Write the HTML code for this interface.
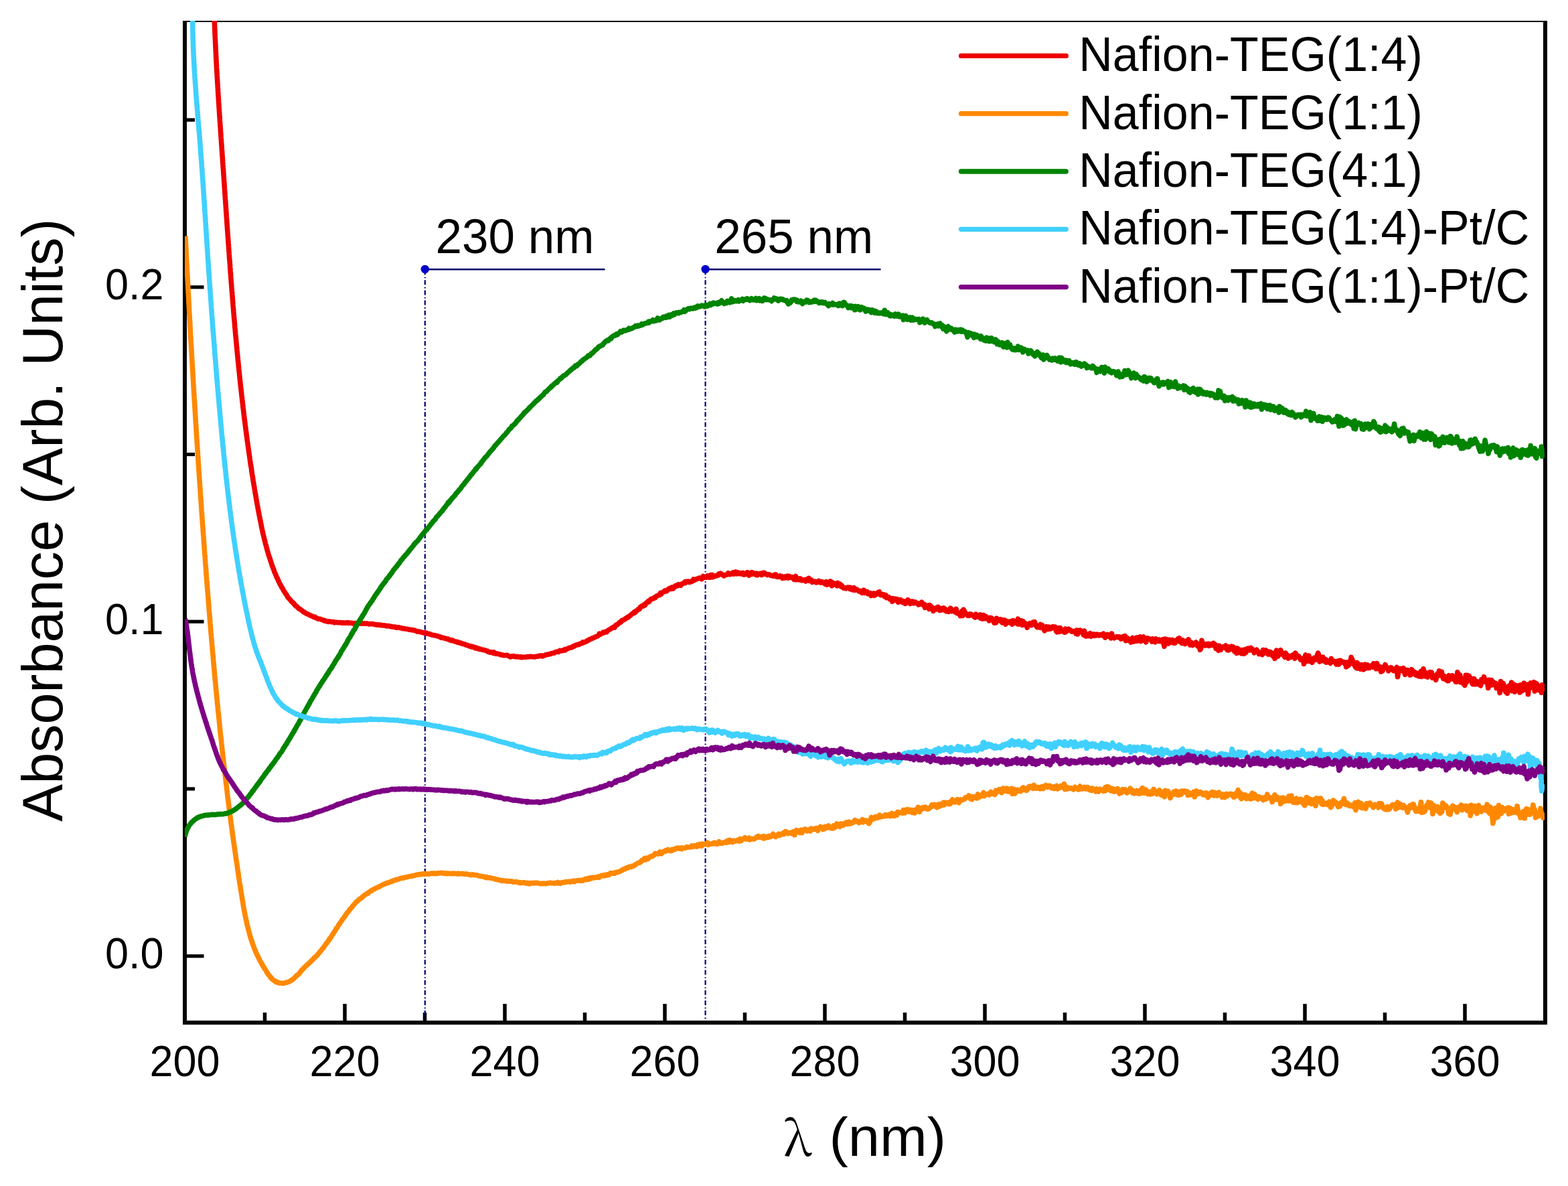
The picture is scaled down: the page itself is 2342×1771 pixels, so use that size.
<!DOCTYPE html>
<html><head><meta charset="utf-8"><title>UV-Vis absorbance</title><style>html,body{margin:0;padding:0;background:#fff;width:2342px;height:1771px;overflow:hidden}svg{display:block}</style></head><body>
<svg width="2342" height="1771" viewBox="0 0 2342 1771">
<rect width="2342" height="1771" fill="#fff"/>
<defs><clipPath id="pc"><rect x="276" y="31" width="2031" height="1497"/></clipPath></defs>
<g fill="#000">
<rect x="273" y="31" width="2038" height="2"/>
<rect x="273" y="31" width="6" height="1499"/>
<rect x="2305" y="31" width="6" height="1499"/>
<rect x="273" y="1524" width="2038" height="6"/>
<rect x="273.25" y="1499" width="5.5" height="25"/>
<rect x="392.75" y="1512" width="5.5" height="12"/>
<rect x="512.25" y="1499" width="5.5" height="25"/>
<rect x="631.75" y="1512" width="5.5" height="12"/>
<rect x="751.25" y="1499" width="5.5" height="25"/>
<rect x="870.75" y="1512" width="5.5" height="12"/>
<rect x="990.25" y="1499" width="5.5" height="25"/>
<rect x="1109.75" y="1512" width="5.5" height="12"/>
<rect x="1229.25" y="1499" width="5.5" height="25"/>
<rect x="1348.75" y="1512" width="5.5" height="12"/>
<rect x="1468.25" y="1499" width="5.5" height="25"/>
<rect x="1587.75" y="1512" width="5.5" height="12"/>
<rect x="1707.25" y="1499" width="5.5" height="25"/>
<rect x="1826.75" y="1512" width="5.5" height="12"/>
<rect x="1946.25" y="1499" width="5.5" height="25"/>
<rect x="2065.75" y="1512" width="5.5" height="12"/>
<rect x="2185.25" y="1499" width="5.5" height="25"/>
<rect x="279" y="1425.10" width="25.5" height="5.2"/>
<rect x="279" y="1175.38" width="12" height="5.2"/>
<rect x="279" y="925.65" width="25.5" height="5.2"/>
<rect x="279" y="675.93" width="12" height="5.2"/>
<rect x="279" y="426.20" width="25.5" height="5.2"/>
<rect x="279" y="176.48" width="12" height="5.2"/>
</g>
<line x1="634.8" y1="402" x2="634.8" y2="1524" stroke="#00006a" stroke-width="2.2" stroke-dasharray="7 3.5 1.6 3.05" stroke-dashoffset="14"/>
<line x1="634.8" y1="402.3" x2="903.5" y2="402.3" stroke="#00006a" stroke-width="2.6"/>
<circle cx="634.8" cy="402" r="6.2" fill="#0000c8"/>
<line x1="1053.6" y1="402" x2="1053.6" y2="1524" stroke="#00006a" stroke-width="2.2" stroke-dasharray="7 3.5 1.6 3.05" stroke-dashoffset="14"/>
<line x1="1053.6" y1="402.3" x2="1315.5" y2="402.3" stroke="#00006a" stroke-width="2.6"/>
<circle cx="1053.6" cy="402" r="6.2" fill="#0000c8"/>
<g clip-path="url(#pc)" fill="none" stroke-width="7.6" stroke-linejoin="round" stroke-linecap="butt">
<path d="M320.1 25.5L320.2 25.8 320.2 27.4 320.3 28.9 320.3 30.5 320.3 31.1 320.4 32.1 320.4 33.7 320.5 35.0 320.5 36.5 320.6 37.9 320.6 39.1 320.7 40.2 320.7 41.9 320.8 42.5 320.8 43.9 320.9 45.3 320.9 46.3 321.0 47.6 321.0 49.0 321.1 49.9 321.1 51.3 321.2 52.5 321.2 54.3 321.3 55.2 321.3 56.0 321.4 57.6 321.5 58.4 321.5 60.0 321.6 60.8 321.6 62.7 321.7 63.7 321.7 64.8 321.8 66.4 321.9 67.7 321.9 68.8 322.0 70.0 322.0 70.9 322.1 72.7 322.2 73.3 322.2 75.0 322.3 76.8 322.3 77.3 322.4 78.4 322.5 79.8 322.5 81.3 322.6 82.5 322.7 83.9 322.7 84.9 322.8 85.9 322.8 87.7 322.9 88.6 323.0 90.2 323.0 91.6 323.1 92.7 323.2 94.2 323.2 94.8 323.3 96.2 323.4 97.6 323.4 98.5 323.5 100.3 323.6 101.5 323.6 102.6 323.7 103.8 323.8 104.9 323.9 105.9 323.9 107.3 324.0 108.7 324.1 110.1 324.1 111.3 324.2 112.6 324.3 113.5 324.3 114.9 324.4 116.3 324.5 117.8 324.6 118.4 324.6 120.2 324.7 121.5 324.8 122.6 324.9 123.9 324.9 125.0 325.0 126.3 325.1 127.4 325.2 128.3 325.2 130.2 325.3 131.2 325.4 132.2 325.5 134.0 325.5 134.8 325.6 136.3 325.7 137.1 325.8 138.6 325.8 140.3 325.9 141.6 326.0 142.8 326.1 143.9 326.2 145.2 326.2 145.9 326.3 147.1 326.4 148.2 326.5 150.1 326.5 151.2 326.6 152.8 326.7 153.6 326.8 155.2 326.9 155.7 326.9 157.8 327.0 158.6 327.1 160.2 327.2 161.4 327.3 162.3 327.4 164.1 327.4 165.0 327.5 166.5 327.6 167.7 327.7 168.8 327.8 169.9 327.8 171.1 327.9 172.4 328.0 173.0 328.1 175.1 328.2 176.1 328.3 177.5 328.3 178.5 328.4 180.0 328.5 181.1 328.6 182.8 328.7 183.3 328.8 185.2 328.8 185.9 328.9 187.4 329.0 188.5 329.1 189.6 329.2 190.6 329.3 192.6 329.3 193.2 329.4 194.8 329.5 196.6 329.6 197.9 329.7 199.0 329.8 199.8 329.9 201.3 329.9 202.6 330.0 203.6 330.1 205.3 330.2 206.3 330.3 207.5 330.4 208.7 330.5 209.6 330.5 210.9 330.6 212.2 330.7 213.9 330.8 214.9 330.9 216.3 331.0 217.5 331.1 218.8 331.2 220.4 331.2 221.4 331.3 222.5 331.4 223.7 331.5 225.3 331.6 225.6 331.7 227.6 331.8 228.4 331.8 229.8 331.9 230.9 332.0 232.3 332.1 233.5 332.2 234.0 332.3 235.8 332.4 237.1 332.5 238.2 332.5 239.4 332.6 241.3 332.7 242.2 332.8 243.8 332.9 245.3 333.0 245.9 333.1 247.3 333.1 248.8 333.2 249.7 333.3 251.0 333.4 251.8 333.5 254.0 333.6 254.8 333.7 255.7 333.8 257.4 333.8 258.3 333.9 259.6 334.0 260.7 334.1 262.4 334.2 263.7 334.3 264.6 334.4 266.0 334.4 267.6 334.5 268.4 334.6 269.5 334.7 271.2 334.8 271.9 334.9 273.4 335.0 274.3 335.1 275.7 335.1 277.1 335.2 278.7 335.3 280.0 335.4 280.9 335.5 282.3 335.6 283.3 335.7 284.7 335.7 285.6 335.8 287.2 335.9 288.4 336.0 289.7 336.1 291.5 336.2 292.2 336.3 293.7 336.3 294.9 336.4 295.5 336.5 297.3 336.6 298.7 336.7 299.3 336.8 300.8 336.9 303.1 336.9 303.5 337.0 304.6 337.1 305.8 337.2 306.8 337.3 308.2 337.4 309.5 337.5 310.7 337.5 312.5 337.6 313.9 337.7 315.0 337.8 315.7 337.9 317.0 338.0 318.0 338.1 319.7 338.1 320.8 338.2 322.1 338.3 323.5 338.4 325.0 338.5 326.1 338.6 327.0 338.7 328.9 338.7 329.8 338.8 330.7 338.9 332.5 339.0 333.3 339.1 335.1 339.2 336.1 339.3 337.1 339.4 338.7 339.4 339.1 339.5 340.8 339.6 342.1 339.7 343.3 339.8 344.5 339.9 346.3 340.0 347.1 340.1 348.1 340.1 349.4 340.2 351.5 340.3 352.0 340.4 353.0 340.5 354.4 340.6 356.0 340.7 357.0 340.8 358.3 340.8 359.6 340.9 360.8 341.0 362.1 341.1 363.8 341.2 364.6 341.3 365.8 341.4 366.2 341.5 368.3 341.6 369.7 341.6 370.5 341.7 372.2 341.8 373.1 341.9 374.7 342.0 375.9 342.1 376.5 342.2 378.5 342.3 379.8 342.4 380.7 342.5 381.7 342.5 383.2 342.6 384.4 342.7 385.9 342.8 386.9 342.9 388.2 343.0 389.7 343.1 390.8 343.2 391.9 343.3 393.0 343.4 394.2 343.5 395.5 343.5 396.8 343.6 398.2 343.7 399.8 343.8 400.7 343.9 402.0 344.0 402.8 344.1 404.8 344.2 405.7 344.3 407.2 344.4 408.5 344.5 409.5 344.6 411.0 344.7 411.8 344.8 413.2 344.9 415.0 345.0 415.6 345.0 417.1 345.1 418.2 345.2 419.2 345.3 421.1 345.4 422.0 345.5 423.5 345.6 425.0 345.7 425.3 345.8 426.8 345.9 428.3 346.0 429.3 346.1 430.9 346.2 432.1 346.3 433.3 346.4 434.6 346.5 435.4 346.6 436.4 346.7 437.5 346.8 439.3 346.9 440.3 347.0 442.1 347.1 442.7 347.2 443.9 347.3 445.1 347.4 447.3 347.5 448.2 347.6 449.6 347.7 450.3 347.8 452.2 347.9 452.6 348.0 454.3 348.1 455.5 348.2 457.1 348.3 457.9 348.4 459.2 348.5 460.4 348.6 461.7 348.7 462.9 348.8 464.3 348.9 465.6 349.0 466.6 349.1 467.9 349.2 469.3 349.3 470.6 349.4 471.8 349.5 473.2 349.6 474.5 349.8 475.9 349.9 476.8 350.0 478.3 350.1 479.3 350.2 480.1 350.3 481.5 350.4 482.9 350.5 484.0 350.6 485.3 350.7 487.0 350.8 488.5 350.9 489.6 351.0 490.8 351.2 491.5 351.3 493.2 351.4 494.7 351.5 496.0 351.6 497.0 351.7 498.6 351.8 499.4 351.9 500.5 352.0 501.9 352.2 503.0 352.3 504.0 352.4 505.3 352.5 506.9 352.6 507.7 352.7 509.2 352.8 510.5 353.0 511.9 353.1 512.9 353.2 514.2 353.3 515.7 353.4 516.4 353.5 517.6 353.6 518.7 353.8 520.5 353.9 521.5 354.0 522.8 354.1 523.7 354.2 525.3 354.4 526.4 354.5 527.8 354.6 529.1 354.7 530.4 354.8 532.1 355.0 532.7 355.1 534.2 355.2 535.3 355.3 536.6 355.4 537.9 355.6 539.3 355.7 540.3 355.8 541.5 355.9 542.8 356.1 543.9 356.2 545.0 356.3 546.4 356.4 547.6 356.6 548.5 356.7 550.3 356.8 551.4 356.9 552.8 357.1 553.9 357.2 554.7 357.3 556.1 357.4 557.5 357.6 558.4 357.7 560.2 357.8 560.9 358.0 562.8 358.1 563.9 358.2 565.3 358.4 566.3 358.5 567.9 358.6 569.1 358.8 570.6 358.9 571.9 359.0 573.0 359.2 573.3 359.3 575.2 359.4 576.2 359.6 577.8 359.7 578.9 359.8 579.8 360.0 581.1 360.1 582.7 360.2 583.8 360.4 584.9 360.5 586.3 360.7 587.3 360.8 588.9 360.9 589.9 361.1 591.4 361.2 591.8 361.4 593.8 361.5 594.9 361.6 596.0 361.8 597.5 361.9 598.9 362.1 600.2 362.2 601.2 362.4 602.4 362.5 603.7 362.7 605.0 362.8 606.9 362.9 607.9 363.1 609.3 363.2 609.9 363.4 611.3 363.5 612.3 363.7 613.9 363.8 615.0 364.0 616.7 364.1 617.7 364.3 618.8 364.4 619.9 364.6 621.2 364.7 622.8 364.9 623.6 365.0 624.9 365.2 626.2 365.4 627.4 365.5 628.2 365.7 629.7 365.8 630.8 366.0 632.4 366.1 633.5 366.3 634.8 366.4 635.6 366.6 637.0 366.8 637.9 366.9 639.7 367.1 640.7 367.2 641.9 367.4 643.4 367.6 644.8 367.7 645.8 367.9 647.2 368.1 648.5 368.2 649.7 368.4 650.8 368.6 652.1 368.7 653.7 368.9 654.8 369.1 655.7 369.2 657.2 369.4 658.6 369.6 659.6 369.7 660.6 369.9 661.7 370.1 663.3 370.2 665.0 370.4 665.8 370.6 666.9 370.8 668.1 370.9 669.8 371.1 670.3 371.3 671.9 371.5 673.2 371.6 674.3 371.8 676.2 372.0 676.9 372.2 678.1 372.3 679.5 372.5 680.5 372.7 681.3 372.9 683.0 373.1 684.1 373.2 685.4 373.4 687.1 373.6 688.0 373.8 689.6 374.0 690.9 374.2 692.3 374.3 693.8 374.5 694.2 374.7 695.4 374.9 696.8 375.1 697.8 375.3 698.9 375.5 700.2 375.7 701.9 375.8 702.5 376.0 704.4 376.2 705.7 376.4 706.5 376.6 707.9 376.8 709.2 377.0 710.3 377.2 711.8 377.4 712.5 377.6 713.8 377.8 715.3 378.0 716.6 378.2 718.1 378.4 719.2 378.6 720.6 378.8 721.6 379.0 722.9 379.2 724.2 379.4 725.2 379.6 726.4 379.8 727.6 380.0 728.6 380.2 730.0 380.4 731.2 380.6 732.3 380.8 733.7 381.0 735.0 381.2 736.7 381.5 737.9 381.7 738.5 381.9 740.1 382.1 741.0 382.3 742.1 382.5 743.6 382.7 744.8 382.9 746.1 383.2 747.2 383.4 748.8 383.6 749.6 383.8 751.0 384.0 752.5 384.3 753.9 384.5 754.6 384.7 755.8 384.9 757.3 385.1 758.4 385.4 760.0 385.6 760.4 385.8 762.2 386.0 763.0 386.3 764.4 386.5 765.9 386.7 766.8 387.0 767.9 387.2 769.2 387.4 770.3 387.7 771.7 387.9 772.8 388.1 773.9 388.4 775.0 388.6 776.7 388.9 777.7 389.1 778.7 389.4 780.0 389.6 781.5 389.9 782.5 390.1 784.0 390.4 785.5 390.6 787.2 390.9 787.8 391.1 789.4 391.4 789.9 391.7 791.4 392.0 792.9 392.2 794.2 392.5 795.0 392.8 796.8 393.1 797.8 393.3 798.9 393.6 800.1 393.9 801.0 394.2 802.6 394.5 803.6 394.8 804.7 395.1 806.2 395.4 807.1 395.7 808.5 396.0 809.7 396.3 811.0 396.6 812.1 397.0 813.4 397.3 814.2 397.6 815.5 397.9 817.1 398.3 818.2 398.6 819.2 398.9 820.7 399.3 821.9 399.6 823.3 400.0 824.4 400.3 825.3 400.7 826.7 401.0 828.1 401.4 829.2 401.8 830.1 402.2 831.6 402.5 832.3 402.9 833.6 403.3 834.5 403.7 836.1 404.1 837.4 404.5 838.5 404.9 839.7 405.3 840.8 405.7 842.3 406.1 843.3 406.5 844.6 406.9 845.7 407.4 846.8 407.8 848.0 408.2 849.2 408.7 850.2 409.1 851.1 409.6 853.0 410.0 854.4 410.5 855.1 411.0 856.0 411.4 857.4 411.9 858.2 412.4 859.8 412.9 861.2 413.4 862.1 413.9 863.2 414.4 863.7 415.0 865.2 415.5 866.1 416.0 868.0 416.6 868.7 417.1 869.8 417.7 871.2 418.3 872.4 418.8 873.4 419.4 874.1 420.0 875.5 420.6 876.6 421.2 877.4 421.9 878.7 422.5 879.4 423.1 880.9 423.8 882.2 424.4 883.1 425.1 883.9 425.8 885.2 426.5 886.3 427.2 887.2 427.9 887.9 428.6 889.3 429.3 890.5 430.1 892.4 430.8 892.8 431.6 893.5 432.4 894.7 433.2 895.2 434.0 896.2 434.8 897.5 435.6 898.3 436.4 899.0 437.3 899.7 438.2 900.1 439.0 901.8 439.9 902.4 440.8 903.9 441.7 904.8 442.6 905.0 443.6 905.9 444.5 906.9 445.5 907.9 446.4 908.9 447.4 909.1 448.4 909.6 449.4 910.7 450.4 911.4 451.5 912.1 452.5 913.2 453.5 913.4 454.6 914.5 455.7 914.9 456.7 915.7 457.8 916.5 458.9 916.8 460.0 917.0 461.1 917.7 462.2 918.5 463.3 918.7 464.5 919.2 465.6 919.9 466.7 920.3 467.9 921.1 469.0 921.6 470.2 921.2 471.4 922.5 472.5 922.7 473.7 923.3 474.9 924.1 476.1 924.1 477.3 924.2 478.5 924.3 479.7 925.0 480.9 925.5 482.1 925.9 483.3 926.0 484.5 927.0 485.7 926.8 486.9 927.7 488.2 927.6 489.4 928.2 490.6 928.4 491.9 927.9 493.1 928.2 494.3 928.4 495.6 928.8 496.8 928.5 498.0 928.6 499.3 929.8 500.5 929.3 501.8 929.5 503.0 929.3 504.3 929.5 505.5 929.7 506.8 929.7 508.0 929.6 509.3 929.7 510.5 930.2 511.8 929.7 513.0 930.2 514.3 930.0 515.5 930.0 516.8 930.3 518.0 930.0 519.3 929.5 520.5 930.3 521.8 930.1 523.0 930.2 524.3 930.5 525.5 930.4 526.8 930.9 528.0 930.7 529.3 931.5 530.5 930.6 531.8 931.0 533.0 931.0 534.3 930.7 535.5 930.7 536.8 930.9 538.0 930.4 539.3 931.0 540.5 931.3 541.8 930.9 543.0 931.1 544.3 930.9 545.5 931.2 546.7 931.3 548.0 931.1 549.2 931.3 550.5 931.7 551.7 931.9 553.0 931.6 554.2 931.8 555.5 931.8 556.7 931.6 558.0 932.1 559.2 932.4 560.5 932.6 561.7 932.5 562.9 933.2 564.2 933.3 565.4 932.9 566.7 933.1 567.9 933.6 569.2 933.3 570.4 933.8 571.7 934.0 572.9 933.7 574.1 933.9 575.4 934.1 576.6 934.7 577.9 934.9 579.1 934.5 580.3 934.6 581.6 935.1 582.8 935.4 584.1 935.3 585.3 936.0 586.5 935.8 587.8 936.2 589.0 936.4 590.2 936.0 591.5 937.1 592.7 937.2 593.9 936.8 595.2 936.8 596.4 937.1 597.6 937.7 598.9 937.6 600.1 938.0 601.3 938.7 602.6 938.4 603.8 938.6 605.0 939.1 606.3 939.3 607.5 939.2 608.7 939.2 609.9 939.9 611.2 940.1 612.4 940.3 613.6 940.6 614.9 940.8 616.1 940.5 617.3 941.1 618.5 941.0 619.8 941.6 621.0 942.1 622.2 942.7 623.4 943.1 624.6 943.1 625.9 943.1 627.1 943.5 628.3 943.8 629.5 943.9 630.7 944.4 632.0 944.7 633.2 945.1 634.4 944.8 635.6 945.1 636.8 945.1 638.0 946.3 639.2 946.3 640.5 946.7 641.7 946.5 642.9 947.5 644.1 947.6 645.3 948.2 646.5 948.5 647.7 948.5 648.9 948.7 650.1 949.0 651.4 949.2 652.6 949.5 653.8 950.0 655.0 950.5 656.2 950.6 657.4 951.1 658.6 952.1 659.8 951.8 661.0 952.2 662.2 952.8 663.4 952.7 664.6 953.2 665.8 953.2 667.0 954.0 668.2 954.1 669.4 954.1 670.6 955.2 671.8 955.7 673.0 955.7 674.2 956.7 675.4 955.9 676.6 956.4 677.8 957.3 679.0 957.9 680.2 958.0 681.3 958.2 682.5 958.3 683.7 959.5 684.9 959.1 686.1 959.8 687.3 960.1 688.5 960.0 689.7 961.1 690.9 961.0 692.1 961.6 693.3 962.0 694.5 962.1 695.7 963.1 696.9 963.4 698.0 963.4 699.2 964.1 700.4 964.6 701.6 965.2 702.8 964.9 704.0 966.0 705.2 965.4 706.4 965.7 707.6 966.7 708.8 966.6 710.0 967.8 711.2 967.1 712.4 968.1 713.6 968.7 714.8 968.3 716.0 969.4 717.2 969.0 718.4 969.8 719.6 970.0 720.8 970.2 722.0 970.6 723.2 970.8 724.4 970.9 725.6 971.4 726.8 972.2 728.0 972.1 729.2 973.4 730.4 973.2 731.6 974.2 732.9 973.9 734.1 973.9 735.3 974.1 736.5 975.2 737.7 974.0 738.9 975.2 740.1 976.2 741.3 975.7 742.6 976.2 743.8 976.3 745.0 976.9 746.2 976.7 747.5 977.4 748.7 978.0 749.9 977.9 751.1 978.2 752.4 978.8 753.6 978.8 754.8 978.6 756.1 978.4 757.3 978.4 758.5 979.1 759.8 979.4 761.0 980.3 762.2 981.0 763.5 980.6 764.7 979.9 766.0 980.0 767.2 979.6 768.5 980.4 769.7 980.5 770.9 980.9 772.2 980.3 773.4 980.9 774.7 980.9 775.9 981.3 777.2 980.6 778.4 981.7 779.7 981.4 780.9 981.5 782.2 981.2 783.4 981.3 784.7 981.3 785.9 980.9 787.2 980.9 788.4 980.5 789.7 980.9 790.9 980.6 792.2 980.2 793.4 980.4 794.7 980.7 795.9 980.8 797.2 980.7 798.4 981.0 799.7 980.6 800.9 980.4 802.2 980.1 803.4 980.2 804.6 979.8 805.9 979.0 807.1 979.4 808.3 979.2 809.6 979.0 810.8 979.9 812.0 978.9 813.3 978.7 814.5 978.3 815.7 977.5 816.9 977.5 818.2 977.3 819.4 977.2 820.6 976.6 821.8 976.8 823.0 976.3 824.2 975.6 825.5 975.4 826.7 975.3 827.9 975.0 829.1 974.0 830.3 973.4 831.5 973.2 832.7 973.1 833.9 973.6 835.1 972.8 836.3 971.3 837.5 971.7 838.6 971.7 839.8 971.7 841.0 970.9 842.2 971.3 843.4 969.9 844.6 970.7 845.8 969.2 846.9 968.9 848.1 968.7 849.3 967.9 850.5 967.2 851.7 967.3 852.8 966.7 854.0 966.8 855.2 966.0 856.3 964.9 857.5 965.0 858.7 964.0 859.8 963.2 861.0 963.4 862.2 962.8 863.3 962.2 864.5 962.6 865.7 961.8 866.8 961.0 868.0 960.8 869.1 960.8 870.3 959.0 871.4 959.7 872.6 959.0 873.7 958.5 874.9 958.4 876.0 957.9 877.2 956.5 878.3 956.7 879.5 955.7 880.6 954.5 881.7 954.5 882.9 953.9 884.0 953.8 885.1 952.7 886.3 952.2 887.4 952.3 888.5 951.3 889.6 951.0 890.7 950.4 891.9 950.4 893.0 949.5 894.1 948.4 895.2 946.2 896.3 947.5 897.4 946.2 898.5 946.3 899.6 945.5 900.7 944.3 901.8 945.0 902.9 943.8 904.0 943.5 905.1 943.1 906.2 943.8 907.3 941.7 908.4 941.3 909.4 940.5 910.5 940.0 911.6 939.6 912.7 938.5 913.7 938.1 914.8 937.4 915.8 936.7 916.9 936.1 918.0 937.0 919.0 934.2 920.1 933.9 921.1 932.5 922.2 932.7 923.2 931.9 924.3 930.6 925.3 929.3 926.3 929.5 927.4 929.1 928.4 926.7 929.4 926.4 930.4 926.2 931.4 925.5 932.5 924.9 933.5 924.7 934.5 923.4 935.5 922.9 936.5 922.7 937.5 921.4 938.5 921.8 939.5 920.2 940.5 920.0 941.5 918.7 942.5 918.3 943.5 917.0 944.5 916.4 945.5 915.8 946.5 914.5 947.5 915.3 948.4 913.3 949.4 914.0 950.4 912.1 951.4 911.8 952.4 910.4 953.4 909.7 954.4 910.0 955.4 909.1 956.4 906.5 957.4 906.2 958.4 905.1 959.4 905.4 960.4 904.0 961.4 904.7 962.4 902.7 963.4 903.8 964.4 901.5 965.4 900.0 966.5 899.6 967.5 899.2 968.5 897.5 969.5 898.7 970.6 897.0 971.6 895.5 972.6 894.3 973.7 894.6 974.7 894.1 975.8 893.9 976.8 892.8 977.9 891.8 978.9 892.5 980.0 891.1 981.1 889.8 982.1 889.8 983.2 889.0 984.3 888.2 985.4 888.5 986.5 885.3 987.5 887.2 988.6 885.4 989.7 884.4 990.8 883.7 991.9 883.7 993.0 882.0 994.1 882.5 995.2 883.0 996.4 882.2 997.5 880.1 998.6 879.8 999.7 878.6 1000.8 878.1 1002.0 879.5 1003.1 879.2 1004.2 876.9 1005.4 878.9 1006.5 877.7 1007.6 876.3 1008.8 874.6 1009.9 874.2 1011.1 875.1 1012.3 874.7 1013.4 872.7 1014.6 873.9 1015.7 873.5 1016.9 874.2 1018.1 872.0 1019.2 871.8 1020.4 871.1 1021.6 870.3 1022.8 869.1 1023.9 870.5 1025.1 868.4 1026.3 868.6 1027.5 868.1 1028.7 868.5 1029.9 869.5 1031.1 868.4 1032.3 868.7 1033.5 868.2 1034.7 867.0 1035.9 865.0 1037.1 866.5 1038.3 865.8 1039.5 865.1 1040.7 864.5 1041.9 864.3 1043.1 863.5 1044.3 863.1 1045.6 863.0 1046.8 863.6 1048.0 864.7 1049.2 863.3 1050.4 860.5 1051.7 862.1 1052.9 862.3 1054.1 862.4 1055.3 860.9 1056.6 859.8 1057.8 861.9 1059.0 860.2 1060.3 862.1 1061.5 858.7 1062.7 861.7 1064.0 858.5 1065.2 861.6 1066.4 859.8 1067.7 860.4 1068.9 859.7 1070.2 859.9 1071.4 858.9 1072.6 859.1 1073.9 856.8 1075.1 857.7 1076.4 856.2 1077.6 857.7 1078.9 858.3 1080.1 858.3 1081.3 859.9 1082.6 859.2 1083.8 858.4 1085.1 858.1 1086.3 858.0 1087.6 855.8 1088.8 856.8 1090.1 857.8 1091.3 857.1 1092.6 857.2 1093.8 855.3 1095.1 854.9 1096.3 857.1 1097.6 855.5 1098.8 854.1 1100.1 857.0 1101.3 856.8 1102.6 854.9 1103.8 856.1 1105.1 856.5 1106.3 856.9 1107.6 855.7 1108.8 857.3 1110.1 855.5 1111.3 858.1 1112.6 856.7 1113.8 857.5 1115.1 857.5 1116.3 854.7 1117.6 857.6 1118.8 859.2 1120.1 858.1 1121.3 856.3 1122.6 854.7 1123.8 857.4 1125.1 855.5 1126.3 856.4 1127.6 857.5 1128.8 858.2 1130.1 856.2 1131.3 858.8 1132.6 858.0 1133.8 856.7 1135.1 856.4 1136.3 856.9 1137.6 858.5 1138.8 855.8 1140.1 857.4 1141.3 855.2 1142.6 856.1 1143.8 857.4 1145.1 857.9 1146.3 858.6 1147.5 857.8 1148.8 857.9 1150.0 858.2 1151.3 859.5 1152.5 859.2 1153.8 859.8 1155.0 860.3 1156.3 858.8 1157.5 858.1 1158.8 858.0 1160.0 861.2 1161.2 860.3 1162.5 861.4 1163.7 861.3 1165.0 860.0 1166.2 861.1 1167.5 860.7 1168.7 863.6 1169.9 861.5 1171.2 862.9 1172.4 861.1 1173.7 862.7 1174.9 861.4 1176.1 860.3 1177.4 863.0 1178.6 860.4 1179.9 861.0 1181.1 862.5 1182.3 862.5 1183.6 861.9 1184.8 863.0 1186.0 865.3 1187.3 862.8 1188.5 860.6 1189.8 865.7 1191.0 863.8 1192.2 864.1 1193.5 865.6 1194.7 863.9 1195.9 864.2 1197.2 866.8 1198.4 866.8 1199.6 866.6 1200.9 866.2 1202.1 865.7 1203.3 867.9 1204.6 867.1 1205.8 864.7 1207.0 866.5 1208.3 863.5 1209.5 867.5 1210.7 867.2 1212.0 866.3 1213.2 869.4 1214.4 868.8 1215.6 868.3 1216.9 868.3 1218.1 868.3 1219.3 869.9 1220.6 869.6 1221.8 868.3 1223.0 867.4 1224.2 869.1 1225.5 870.1 1226.7 868.5 1227.9 868.7 1229.2 869.7 1230.4 870.5 1231.6 871.4 1232.8 872.4 1234.1 868.7 1235.3 873.2 1236.5 872.0 1237.7 870.5 1239.0 872.3 1240.2 868.0 1241.4 868.7 1242.6 874.7 1243.9 870.4 1245.1 873.1 1246.3 871.3 1247.5 872.4 1248.7 871.8 1250.0 874.9 1251.2 870.5 1252.4 873.5 1253.6 872.0 1254.9 872.1 1256.1 875.8 1257.3 874.2 1258.5 876.4 1259.7 878.1 1261.0 877.5 1262.2 878.3 1263.4 878.9 1264.6 877.7 1265.8 877.0 1267.1 877.6 1268.3 877.2 1269.5 879.5 1270.7 877.5 1271.9 879.7 1273.2 880.7 1274.4 879.1 1275.6 877.8 1276.8 881.3 1278.0 880.1 1279.2 879.8 1280.5 880.7 1281.7 881.8 1282.9 882.9 1284.1 882.8 1285.3 882.4 1286.6 884.5 1287.8 885.3 1289.0 883.5 1290.2 881.2 1291.4 885.3 1292.6 884.7 1293.9 884.5 1295.1 883.5 1296.3 886.8 1297.5 886.6 1298.7 886.2 1299.9 885.6 1301.2 889.4 1302.4 887.1 1303.6 887.0 1304.8 886.1 1306.0 889.2 1307.2 888.2 1308.5 888.0 1309.7 885.7 1310.9 886.3 1312.1 884.3 1313.3 883.7 1314.5 887.9 1315.8 888.6 1317.0 887.3 1318.2 887.7 1319.4 887.5 1320.6 890.3 1321.8 891.1 1323.1 888.7 1324.3 892.7 1325.5 891.4 1326.7 891.3 1327.9 892.0 1329.1 894.8 1330.4 893.5 1331.6 894.7 1332.8 898.2 1334.0 893.7 1335.2 894.4 1336.4 896.1 1337.7 894.3 1338.9 895.0 1340.1 894.9 1341.3 899.3 1342.5 897.5 1343.8 896.1 1345.0 895.7 1346.2 898.4 1347.4 899.1 1348.6 897.5 1349.9 900.2 1351.1 898.2 1352.3 901.4 1353.5 899.8 1354.7 898.0 1356.0 895.7 1357.2 897.8 1358.4 898.9 1359.6 901.6 1360.8 898.2 1362.1 899.1 1363.3 898.2 1364.5 900.7 1365.7 899.8 1366.9 898.9 1368.2 900.6 1369.4 901.2 1370.6 900.8 1371.8 903.0 1373.0 901.3 1374.3 901.4 1375.5 901.9 1376.7 899.3 1377.9 902.9 1379.2 902.5 1380.4 902.3 1381.6 907.3 1382.8 905.7 1384.1 904.4 1385.3 904.0 1386.5 905.8 1387.7 909.4 1389.0 903.6 1390.2 908.2 1391.4 905.9 1392.6 908.5 1393.9 912.4 1395.1 910.9 1396.3 909.7 1397.5 908.4 1398.8 909.8 1400.0 906.8 1401.2 906.4 1402.4 908.4 1403.7 911.5 1404.9 909.0 1406.1 910.8 1407.3 908.4 1408.6 910.2 1409.8 908.1 1411.0 911.2 1412.2 909.7 1413.5 912.9 1414.7 911.9 1415.9 911.9 1417.1 913.4 1418.4 911.1 1419.6 908.2 1420.8 909.5 1422.1 912.7 1423.3 910.7 1424.5 911.8 1425.7 912.3 1427.0 914.3 1428.2 909.4 1429.4 915.7 1430.7 916.0 1431.9 915.4 1433.1 915.7 1434.3 919.6 1435.6 916.9 1436.8 912.6 1438.0 919.5 1439.3 910.3 1440.5 912.6 1441.7 915.5 1442.9 916.1 1444.2 917.4 1445.4 919.2 1446.6 917.6 1447.9 919.2 1449.1 916.9 1450.3 917.2 1451.6 918.3 1452.8 918.6 1454.0 920.1 1455.3 921.2 1456.5 921.9 1457.7 917.1 1458.9 918.8 1460.2 919.5 1461.4 921.4 1462.6 921.2 1463.9 917.9 1465.1 923.4 1466.3 919.6 1467.6 924.2 1468.8 918.5 1470.0 919.2 1471.3 923.5 1472.5 920.4 1473.7 921.8 1475.0 924.3 1476.2 923.7 1477.4 926.9 1478.7 922.5 1479.9 924.5 1481.1 923.1 1482.4 926.0 1483.6 926.6 1484.8 930.0 1486.0 927.1 1487.3 930.0 1488.5 923.3 1489.7 924.0 1491.0 924.9 1492.2 926.3 1493.4 927.2 1494.7 925.1 1495.9 925.9 1497.1 929.8 1498.4 925.8 1499.6 927.3 1500.8 926.1 1502.1 932.3 1503.3 927.7 1504.6 928.8 1505.8 928.4 1507.0 928.3 1508.3 930.1 1509.5 927.9 1510.7 929.7 1512.0 932.2 1513.2 926.6 1514.4 928.1 1515.7 927.6 1516.9 929.9 1518.1 929.3 1519.4 931.5 1520.6 924.2 1521.8 932.2 1523.1 929.1 1524.3 931.0 1525.5 926.9 1526.8 933.4 1528.0 927.6 1529.2 929.4 1530.5 932.8 1531.7 930.9 1533.0 932.0 1534.2 937.2 1535.4 933.7 1536.7 931.6 1537.9 930.8 1539.1 933.4 1540.4 933.7 1541.6 932.0 1542.8 929.1 1544.1 931.9 1545.3 928.6 1546.5 931.6 1547.8 934.9 1549.0 936.7 1550.3 936.7 1551.5 935.7 1552.7 936.7 1554.0 932.5 1555.2 937.3 1556.4 933.4 1557.7 935.6 1558.9 938.1 1560.1 941.8 1561.4 936.5 1562.6 935.8 1563.9 938.9 1565.1 939.6 1566.3 936.1 1567.6 939.0 1568.8 936.7 1570.0 938.7 1571.3 937.2 1572.5 935.7 1573.7 935.7 1575.0 937.8 1576.2 936.4 1577.5 942.5 1578.7 943.7 1579.9 941.5 1581.2 937.8 1582.4 943.5 1583.6 937.5 1584.9 942.0 1586.1 942.4 1587.4 941.6 1588.6 943.2 1589.8 944.3 1591.1 939.0 1592.3 943.6 1593.5 940.0 1594.8 941.3 1596.0 939.2 1597.3 940.6 1598.5 941.8 1599.7 941.4 1601.0 943.2 1602.2 942.8 1603.4 942.9 1604.7 943.1 1605.9 942.3 1607.2 946.2 1608.4 941.0 1609.6 947.0 1610.9 943.2 1612.1 941.5 1613.4 941.1 1614.6 943.0 1615.8 943.9 1617.1 944.8 1618.3 948.0 1619.5 942.0 1620.8 949.6 1622.0 950.0 1623.3 946.9 1624.5 947.0 1625.7 949.6 1627.0 949.3 1628.2 945.7 1629.5 950.3 1630.7 948.0 1631.9 947.5 1633.2 947.0 1634.4 949.4 1635.7 947.7 1636.9 948.7 1638.1 947.1 1639.4 947.7 1640.6 948.9 1641.9 949.0 1643.1 947.6 1644.3 948.4 1645.6 947.7 1646.8 948.8 1648.1 946.1 1649.3 948.2 1650.6 952.2 1651.8 950.9 1653.0 950.2 1654.3 947.5 1655.5 950.0 1656.8 948.9 1658.0 948.4 1659.3 952.8 1660.5 946.0 1661.7 950.4 1663.0 952.6 1664.2 952.9 1665.5 952.0 1666.7 951.5 1668.0 950.7 1669.2 951.7 1670.5 951.0 1671.7 950.8 1672.9 951.4 1674.2 954.0 1675.4 951.9 1676.7 950.8 1677.9 950.4 1679.2 953.8 1680.4 949.7 1681.7 956.7 1682.9 952.2 1684.2 954.5 1685.4 956.1 1686.7 954.2 1687.9 956.4 1689.2 959.1 1690.4 956.2 1691.6 952.4 1692.9 958.2 1694.1 955.8 1695.4 957.4 1696.6 957.1 1697.9 952.1 1699.1 957.1 1700.4 952.1 1701.6 953.4 1702.9 950.9 1704.1 957.6 1705.4 954.1 1706.6 955.7 1707.9 951.0 1709.1 953.5 1710.4 957.4 1711.6 958.9 1712.9 955.3 1714.1 952.9 1715.4 953.8 1716.6 953.7 1717.9 954.7 1719.1 954.4 1720.4 958.1 1721.6 954.0 1722.8 957.3 1724.1 957.1 1725.3 958.8 1726.6 953.9 1727.8 956.0 1729.1 956.6 1730.3 957.4 1731.6 955.2 1732.8 957.6 1734.1 956.3 1735.3 956.3 1736.6 955.0 1737.8 960.1 1739.1 965.2 1740.3 954.0 1741.5 956.6 1742.8 955.1 1744.0 957.4 1745.3 961.0 1746.5 955.3 1747.8 959.5 1749.0 957.5 1750.3 955.4 1751.5 956.1 1752.7 960.2 1754.0 956.6 1755.2 960.2 1756.5 957.3 1757.7 957.4 1759.0 954.1 1760.2 956.1 1761.4 952.9 1762.7 958.4 1763.9 956.9 1765.2 960.6 1766.4 955.9 1767.7 958.7 1768.9 957.6 1770.1 961.7 1771.4 957.5 1772.6 960.3 1773.9 959.1 1775.1 954.9 1776.4 957.8 1777.6 963.1 1778.8 962.5 1780.1 959.7 1781.3 963.6 1782.6 961.4 1783.8 962.2 1785.0 960.8 1786.3 959.1 1787.5 961.1 1788.8 964.9 1790.0 961.3 1791.3 963.1 1792.5 970.3 1793.7 968.3 1795.0 956.2 1796.2 961.8 1797.5 961.8 1798.7 962.5 1799.9 963.9 1801.2 962.1 1802.4 963.5 1803.7 961.5 1804.9 961.3 1806.1 964.4 1807.4 962.9 1808.6 962.5 1809.9 961.5 1811.1 963.5 1812.3 960.3 1813.6 962.3 1814.8 962.3 1816.1 968.4 1817.3 966.6 1818.5 966.6 1819.8 971.3 1821.0 964.2 1822.3 968.6 1823.5 970.3 1824.7 967.0 1826.0 966.2 1827.2 965.6 1828.5 966.8 1829.7 966.0 1830.9 964.1 1832.2 969.3 1833.4 970.8 1834.7 970.9 1835.9 965.9 1837.1 969.8 1838.4 968.5 1839.6 965.2 1840.9 968.8 1842.1 966.0 1843.3 971.9 1844.6 973.3 1845.8 971.5 1847.0 975.4 1848.3 967.9 1849.5 974.7 1850.8 971.0 1852.0 970.4 1853.2 970.8 1854.5 975.9 1855.7 972.2 1857.0 970.4 1858.2 976.2 1859.5 970.0 1860.7 974.7 1861.9 969.1 1863.2 971.3 1864.4 968.2 1865.7 969.0 1866.9 970.8 1868.1 967.4 1869.4 970.2 1870.6 969.3 1871.9 970.7 1873.1 974.8 1874.3 971.8 1875.6 971.6 1876.8 970.2 1878.1 973.8 1879.3 973.3 1880.5 976.6 1881.8 974.2 1883.0 975.6 1884.3 974.3 1885.5 977.7 1886.7 970.5 1888.0 975.5 1889.2 972.3 1890.5 971.1 1891.7 974.7 1892.9 972.4 1894.2 977.1 1895.4 975.6 1896.7 973.4 1897.9 973.7 1899.1 977.9 1900.4 976.7 1901.6 980.0 1902.9 975.3 1904.1 983.4 1905.3 975.7 1906.6 971.1 1907.8 976.5 1909.1 979.9 1910.3 973.4 1911.6 972.5 1912.8 970.8 1914.0 974.4 1915.3 977.3 1916.5 977.8 1917.8 978.6 1919.0 981.3 1920.2 975.1 1921.5 980.2 1922.7 978.3 1924.0 983.2 1925.2 980.4 1926.4 981.1 1927.7 981.5 1928.9 979.1 1930.2 978.5 1931.4 980.4 1932.6 977.1 1933.9 983.3 1935.1 975.2 1936.4 980.1 1937.6 980.7 1938.8 979.2 1940.1 980.2 1941.3 982.4 1942.6 985.0 1943.8 983.7 1945.0 984.7 1946.3 984.1 1947.5 991.5 1948.8 981.2 1950.0 978.0 1951.2 987.8 1952.5 986.8 1953.7 983.9 1955.0 979.2 1956.2 987.5 1957.4 986.8 1958.7 987.2 1959.9 989.3 1961.2 984.0 1962.4 982.5 1963.6 985.8 1964.9 985.1 1966.1 983.6 1967.4 978.7 1968.6 975.1 1969.8 978.1 1971.1 988.1 1972.3 981.5 1973.6 983.0 1974.8 982.7 1976.0 981.2 1977.3 987.1 1978.5 986.4 1979.8 984.5 1981.0 989.1 1982.2 986.3 1983.5 988.6 1984.7 986.9 1986.0 988.8 1987.2 990.4 1988.4 983.6 1989.7 987.5 1990.9 986.9 1992.1 987.0 1993.4 988.7 1994.6 987.7 1995.9 992.0 1997.1 987.7 1998.3 987.0 1999.6 992.2 2000.8 989.6 2002.1 986.3 2003.3 987.1 2004.5 989.0 2005.8 988.7 2007.0 988.6 2008.3 990.8 2009.5 989.3 2010.7 995.8 2012.0 994.9 2013.2 988.9 2014.4 993.5 2015.7 990.0 2016.9 987.7 2018.2 981.4 2019.4 984.3 2020.6 986.5 2021.9 992.1 2023.1 992.9 2024.4 996.0 2025.6 997.1 2026.8 989.5 2028.1 998.1 2029.3 991.5 2030.5 997.8 2031.8 999.0 2033.0 994.7 2034.3 992.7 2035.5 994.7 2036.7 999.9 2038.0 994.8 2039.2 992.2 2040.5 997.9 2041.7 995.7 2042.9 993.0 2044.2 997.4 2045.4 997.4 2046.7 995.3 2047.9 994.6 2049.1 993.5 2050.4 996.1 2051.6 990.8 2052.8 993.9 2054.1 996.1 2055.3 998.8 2056.6 990.5 2057.8 995.2 2059.0 998.9 2060.3 997.4 2061.5 995.8 2062.8 1003.0 2064.0 1002.2 2065.2 1001.8 2066.5 997.2 2067.7 995.0 2069.0 992.6 2070.2 995.5 2071.4 996.5 2072.7 997.8 2073.9 1001.8 2075.2 999.5 2076.4 999.7 2077.6 996.8 2078.9 997.4 2080.1 999.9 2081.3 1001.7 2082.6 1001.8 2083.8 1000.0 2085.1 1001.1 2086.3 996.5 2087.5 1010.8 2088.8 1003.7 2090.0 999.2 2091.3 998.4 2092.5 1001.1 2093.7 999.2 2095.0 1002.0 2096.2 997.6 2097.5 1002.4 2098.7 1007.3 2099.9 1001.5 2101.2 1000.5 2102.4 1000.6 2103.7 1001.5 2104.9 1003.1 2106.1 1008.0 2107.4 1007.6 2108.6 999.7 2109.9 1004.7 2111.1 1002.3 2112.3 1006.2 2113.6 1004.1 2114.8 1008.1 2116.1 1005.0 2117.3 1008.9 2118.5 1005.5 2119.8 1010.2 2121.0 1005.5 2122.3 1002.5 2123.5 1010.5 2124.7 1004.7 2126.0 998.8 2127.2 1006.6 2128.5 1009.7 2129.7 1004.2 2130.9 1007.2 2132.2 1011.2 2133.4 1009.4 2134.7 1009.2 2135.9 1003.6 2137.1 1005.0 2138.4 1004.3 2139.6 1012.1 2140.9 1010.2 2142.1 1009.1 2143.4 1013.0 2144.6 1015.3 2145.8 1010.5 2147.1 1005.9 2148.3 1009.1 2149.6 1001.8 2150.8 1006.4 2152.0 1007.9 2153.3 1003.1 2154.5 1010.4 2155.8 1013.4 2157.0 1009.4 2158.2 1009.9 2159.5 1014.9 2160.7 1013.7 2162.0 1016.6 2163.2 1016.7 2164.4 1008.7 2165.7 1011.9 2166.9 1011.1 2168.2 1013.8 2169.4 1008.8 2170.7 1013.6 2171.9 1012.7 2173.1 1015.7 2174.4 1018.2 2175.6 1018.3 2176.9 1003.8 2178.1 1012.9 2179.3 1012.5 2180.6 1007.7 2181.8 1018.8 2183.1 1012.8 2184.3 1017.8 2185.5 1020.8 2186.8 1017.4 2188.0 1023.4 2189.3 1008.4 2190.5 1018.9 2191.8 1008.3 2193.0 1016.1 2194.2 1009.3 2195.5 1011.7 2196.7 1016.1 2198.0 1017.2 2199.2 1021.6 2200.4 1021.8 2201.7 1013.4 2202.9 1016.7 2204.2 1021.7 2205.4 1020.1 2206.6 1017.7 2207.9 1020.6 2209.1 1022.2 2210.4 1022.1 2211.6 1023.8 2212.9 1014.5 2214.1 1016.9 2215.3 1018.3 2216.6 1010.7 2217.8 1015.2 2219.1 1018.1 2220.3 1017.0 2221.5 1018.1 2222.8 1027.5 2224.0 1015.3 2225.3 1023.7 2226.5 1020.7 2227.8 1015.6 2229.0 1022.8 2230.2 1018.1 2231.5 1020.5 2232.7 1020.3 2234.0 1020.4 2235.2 1027.5 2236.5 1024.7 2237.7 1025.9 2238.9 1024.1 2240.2 1034.6 2241.4 1017.5 2242.7 1024.2 2243.9 1029.0 2245.1 1020.3 2246.4 1023.4 2247.6 1030.7 2248.9 1033.2 2250.1 1031.6 2251.4 1035.4 2252.6 1026.8 2253.8 1024.3 2255.1 1027.1 2256.3 1027.8 2257.6 1019.0 2258.8 1031.8 2260.0 1025.7 2261.3 1022.0 2262.5 1033.1 2263.8 1026.0 2265.0 1023.7 2266.3 1031.0 2267.5 1025.7 2268.7 1023.9 2270.0 1034.0 2271.2 1022.7 2272.5 1027.4 2273.7 1031.5 2275.0 1027.6 2276.2 1020.1 2277.4 1023.2 2278.7 1023.2 2279.9 1030.3 2281.2 1022.2 2282.4 1036.8 2283.7 1025.1 2284.9 1025.4 2286.1 1019.8 2287.4 1026.7 2288.6 1023.7 2289.9 1023.2 2291.1 1018.6 2292.3 1032.1 2293.6 1026.0 2294.8 1020.4 2296.1 1022.7 2297.3 1030.1 2298.6 1027.4 2299.8 1030.8 2301.0 1025.0 2302.3 1034.3 2303.5 1022.7 2304.8 1029.0 2306.0 1021.2" stroke="#EE0000"/>
<path d="M276.9 352.6L277.0 353.9 277.0 355.5 277.1 356.5 277.1 357.0 277.2 358.3 277.3 359.7 277.3 361.5 277.4 362.7 277.5 364.0 277.5 365.1 277.6 366.6 277.6 367.2 277.7 368.3 277.8 369.7 277.8 371.3 277.9 372.0 278.0 373.1 278.0 374.8 278.1 376.4 278.1 377.7 278.2 378.7 278.3 379.9 278.3 380.7 278.4 382.5 278.5 384.2 278.5 384.9 278.6 386.7 278.6 387.3 278.7 388.7 278.8 390.0 278.8 391.4 278.9 392.3 279.0 394.2 279.0 395.0 279.1 395.8 279.2 397.6 279.2 398.7 279.3 399.6 279.4 401.0 279.4 402.5 279.5 403.7 279.5 404.9 279.6 405.9 279.7 407.4 279.7 409.0 279.8 410.5 279.9 411.4 279.9 412.8 280.0 414.0 280.1 414.8 280.1 415.7 280.2 417.1 280.3 418.5 280.3 419.9 280.4 421.2 280.5 422.3 280.5 423.6 280.6 424.9 280.6 426.0 280.7 427.2 280.8 428.2 280.8 429.7 280.9 431.0 281.0 432.0 281.0 433.4 281.1 434.8 281.2 435.8 281.2 437.2 281.3 438.4 281.4 440.0 281.4 440.9 281.5 442.4 281.6 443.1 281.6 445.2 281.7 446.1 281.8 447.0 281.8 448.5 281.9 450.2 282.0 451.0 282.0 451.9 282.1 453.5 282.2 454.7 282.2 456.3 282.3 457.4 282.4 458.2 282.4 459.8 282.5 461.2 282.6 462.5 282.6 463.5 282.7 465.2 282.8 466.3 282.8 467.4 282.9 468.9 283.0 469.3 283.1 471.5 283.1 472.8 283.2 473.7 283.3 475.1 283.3 476.0 283.4 477.3 283.5 478.5 283.5 479.5 283.6 480.9 283.7 481.8 283.7 483.4 283.8 485.2 283.9 486.5 283.9 487.4 284.0 489.1 284.1 490.1 284.2 491.0 284.2 492.4 284.3 493.7 284.4 494.8 284.4 496.1 284.5 497.0 284.6 498.4 284.6 500.1 284.7 501.2 284.8 502.6 284.9 503.7 284.9 505.1 285.0 506.4 285.1 507.3 285.1 508.9 285.2 509.7 285.3 511.2 285.3 512.3 285.4 513.8 285.5 514.9 285.6 516.3 285.6 517.4 285.7 518.6 285.8 519.9 285.8 521.0 285.9 522.1 286.0 523.2 286.1 525.0 286.1 526.5 286.2 527.3 286.3 528.9 286.3 529.9 286.4 531.3 286.5 532.7 286.6 533.8 286.6 534.8 286.7 535.5 286.8 537.1 286.8 538.5 286.9 540.0 287.0 540.8 287.1 542.3 287.1 543.6 287.2 545.1 287.3 545.8 287.4 547.5 287.4 548.5 287.5 549.6 287.6 550.6 287.6 552.0 287.7 553.7 287.8 554.7 287.9 555.8 287.9 557.2 288.0 558.8 288.1 560.0 288.2 561.1 288.2 562.4 288.3 563.6 288.4 564.7 288.5 565.8 288.5 567.6 288.6 568.5 288.7 569.8 288.7 570.9 288.8 572.3 288.9 573.8 289.0 574.6 289.0 576.0 289.1 577.3 289.2 578.7 289.3 579.8 289.3 581.1 289.4 582.2 289.5 583.6 289.6 584.7 289.6 586.3 289.7 587.3 289.8 588.9 289.9 589.6 289.9 590.7 290.0 592.3 290.1 593.6 290.2 594.4 290.3 596.7 290.3 597.3 290.4 598.9 290.5 599.8 290.6 601.3 290.6 602.6 290.7 603.4 290.8 604.8 290.9 606.2 290.9 607.7 291.0 608.8 291.1 610.2 291.2 611.3 291.2 612.6 291.3 613.7 291.4 614.7 291.5 615.5 291.6 616.7 291.6 618.4 291.7 619.7 291.8 620.9 291.9 622.0 291.9 623.3 292.0 624.4 292.1 626.3 292.2 626.8 292.3 628.8 292.3 629.5 292.4 631.5 292.5 632.2 292.6 633.4 292.6 634.8 292.7 636.0 292.8 637.7 292.9 638.5 293.0 639.8 293.0 640.8 293.1 642.4 293.2 643.2 293.3 644.7 293.4 646.4 293.4 646.8 293.5 648.6 293.6 649.9 293.7 650.8 293.8 652.3 293.8 653.5 293.9 654.6 294.0 655.4 294.1 656.9 294.2 658.3 294.2 659.9 294.3 661.0 294.4 662.2 294.5 663.1 294.6 664.5 294.6 665.8 294.7 666.4 294.8 668.3 294.9 669.7 295.0 670.9 295.0 672.2 295.1 673.3 295.2 674.8 295.3 675.6 295.4 677.3 295.4 678.4 295.5 679.1 295.6 680.8 295.7 682.2 295.8 683.6 295.9 684.7 295.9 685.9 296.0 687.4 296.1 688.8 296.2 689.2 296.3 690.7 296.3 692.4 296.4 693.3 296.5 694.2 296.6 696.1 296.7 697.4 296.8 698.1 296.8 699.6 296.9 700.7 297.0 702.1 297.1 703.5 297.2 704.6 297.3 705.9 297.3 707.1 297.4 708.0 297.5 709.7 297.6 711.0 297.7 712.1 297.8 713.3 297.8 714.8 297.9 715.7 298.0 716.8 298.1 718.4 298.2 719.6 298.3 721.2 298.4 721.7 298.4 723.3 298.5 724.2 298.6 726.3 298.7 726.9 298.8 728.4 298.9 729.0 299.0 730.5 299.0 732.1 299.1 733.1 299.2 734.2 299.3 735.8 299.4 736.9 299.5 738.2 299.5 739.5 299.6 740.7 299.7 742.4 299.8 743.5 299.9 744.5 300.0 745.7 300.1 746.5 300.2 747.8 300.2 749.6 300.3 750.2 300.4 751.6 300.5 753.4 300.6 754.6 300.7 755.8 300.8 757.1 300.8 758.2 300.9 759.6 301.0 760.8 301.1 762.4 301.2 763.6 301.3 764.5 301.4 766.3 301.5 767.3 301.6 768.5 301.6 769.7 301.7 770.7 301.8 771.8 301.9 773.4 302.0 774.6 302.1 775.6 302.2 776.9 302.3 778.3 302.3 779.6 302.4 780.7 302.5 781.7 302.6 783.5 302.7 784.3 302.8 785.5 302.9 786.8 303.0 788.2 303.1 789.3 303.2 790.0 303.2 791.4 303.3 792.7 303.4 794.2 303.5 795.7 303.6 796.8 303.7 798.6 303.8 799.5 303.9 800.9 304.0 802.0 304.1 802.8 304.1 804.4 304.2 805.2 304.3 806.6 304.4 808.1 304.5 809.3 304.6 810.7 304.7 811.7 304.8 813.3 304.9 814.5 305.0 815.7 305.1 816.7 305.1 817.9 305.2 819.6 305.3 821.2 305.4 821.7 305.5 823.1 305.6 824.1 305.7 825.0 305.8 827.0 305.9 828.1 306.0 829.5 306.1 830.4 306.2 831.6 306.3 833.5 306.4 834.2 306.4 835.8 306.5 837.2 306.6 838.2 306.7 839.4 306.8 840.8 306.9 841.5 307.0 843.1 307.1 844.2 307.2 845.2 307.3 846.7 307.4 848.2 307.5 849.7 307.6 850.1 307.7 851.8 307.8 853.0 307.9 854.1 308.0 855.3 308.0 856.8 308.1 858.1 308.2 858.8 308.3 860.8 308.4 861.6 308.5 862.9 308.6 863.9 308.7 865.5 308.8 866.2 308.9 867.7 309.0 869.2 309.1 870.2 309.2 871.6 309.3 873.0 309.4 874.4 309.5 875.3 309.6 876.6 309.7 878.1 309.8 879.3 309.9 880.3 310.0 882.0 310.1 882.9 310.2 884.0 310.3 885.6 310.4 886.8 310.5 887.8 310.6 889.4 310.7 890.4 310.8 891.6 310.9 892.8 311.0 894.5 311.1 895.5 311.2 896.8 311.3 897.6 311.4 899.0 311.5 899.9 311.6 901.4 311.7 902.7 311.8 904.0 311.9 904.9 312.0 906.8 312.1 907.4 312.2 909.3 312.3 910.2 312.4 911.8 312.5 912.5 312.6 914.0 312.7 915.4 312.8 917.1 312.9 917.9 313.0 919.6 313.1 920.5 313.2 922.0 313.3 922.8 313.4 924.1 313.5 925.5 313.6 926.2 313.7 927.4 313.8 929.0 313.9 930.8 314.0 931.8 314.1 932.8 314.2 934.1 314.3 935.2 314.4 936.6 314.5 938.2 314.6 938.9 314.7 940.2 314.8 941.2 314.9 942.7 315.0 944.3 315.1 945.2 315.2 946.2 315.3 947.6 315.5 948.9 315.6 950.5 315.7 951.6 315.8 952.8 315.9 954.2 316.0 955.3 316.1 956.7 316.2 957.5 316.3 958.8 316.4 960.2 316.5 962.0 316.6 962.4 316.7 963.9 316.8 965.2 317.0 966.1 317.1 967.3 317.2 969.3 317.3 970.1 317.4 971.2 317.5 972.6 317.6 973.7 317.7 974.5 317.8 975.7 317.9 977.4 318.0 978.5 318.2 979.9 318.3 980.9 318.4 983.2 318.5 984.0 318.6 985.6 318.7 986.3 318.8 987.7 318.9 988.8 319.0 990.2 319.2 991.5 319.3 992.4 319.4 993.5 319.5 994.7 319.6 996.1 319.7 997.7 319.8 998.4 319.9 999.9 320.1 1001.4 320.2 1002.9 320.3 1003.7 320.4 1005.2 320.5 1006.4 320.6 1007.7 320.7 1009.1 320.9 1010.3 321.0 1011.5 321.1 1012.6 321.2 1014.1 321.3 1014.9 321.4 1016.5 321.6 1017.3 321.7 1018.7 321.8 1019.7 321.9 1021.2 322.0 1022.7 322.1 1024.0 322.3 1024.5 322.4 1026.7 322.5 1027.5 322.6 1028.9 322.7 1030.3 322.9 1031.3 323.0 1032.3 323.1 1033.8 323.2 1035.0 323.3 1036.7 323.4 1037.5 323.6 1038.1 323.7 1040.2 323.8 1041.3 323.9 1042.5 324.1 1043.3 324.2 1045.9 324.3 1046.3 324.4 1047.5 324.5 1048.7 324.7 1050.2 324.8 1051.3 324.9 1052.5 325.0 1053.7 325.2 1054.8 325.3 1056.3 325.4 1057.1 325.5 1058.8 325.6 1060.0 325.8 1061.1 325.9 1062.5 326.0 1063.6 326.1 1064.8 326.3 1065.9 326.4 1067.0 326.5 1068.1 326.7 1069.4 326.8 1070.8 326.9 1072.4 327.0 1073.4 327.2 1074.7 327.3 1075.7 327.4 1076.8 327.5 1078.4 327.7 1080.2 327.8 1080.6 327.9 1082.4 328.1 1083.0 328.2 1084.2 328.3 1085.6 328.4 1086.9 328.6 1088.6 328.7 1089.7 328.8 1090.9 329.0 1092.1 329.1 1093.7 329.2 1095.2 329.4 1096.0 329.5 1097.0 329.6 1098.0 329.8 1099.4 329.9 1100.4 330.0 1102.3 330.2 1103.1 330.3 1104.8 330.4 1105.4 330.6 1107.2 330.7 1108.3 330.8 1109.6 331.0 1110.8 331.1 1111.8 331.2 1114.0 331.4 1114.2 331.5 1116.1 331.6 1117.0 331.8 1118.0 331.9 1119.7 332.0 1121.1 332.2 1122.3 332.3 1123.0 332.5 1124.4 332.6 1125.9 332.7 1127.1 332.9 1128.4 333.0 1129.3 333.2 1130.2 333.3 1131.5 333.4 1133.0 333.6 1133.9 333.7 1135.2 333.9 1137.0 334.0 1138.5 334.1 1139.3 334.3 1140.6 334.4 1141.8 334.6 1143.3 334.7 1144.2 334.9 1145.5 335.0 1146.9 335.1 1147.9 335.3 1149.8 335.4 1151.1 335.6 1151.9 335.7 1153.2 335.9 1154.4 336.0 1155.5 336.2 1156.4 336.3 1157.9 336.4 1159.0 336.6 1160.4 336.7 1161.2 336.9 1162.7 337.0 1163.6 337.2 1165.7 337.3 1166.2 337.5 1167.9 337.6 1169.5 337.8 1170.0 337.9 1171.6 338.1 1172.4 338.2 1174.2 338.4 1175.1 338.5 1176.2 338.7 1177.3 338.8 1178.9 339.0 1180.1 339.1 1181.6 339.3 1182.9 339.4 1183.9 339.6 1185.4 339.7 1187.0 339.9 1188.1 340.0 1189.3 340.2 1190.5 340.4 1191.6 340.5 1192.9 340.7 1194.1 340.8 1195.9 341.0 1196.4 341.1 1197.4 341.3 1199.0 341.4 1200.1 341.6 1201.3 341.8 1202.9 341.9 1204.0 342.1 1205.1 342.2 1206.7 342.4 1208.3 342.5 1209.4 342.7 1210.3 342.9 1211.5 343.0 1212.6 343.2 1214.0 343.3 1215.1 343.5 1216.6 343.7 1217.8 343.8 1219.1 344.0 1219.7 344.2 1221.4 344.3 1222.4 344.5 1223.6 344.6 1225.2 344.8 1226.1 345.0 1227.5 345.1 1229.1 345.3 1230.3 345.5 1231.7 345.6 1232.8 345.8 1233.5 346.0 1235.2 346.1 1236.3 346.3 1237.6 346.5 1239.0 346.6 1240.0 346.8 1241.1 347.0 1242.0 347.1 1243.5 347.3 1245.1 347.5 1246.2 347.6 1247.0 347.8 1248.2 348.0 1249.7 348.2 1251.1 348.3 1252.0 348.5 1253.8 348.7 1255.3 348.8 1255.8 349.0 1257.8 349.2 1259.1 349.4 1259.4 349.5 1260.7 349.7 1262.3 349.9 1263.6 350.1 1264.6 350.2 1266.0 350.4 1267.5 350.6 1268.3 350.8 1269.2 350.9 1270.8 351.1 1272.3 351.3 1273.7 351.5 1274.9 351.7 1275.1 351.8 1276.8 352.0 1278.3 352.2 1279.3 352.4 1280.8 352.5 1282.0 352.7 1283.3 352.9 1284.7 353.1 1285.5 353.3 1287.3 353.5 1287.7 353.6 1289.0 353.8 1290.2 354.0 1291.5 354.2 1293.1 354.4 1294.7 354.6 1295.2 354.7 1297.1 354.9 1298.4 355.1 1299.4 355.3 1300.0 355.5 1301.8 355.7 1303.2 355.9 1303.8 356.0 1305.4 356.2 1307.1 356.4 1308.2 356.6 1309.6 356.8 1310.8 357.0 1311.3 357.2 1312.6 357.4 1314.4 357.6 1315.4 357.7 1317.0 357.9 1318.2 358.1 1319.1 358.3 1320.8 358.5 1321.9 358.7 1322.9 358.9 1324.2 359.1 1325.4 359.3 1326.8 359.5 1328.2 359.7 1329.3 359.9 1330.4 360.1 1331.3 360.3 1332.8 360.5 1334.0 360.7 1335.0 360.9 1336.1 361.1 1338.0 361.3 1339.2 361.5 1339.7 361.7 1341.5 361.9 1342.6 362.1 1344.2 362.3 1344.7 362.5 1346.4 362.7 1347.3 362.9 1348.6 363.1 1350.0 363.3 1351.4 363.5 1352.5 363.7 1353.4 363.9 1355.3 364.2 1356.3 364.4 1357.4 364.6 1358.2 364.8 1359.7 365.0 1361.2 365.3 1362.5 365.5 1363.6 365.7 1364.7 366.0 1366.4 366.2 1367.2 366.5 1368.8 366.7 1369.5 367.0 1370.4 367.2 1372.1 367.5 1373.2 367.7 1374.4 368.0 1375.3 368.3 1376.5 368.6 1378.4 368.8 1379.3 369.1 1381.0 369.4 1382.3 369.7 1382.9 370.0 1384.3 370.3 1384.9 370.6 1386.8 370.9 1387.8 371.2 1389.2 371.5 1390.2 371.9 1391.3 372.2 1392.4 372.5 1393.6 372.9 1395.3 373.2 1396.4 373.6 1398.1 373.9 1399.1 374.3 1400.1 374.6 1401.2 375.0 1402.8 375.4 1403.0 375.8 1404.6 376.2 1405.7 376.6 1406.5 377.0 1408.6 377.4 1409.6 377.8 1410.7 378.3 1411.7 378.7 1413.0 379.1 1414.1 379.6 1415.6 380.0 1416.4 380.5 1418.2 381.0 1418.6 381.4 1419.9 381.9 1420.9 382.4 1422.5 382.9 1423.3 383.4 1424.9 384.0 1425.9 384.5 1426.8 385.0 1427.4 385.5 1428.9 386.1 1430.0 386.7 1431.3 387.2 1431.9 387.8 1433.6 388.4 1434.8 389.0 1435.7 389.6 1437.0 390.2 1437.8 390.8 1439.2 391.4 1439.7 392.0 1440.9 392.7 1442.8 393.3 1443.2 394.0 1444.3 394.6 1445.1 395.3 1446.4 396.0 1447.7 396.7 1448.4 397.4 1449.5 398.1 1450.8 398.8 1452.4 399.5 1452.9 400.2 1454.7 401.0 1455.3 401.7 1456.2 402.5 1456.9 403.3 1458.1 404.0 1459.7 404.9 1459.5 405.7 1460.9 406.5 1462.1 407.4 1462.8 408.3 1463.4 409.3 1464.0 410.3 1465.0 411.3 1465.1 412.4 1466.6 413.5 1466.5 414.7 1466.7 415.8 1467.6 417.0 1467.9 418.3 1468.1 419.5 1467.9 420.8 1468.1 422.0 1468.4 423.3 1468.1 424.5 1468.1 425.7 1467.7 426.9 1467.1 428.1 1467.1 429.3 1466.9 430.4 1466.4 431.6 1465.9 432.7 1465.3 433.8 1464.8 434.8 1464.2 435.9 1463.1 436.9 1463.0 437.9 1462.1 438.9 1461.0 439.8 1460.2 440.8 1459.2 441.7 1458.4 442.6 1457.1 443.5 1456.3 444.4 1456.2 445.2 1455.1 446.1 1454.6 446.9 1453.6 447.8 1452.3 448.6 1451.8 449.5 1450.0 450.3 1449.4 451.1 1448.0 452.0 1447.5 452.8 1446.9 453.7 1445.7 454.5 1444.9 455.4 1443.7 456.3 1443.2 457.2 1442.1 458.1 1441.5 459.0 1440.4 459.9 1440.0 460.8 1439.0 461.7 1438.0 462.6 1437.3 463.5 1436.6 464.4 1435.4 465.3 1434.3 466.2 1433.5 467.2 1433.2 468.1 1432.0 469.0 1430.6 469.8 1429.7 470.7 1429.5 471.6 1428.3 472.5 1428.0 473.3 1427.0 474.2 1425.7 475.0 1424.8 475.9 1423.7 476.7 1423.2 477.5 1421.6 478.3 1421.1 479.1 1419.8 479.9 1419.3 480.7 1417.8 481.5 1416.8 482.3 1416.2 483.0 1414.9 483.8 1414.3 484.6 1412.9 485.3 1411.8 486.0 1410.8 486.8 1409.8 487.5 1408.6 488.2 1408.2 489.0 1407.0 489.7 1405.8 490.4 1405.2 491.1 1403.8 491.8 1403.1 492.5 1401.2 493.2 1401.1 493.9 1399.8 494.6 1399.3 495.3 1397.8 496.0 1396.6 496.7 1395.5 497.4 1394.7 498.1 1393.1 498.8 1392.3 499.4 1391.1 500.1 1390.9 500.8 1389.4 501.5 1388.2 502.2 1386.5 502.9 1386.3 503.5 1385.0 504.2 1384.1 504.9 1383.0 505.6 1381.7 506.3 1380.5 507.0 1379.8 507.6 1378.8 508.3 1377.8 509.0 1376.8 509.7 1375.8 510.4 1374.4 511.1 1373.8 511.8 1372.5 512.5 1371.7 513.3 1370.5 514.0 1369.7 514.7 1369.0 515.4 1367.7 516.2 1366.5 516.9 1365.5 517.6 1364.4 518.4 1363.3 519.1 1362.1 519.9 1361.8 520.7 1360.9 521.4 1359.9 522.2 1358.1 523.0 1357.4 523.8 1356.8 524.6 1355.6 525.4 1355.0 526.2 1354.1 527.0 1352.5 527.9 1352.1 528.7 1350.8 529.6 1349.7 530.4 1349.0 531.3 1347.8 532.2 1346.6 533.1 1346.4 534.0 1345.5 534.9 1344.7 535.8 1343.8 536.7 1342.5 537.7 1342.2 538.6 1342.0 539.6 1340.9 540.5 1340.1 541.5 1339.3 542.5 1338.3 543.5 1337.5 544.5 1336.6 545.5 1335.8 546.5 1335.3 547.5 1334.7 548.6 1334.1 549.6 1334.1 550.7 1332.6 551.7 1331.7 552.8 1331.3 553.8 1330.1 554.9 1330.4 556.0 1329.0 557.1 1328.5 558.2 1328.0 559.3 1327.6 560.4 1326.6 561.5 1326.3 562.6 1325.6 563.7 1325.2 564.8 1324.9 565.9 1324.0 567.1 1324.0 568.2 1322.9 569.3 1322.6 570.5 1321.6 571.6 1321.3 572.7 1320.5 573.9 1320.5 575.0 1319.7 576.2 1319.1 577.3 1318.5 578.5 1318.9 579.7 1318.0 580.8 1317.6 582.0 1317.4 583.2 1316.8 584.3 1316.6 585.5 1315.7 586.7 1315.4 587.9 1315.4 589.1 1314.2 590.2 1314.3 591.4 1313.7 592.6 1314.0 593.8 1313.1 595.0 1312.9 596.2 1312.4 597.4 1311.8 598.6 1311.6 599.8 1311.2 601.0 1311.4 602.2 1310.6 603.5 1310.9 604.7 1310.3 605.9 1310.1 607.1 1309.9 608.3 1309.5 609.5 1309.2 610.8 1308.7 612.0 1308.7 613.2 1308.6 614.5 1308.5 615.7 1307.9 616.9 1307.5 618.1 1307.8 619.4 1307.2 620.6 1307.0 621.8 1306.4 623.1 1306.3 624.3 1306.1 625.6 1305.7 626.8 1305.8 628.0 1305.7 629.3 1305.3 630.5 1305.1 631.8 1305.4 633.0 1304.5 634.3 1304.8 635.5 1305.3 636.8 1305.0 638.0 1304.9 639.2 1305.2 640.5 1305.1 641.7 1304.8 643.0 1304.4 644.2 1304.1 645.5 1304.1 646.7 1304.6 648.0 1304.0 649.2 1304.1 650.5 1304.6 651.7 1304.2 653.0 1304.4 654.2 1303.7 655.5 1303.9 656.7 1303.7 658.0 1303.6 659.2 1303.3 660.5 1303.6 661.7 1304.1 663.0 1303.9 664.2 1304.2 665.5 1303.8 666.7 1304.7 668.0 1304.0 669.2 1304.1 670.5 1304.4 671.7 1304.2 673.0 1304.4 674.2 1304.7 675.5 1304.4 676.7 1304.1 678.0 1304.6 679.2 1304.2 680.5 1304.4 681.7 1304.7 683.0 1304.9 684.2 1304.2 685.5 1305.0 686.7 1304.8 688.0 1304.6 689.2 1304.6 690.5 1304.6 691.7 1304.5 693.0 1305.3 694.2 1305.4 695.5 1305.0 696.7 1305.0 698.0 1305.2 699.2 1305.7 700.5 1305.8 701.7 1306.4 703.0 1306.2 704.2 1306.6 705.4 1305.8 706.7 1306.1 707.9 1306.6 709.1 1306.6 710.4 1306.7 711.6 1306.8 712.8 1306.9 714.1 1307.6 715.3 1307.7 716.5 1308.3 717.8 1308.2 719.0 1308.5 720.2 1308.9 721.4 1309.1 722.7 1309.0 723.9 1309.5 725.1 1310.4 726.4 1309.5 727.6 1310.6 728.8 1310.7 730.0 1310.7 731.3 1310.3 732.5 1311.1 733.7 1311.2 734.9 1311.6 736.2 1311.8 737.4 1312.0 738.6 1312.6 739.8 1312.4 741.1 1313.3 742.3 1313.3 743.5 1313.4 744.8 1313.8 746.0 1314.4 747.2 1314.2 748.5 1314.7 749.7 1315.4 750.9 1314.8 752.2 1315.1 753.4 1315.0 754.6 1315.4 755.9 1315.3 757.1 1316.2 758.4 1315.6 759.6 1316.1 760.8 1315.8 762.1 1316.1 763.3 1316.0 764.6 1316.1 765.8 1317.0 767.0 1317.1 768.3 1316.9 769.5 1316.8 770.8 1317.0 772.0 1316.8 773.3 1317.4 774.5 1318.0 775.7 1317.5 777.0 1318.6 778.2 1318.0 779.5 1318.4 780.7 1318.1 782.0 1317.7 783.2 1317.8 784.5 1318.9 785.7 1319.0 787.0 1318.4 788.2 1319.4 789.5 1318.6 790.7 1319.8 792.0 1318.5 793.2 1319.0 794.5 1318.7 795.7 1318.4 797.0 1318.9 798.2 1318.4 799.5 1318.4 800.7 1318.8 802.0 1318.4 803.2 1318.5 804.5 1319.0 805.7 1319.3 807.0 1319.5 808.2 1319.6 809.5 1319.0 810.7 1319.6 812.0 1319.1 813.2 1319.0 814.5 1319.5 815.7 1319.6 817.0 1319.1 818.2 1318.7 819.5 1318.9 820.7 1318.6 822.0 1318.0 823.2 1318.6 824.5 1318.7 825.7 1318.8 827.0 1318.9 828.2 1319.2 829.5 1318.3 830.7 1318.7 832.0 1318.9 833.2 1317.4 834.5 1318.9 835.7 1318.3 837.0 1319.3 838.2 1318.4 839.4 1317.6 840.7 1318.0 841.9 1317.6 843.2 1317.7 844.4 1316.7 845.7 1317.2 846.9 1316.8 848.2 1316.6 849.4 1316.7 850.6 1316.4 851.9 1317.1 853.1 1316.2 854.4 1316.3 855.6 1315.5 856.9 1315.4 858.1 1316.5 859.3 1315.4 860.6 1315.1 861.8 1315.0 863.0 1314.9 864.3 1314.6 865.5 1314.5 866.8 1315.3 868.0 1314.4 869.2 1314.6 870.5 1315.2 871.7 1313.6 872.9 1313.3 874.2 1312.5 875.4 1313.6 876.6 1313.0 877.8 1311.7 879.1 1313.2 880.3 1312.9 881.5 1310.6 882.8 1311.0 884.0 1311.6 885.2 1310.2 886.4 1310.4 887.7 1310.8 888.9 1310.5 890.1 1309.9 891.3 1310.3 892.5 1310.3 893.8 1309.0 895.0 1310.3 896.2 1308.9 897.4 1308.5 898.6 1307.3 899.8 1307.2 901.0 1307.0 902.3 1307.8 903.5 1306.5 904.7 1307.6 905.9 1307.1 907.1 1305.9 908.3 1305.9 909.5 1306.5 910.7 1304.8 911.9 1303.5 913.1 1304.0 914.3 1304.1 915.5 1304.2 916.7 1303.5 917.9 1304.4 919.1 1303.1 920.3 1302.4 921.5 1302.7 922.7 1302.5 923.9 1301.7 925.1 1301.7 926.2 1301.1 927.4 1300.4 928.6 1299.8 929.8 1298.6 931.0 1298.6 932.1 1297.5 933.3 1298.0 934.5 1297.1 935.6 1295.9 936.8 1296.2 937.9 1295.7 939.1 1294.5 940.2 1294.4 941.4 1294.4 942.5 1294.7 943.7 1293.3 944.8 1293.2 945.9 1293.4 947.1 1292.8 948.2 1291.6 949.3 1291.3 950.4 1290.1 951.5 1289.4 952.6 1289.0 953.7 1288.5 954.8 1288.5 956.0 1287.7 957.1 1287.3 958.2 1284.9 959.3 1285.1 960.4 1284.7 961.5 1283.3 962.6 1281.8 963.7 1283.2 964.8 1283.8 965.9 1281.1 967.1 1281.5 968.2 1282.4 969.3 1280.6 970.4 1279.9 971.6 1278.7 972.7 1278.8 973.9 1279.0 975.0 1278.4 976.2 1276.7 977.3 1276.8 978.5 1274.4 979.7 1274.6 980.9 1275.0 982.0 1274.8 983.2 1275.2 984.4 1273.9 985.6 1272.1 986.8 1274.4 988.0 1274.8 989.2 1273.2 990.4 1272.1 991.6 1271.4 992.8 1271.5 994.0 1269.9 995.2 1270.8 996.4 1270.0 997.6 1268.7 998.9 1269.8 1000.1 1269.9 1001.3 1270.7 1002.5 1269.0 1003.7 1270.1 1004.9 1268.2 1006.2 1268.1 1007.4 1268.7 1008.6 1267.3 1009.8 1267.7 1011.1 1266.4 1012.3 1266.0 1013.5 1266.1 1014.7 1267.1 1016.0 1266.4 1017.2 1265.9 1018.4 1267.7 1019.7 1266.1 1020.9 1266.7 1022.1 1266.3 1023.3 1266.5 1024.6 1265.5 1025.8 1264.7 1027.0 1265.3 1028.3 1265.2 1029.5 1265.2 1030.7 1264.9 1032.0 1264.7 1033.2 1263.0 1034.4 1264.5 1035.7 1264.1 1036.9 1262.8 1038.1 1263.1 1039.4 1263.0 1040.6 1264.3 1041.9 1261.5 1043.1 1262.4 1044.3 1263.0 1045.6 1260.5 1046.8 1261.1 1048.0 1263.3 1049.3 1260.3 1050.5 1261.5 1051.8 1260.7 1053.0 1260.9 1054.2 1259.9 1055.5 1260.3 1056.7 1258.3 1058.0 1261.5 1059.2 1260.4 1060.4 1260.6 1061.7 1260.0 1062.9 1260.3 1064.2 1259.4 1065.4 1259.8 1066.6 1258.4 1067.9 1258.4 1069.1 1260.1 1070.4 1259.7 1071.6 1260.3 1072.8 1259.6 1074.1 1256.8 1075.3 1259.1 1076.6 1259.5 1077.8 1258.6 1079.1 1259.1 1080.3 1258.8 1081.5 1257.7 1082.8 1257.8 1084.0 1257.0 1085.3 1258.2 1086.5 1255.2 1087.7 1255.0 1089.0 1257.4 1090.2 1254.5 1091.5 1256.6 1092.7 1256.3 1094.0 1257.6 1095.2 1255.3 1096.4 1255.3 1097.7 1256.1 1098.9 1255.9 1100.2 1255.0 1101.4 1254.7 1102.6 1255.5 1103.9 1256.1 1105.1 1252.6 1106.4 1255.8 1107.6 1255.0 1108.8 1253.5 1110.1 1252.5 1111.3 1252.5 1112.6 1250.8 1113.8 1253.1 1115.0 1252.9 1116.3 1252.7 1117.5 1253.1 1118.8 1251.3 1120.0 1253.8 1121.3 1252.6 1122.5 1252.7 1123.7 1252.8 1125.0 1252.7 1126.2 1253.1 1127.5 1252.1 1128.7 1251.6 1129.9 1249.9 1131.2 1249.9 1132.4 1248.5 1133.7 1250.4 1134.9 1249.7 1136.1 1249.8 1137.4 1250.7 1138.6 1249.6 1139.9 1251.8 1141.1 1248.7 1142.3 1251.8 1143.6 1251.3 1144.8 1249.5 1146.0 1250.3 1147.3 1250.6 1148.5 1248.4 1149.8 1249.0 1151.0 1249.6 1152.2 1248.6 1153.5 1247.1 1154.7 1245.3 1156.0 1247.7 1157.2 1248.1 1158.4 1249.6 1159.7 1248.9 1160.9 1246.5 1162.2 1246.3 1163.4 1245.2 1164.6 1247.4 1165.9 1245.9 1167.1 1246.2 1168.3 1245.2 1169.6 1243.7 1170.8 1245.8 1172.1 1242.6 1173.3 1241.5 1174.5 1242.1 1175.8 1243.4 1177.0 1244.7 1178.2 1243.5 1179.5 1243.4 1180.7 1243.9 1182.0 1244.4 1183.2 1244.7 1184.4 1241.9 1185.7 1242.1 1186.9 1246.9 1188.1 1241.0 1189.4 1239.7 1190.6 1241.7 1191.8 1241.4 1193.1 1240.6 1194.3 1243.5 1195.6 1242.3 1196.8 1239.4 1198.0 1243.6 1199.3 1239.4 1200.5 1240.0 1201.7 1238.4 1203.0 1238.0 1204.2 1239.7 1205.4 1241.0 1206.7 1239.8 1207.9 1239.1 1209.1 1238.8 1210.4 1241.0 1211.6 1237.1 1212.8 1238.6 1214.1 1237.6 1215.3 1238.5 1216.5 1238.2 1217.8 1237.3 1219.0 1236.6 1220.2 1238.4 1221.5 1240.3 1222.7 1237.2 1223.9 1235.9 1225.2 1234.5 1226.4 1236.5 1227.6 1236.2 1228.9 1238.5 1230.1 1235.2 1231.3 1237.8 1232.6 1234.3 1233.8 1236.1 1235.0 1236.4 1236.3 1234.6 1237.5 1232.9 1238.7 1235.6 1240.0 1235.8 1241.2 1236.8 1242.4 1236.3 1243.7 1237.0 1244.9 1232.8 1246.1 1236.1 1247.4 1234.2 1248.6 1234.4 1249.8 1230.0 1251.0 1232.9 1252.3 1231.7 1253.5 1231.2 1254.7 1234.5 1256.0 1230.0 1257.2 1230.8 1258.4 1232.0 1259.7 1232.3 1260.9 1229.7 1262.1 1229.1 1263.3 1230.3 1264.6 1228.1 1265.8 1230.6 1267.0 1228.8 1268.3 1227.3 1269.5 1230.1 1270.7 1229.5 1272.0 1229.2 1273.2 1228.1 1274.4 1228.4 1275.6 1226.9 1276.9 1224.7 1278.1 1226.6 1279.3 1226.6 1280.6 1226.0 1281.8 1226.8 1283.0 1228.7 1284.2 1227.2 1285.5 1226.4 1286.7 1226.4 1287.9 1223.7 1289.1 1227.9 1290.4 1224.8 1291.6 1226.2 1292.8 1225.5 1294.1 1225.4 1295.3 1226.5 1296.5 1228.2 1297.7 1229.8 1299.0 1228.1 1300.2 1223.9 1301.4 1220.5 1302.6 1223.6 1303.9 1223.0 1305.1 1223.0 1306.3 1220.6 1307.6 1219.7 1308.8 1221.4 1310.0 1220.3 1311.2 1221.1 1312.5 1218.4 1313.7 1217.3 1314.9 1220.1 1316.1 1219.6 1317.4 1219.3 1318.6 1219.3 1319.8 1218.9 1321.0 1218.3 1322.3 1216.9 1323.5 1218.6 1324.7 1218.3 1325.9 1218.0 1327.2 1216.4 1328.4 1217.7 1329.6 1218.7 1330.8 1218.3 1332.1 1214.4 1333.3 1217.9 1334.5 1215.6 1335.7 1218.4 1337.0 1216.7 1338.2 1215.1 1339.4 1217.3 1340.6 1212.5 1341.8 1214.3 1343.1 1213.1 1344.3 1213.7 1345.5 1213.7 1346.7 1213.0 1348.0 1214.2 1349.2 1209.6 1350.4 1213.2 1351.6 1213.8 1352.9 1209.2 1354.1 1208.9 1355.3 1210.0 1356.5 1208.9 1357.7 1212.0 1359.0 1211.5 1360.2 1209.5 1361.4 1209.7 1362.6 1213.3 1363.9 1209.8 1365.1 1209.6 1366.3 1214.0 1367.5 1212.5 1368.7 1209.0 1370.0 1209.9 1371.2 1205.3 1372.4 1209.1 1373.6 1212.3 1374.9 1206.8 1376.1 1208.7 1377.3 1207.3 1378.5 1205.9 1379.7 1207.2 1381.0 1206.5 1382.2 1205.2 1383.4 1207.4 1384.6 1207.9 1385.8 1208.3 1387.1 1207.6 1388.3 1206.7 1389.5 1205.5 1390.7 1203.9 1392.0 1201.8 1393.2 1204.0 1394.4 1203.2 1395.6 1201.5 1396.8 1203.6 1398.1 1204.5 1399.3 1205.8 1400.5 1201.6 1401.7 1204.8 1402.9 1201.0 1404.2 1201.9 1405.4 1203.2 1406.6 1200.6 1407.8 1199.9 1409.0 1198.6 1410.3 1202.0 1411.5 1198.3 1412.7 1199.6 1413.9 1198.6 1415.1 1199.0 1416.4 1200.2 1417.6 1198.3 1418.8 1200.6 1420.0 1199.6 1421.2 1196.1 1422.5 1194.0 1423.7 1195.4 1424.9 1195.2 1426.1 1198.1 1427.3 1195.9 1428.6 1197.1 1429.8 1193.6 1431.0 1197.1 1432.2 1198.7 1433.4 1195.9 1434.7 1194.0 1435.9 1194.7 1437.1 1194.8 1438.3 1194.2 1439.6 1193.5 1440.8 1193.4 1442.0 1190.8 1443.2 1191.2 1444.4 1190.3 1445.7 1190.3 1446.9 1188.1 1448.1 1191.8 1449.3 1192.6 1450.6 1189.5 1451.8 1193.8 1453.0 1190.1 1454.2 1189.7 1455.5 1190.7 1456.7 1190.0 1457.9 1191.7 1459.1 1192.0 1460.4 1186.0 1461.6 1189.2 1462.8 1190.2 1464.0 1189.0 1465.3 1188.9 1466.5 1187.3 1467.7 1185.8 1469.0 1183.6 1470.2 1188.7 1471.4 1186.2 1472.6 1186.1 1473.9 1186.2 1475.1 1185.4 1476.3 1185.4 1477.6 1186.9 1478.8 1185.3 1480.0 1182.4 1481.3 1184.9 1482.5 1184.6 1483.7 1185.8 1484.9 1184.8 1486.2 1186.4 1487.4 1180.4 1488.6 1182.5 1489.9 1182.1 1491.1 1180.3 1492.3 1178.8 1493.6 1181.8 1494.8 1179.0 1496.1 1183.9 1497.3 1182.7 1498.5 1177.1 1499.8 1181.1 1501.0 1179.5 1502.2 1178.1 1503.5 1177.3 1504.7 1181.9 1505.9 1177.9 1507.2 1178.7 1508.4 1182.4 1509.7 1180.4 1510.9 1177.4 1512.1 1185.5 1513.4 1180.9 1514.6 1178.5 1515.9 1185.1 1517.1 1180.9 1518.3 1180.5 1519.6 1179.2 1520.8 1181.1 1522.1 1180.4 1523.3 1179.9 1524.6 1181.5 1525.8 1178.6 1527.0 1176.8 1528.3 1175.9 1529.5 1179.4 1530.8 1178.8 1532.0 1177.5 1533.3 1180.5 1534.5 1179.4 1535.8 1176.5 1537.0 1174.5 1538.2 1175.6 1539.5 1174.4 1540.7 1176.3 1542.0 1177.1 1543.2 1177.6 1544.5 1172.4 1545.7 1175.5 1547.0 1177.2 1548.2 1177.4 1549.5 1176.7 1550.7 1175.4 1552.0 1176.2 1553.2 1177.9 1554.5 1175.5 1555.7 1174.8 1557.0 1177.4 1558.2 1177.7 1559.5 1173.9 1560.7 1174.4 1562.0 1172.6 1563.2 1174.6 1564.5 1175.6 1565.7 1174.6 1567.0 1173.3 1568.2 1173.4 1569.5 1175.2 1570.7 1176.7 1572.0 1175.3 1573.2 1174.9 1574.5 1177.5 1575.7 1174.6 1577.0 1174.7 1578.2 1173.6 1579.5 1178.1 1580.7 1177.6 1582.0 1175.6 1583.2 1176.3 1584.5 1173.5 1585.7 1173.9 1587.0 1175.3 1588.2 1176.0 1589.5 1170.6 1590.7 1178.7 1592.0 1178.1 1593.2 1175.1 1594.5 1178.1 1595.7 1176.9 1597.0 1176.7 1598.2 1177.1 1599.5 1176.8 1600.7 1177.8 1602.0 1177.7 1603.2 1178.9 1604.5 1176.6 1605.7 1175.4 1606.9 1177.2 1608.2 1177.8 1609.4 1177.0 1610.7 1179.1 1611.9 1176.0 1613.2 1173.9 1614.4 1177.8 1615.7 1178.2 1616.9 1177.1 1618.2 1177.6 1619.4 1175.4 1620.6 1177.3 1621.9 1178.1 1623.1 1177.5 1624.4 1175.5 1625.6 1178.7 1626.9 1177.2 1628.1 1179.9 1629.4 1179.5 1630.6 1180.4 1631.9 1177.3 1633.1 1179.3 1634.4 1179.9 1635.6 1179.9 1636.8 1182.0 1638.1 1178.0 1639.3 1181.7 1640.6 1182.2 1641.8 1180.3 1643.1 1178.2 1644.3 1179.8 1645.6 1179.8 1646.8 1179.8 1648.1 1181.4 1649.3 1180.3 1650.6 1175.8 1651.8 1180.6 1653.1 1174.8 1654.3 1176.9 1655.6 1175.0 1656.8 1179.3 1658.1 1177.6 1659.3 1180.8 1660.6 1177.2 1661.8 1179.1 1663.1 1181.9 1664.3 1178.5 1665.6 1182.0 1666.8 1180.5 1668.1 1180.4 1669.3 1177.8 1670.6 1181.0 1671.8 1185.0 1673.1 1181.7 1674.3 1182.1 1675.6 1183.5 1676.8 1178.7 1678.1 1179.5 1679.3 1180.1 1680.6 1179.1 1681.8 1182.0 1683.1 1184.1 1684.3 1182.4 1685.6 1180.9 1686.8 1181.2 1688.1 1177.1 1689.3 1182.0 1690.6 1179.5 1691.8 1184.2 1693.1 1180.8 1694.3 1184.9 1695.6 1182.0 1696.8 1182.5 1698.1 1180.5 1699.3 1184.4 1700.6 1184.0 1701.8 1185.2 1703.1 1181.0 1704.3 1179.1 1705.6 1184.2 1706.8 1176.7 1708.1 1179.7 1709.3 1184.0 1710.6 1182.0 1711.8 1179.5 1713.1 1182.0 1714.3 1185.7 1715.6 1182.9 1716.8 1182.7 1718.1 1186.2 1719.3 1182.1 1720.6 1183.3 1721.8 1185.3 1723.1 1178.6 1724.3 1180.5 1725.5 1183.6 1726.8 1181.8 1728.0 1185.8 1729.3 1182.1 1730.5 1182.9 1731.8 1180.0 1733.0 1181.1 1734.3 1187.2 1735.5 1182.9 1736.8 1185.5 1738.0 1184.8 1739.3 1189.9 1740.5 1180.5 1741.8 1184.6 1743.0 1182.9 1744.3 1181.2 1745.5 1183.5 1746.8 1186.2 1748.0 1191.7 1749.3 1188.4 1750.5 1186.9 1751.8 1186.0 1753.0 1182.3 1754.3 1182.1 1755.5 1186.1 1756.8 1181.2 1758.0 1186.8 1759.3 1185.4 1760.5 1187.3 1761.8 1184.7 1763.0 1181.9 1764.3 1186.3 1765.5 1181.1 1766.8 1183.2 1768.0 1182.5 1769.3 1181.3 1770.5 1183.0 1771.8 1183.7 1773.0 1181.8 1774.3 1187.6 1775.5 1183.5 1776.8 1184.2 1778.0 1186.7 1779.3 1185.1 1780.5 1185.8 1781.8 1186.5 1783.0 1182.3 1784.3 1190.0 1785.5 1183.0 1786.8 1181.0 1788.0 1185.3 1789.3 1185.5 1790.5 1185.1 1791.8 1182.7 1793.0 1182.6 1794.3 1184.7 1795.5 1184.4 1796.8 1186.8 1798.0 1184.6 1799.3 1187.1 1800.5 1186.8 1801.8 1183.9 1803.0 1186.7 1804.3 1190.9 1805.5 1186.9 1806.8 1188.0 1808.0 1184.0 1809.3 1184.0 1810.5 1182.9 1811.8 1186.8 1813.0 1188.0 1814.3 1183.3 1815.5 1186.9 1816.8 1185.5 1818.0 1188.2 1819.3 1183.7 1820.5 1183.2 1821.8 1187.1 1823.0 1186.0 1824.2 1186.1 1825.5 1190.5 1826.7 1186.1 1828.0 1188.0 1829.2 1190.8 1830.5 1187.2 1831.7 1185.4 1833.0 1188.7 1834.2 1186.8 1835.5 1187.0 1836.7 1185.6 1838.0 1185.6 1839.2 1185.4 1840.5 1187.2 1841.7 1189.0 1843.0 1190.6 1844.2 1185.8 1845.5 1189.2 1846.7 1184.3 1847.9 1184.1 1849.2 1179.6 1850.4 1187.7 1851.7 1183.4 1852.9 1191.4 1854.2 1192.8 1855.4 1185.9 1856.7 1187.0 1857.9 1188.2 1859.2 1189.8 1860.4 1187.0 1861.7 1192.7 1862.9 1189.5 1864.1 1191.4 1865.4 1192.0 1866.6 1188.4 1867.9 1193.2 1869.1 1187.5 1870.4 1184.2 1871.6 1192.1 1872.9 1189.2 1874.1 1186.0 1875.4 1189.8 1876.6 1192.1 1877.8 1191.3 1879.1 1193.5 1880.3 1189.6 1881.6 1192.0 1882.8 1190.8 1884.1 1191.0 1885.3 1192.6 1886.6 1194.5 1887.8 1191.1 1889.1 1190.6 1890.3 1193.4 1891.6 1192.2 1892.8 1186.0 1894.0 1191.9 1895.3 1191.6 1896.5 1190.9 1897.8 1192.1 1899.0 1191.4 1900.3 1197.6 1901.5 1190.7 1902.8 1190.8 1904.0 1186.8 1905.3 1191.2 1906.5 1193.8 1907.8 1190.3 1909.0 1193.5 1910.2 1193.3 1911.5 1192.8 1912.7 1200.5 1914.0 1191.6 1915.2 1194.8 1916.5 1191.1 1917.7 1196.9 1919.0 1192.6 1920.2 1192.6 1921.5 1195.8 1922.7 1191.9 1924.0 1195.9 1925.2 1188.9 1926.4 1195.8 1927.7 1191.7 1928.9 1188.2 1930.2 1196.3 1931.4 1198.0 1932.7 1194.7 1933.9 1198.2 1935.2 1196.3 1936.4 1192.1 1937.7 1198.7 1938.9 1194.2 1940.2 1197.6 1941.4 1195.9 1942.7 1193.3 1943.9 1195.6 1945.2 1194.7 1946.4 1200.1 1947.6 1195.3 1948.9 1202.8 1950.1 1196.4 1951.4 1190.5 1952.6 1194.7 1953.9 1191.7 1955.1 1199.0 1956.4 1197.1 1957.6 1193.6 1958.9 1200.4 1960.1 1199.7 1961.4 1198.7 1962.6 1194.2 1963.9 1194.4 1965.1 1203.3 1966.4 1191.8 1967.6 1197.2 1968.8 1196.9 1970.1 1192.9 1971.3 1192.2 1972.6 1192.0 1973.8 1200.2 1975.1 1195.5 1976.3 1201.5 1977.6 1201.2 1978.8 1200.1 1980.1 1199.4 1981.3 1199.4 1982.6 1201.6 1983.8 1199.4 1985.1 1197.3 1986.3 1200.0 1987.6 1205.7 1988.8 1204.2 1990.1 1198.6 1991.3 1195.1 1992.6 1196.1 1993.8 1196.9 1995.0 1199.8 1996.3 1198.9 1997.5 1202.2 1998.8 1204.7 2000.0 1200.0 2001.3 1203.9 2002.5 1202.0 2003.8 1197.7 2005.0 1197.6 2006.3 1195.5 2007.5 1192.5 2008.8 1200.9 2010.0 1201.7 2011.3 1201.0 2012.5 1199.2 2013.8 1201.5 2015.0 1203.2 2016.3 1203.6 2017.5 1202.2 2018.8 1202.8 2020.0 1202.6 2021.3 1204.9 2022.5 1205.2 2023.8 1198.8 2025.0 1209.6 2026.3 1203.6 2027.5 1200.0 2028.7 1197.5 2030.0 1203.1 2031.2 1204.9 2032.5 1199.3 2033.7 1200.6 2035.0 1206.7 2036.2 1204.6 2037.5 1203.8 2038.7 1203.4 2040.0 1207.5 2041.2 1199.8 2042.5 1202.6 2043.7 1200.8 2045.0 1199.6 2046.2 1199.0 2047.5 1202.1 2048.7 1201.6 2050.0 1202.2 2051.2 1205.8 2052.5 1202.6 2053.7 1201.5 2055.0 1202.9 2056.2 1202.5 2057.5 1202.8 2058.7 1206.0 2060.0 1199.7 2061.2 1200.1 2062.5 1199.8 2063.7 1200.2 2065.0 1204.9 2066.2 1206.9 2067.5 1206.1 2068.7 1208.4 2070.0 1206.3 2071.2 1208.8 2072.5 1204.3 2073.7 1208.7 2075.0 1208.4 2076.2 1206.5 2077.4 1205.1 2078.7 1203.5 2079.9 1201.7 2081.2 1202.3 2082.4 1201.7 2083.7 1201.4 2084.9 1208.1 2086.2 1200.6 2087.4 1198.2 2088.7 1205.9 2089.9 1205.1 2091.2 1200.5 2092.4 1205.2 2093.7 1204.1 2094.9 1206.3 2096.2 1202.3 2097.4 1205.2 2098.7 1205.5 2099.9 1205.7 2101.2 1208.9 2102.4 1213.0 2103.7 1206.4 2104.9 1204.0 2106.2 1202.8 2107.4 1206.5 2108.7 1204.2 2109.9 1200.9 2111.2 1201.1 2112.4 1204.3 2113.7 1208.7 2114.9 1211.6 2116.2 1211.2 2117.4 1207.7 2118.7 1209.4 2119.9 1211.6 2121.2 1206.6 2122.4 1197.8 2123.7 1213.5 2124.9 1212.2 2126.2 1210.2 2127.4 1212.3 2128.7 1210.1 2129.9 1204.8 2131.2 1202.2 2132.4 1206.0 2133.7 1197.9 2134.9 1200.8 2136.2 1206.0 2137.4 1198.9 2138.7 1202.2 2139.9 1215.5 2141.2 1208.3 2142.4 1203.0 2143.7 1207.9 2144.9 1205.6 2146.2 1209.4 2147.4 1204.6 2148.7 1212.0 2149.9 1211.4 2151.2 1214.6 2152.4 1209.3 2153.7 1212.2 2154.9 1199.1 2156.2 1200.8 2157.4 1205.8 2158.7 1204.8 2159.9 1203.3 2161.2 1206.5 2162.4 1206.8 2163.7 1214.9 2164.9 1207.4 2166.2 1216.3 2167.4 1208.3 2168.7 1205.0 2169.9 1203.3 2171.2 1207.9 2172.4 1205.5 2173.7 1205.5 2174.9 1209.8 2176.2 1212.7 2177.4 1206.9 2178.7 1205.2 2179.9 1207.3 2181.2 1205.5 2182.4 1202.0 2183.7 1209.7 2184.9 1208.5 2186.2 1203.9 2187.4 1206.0 2188.7 1206.4 2189.9 1203.5 2191.2 1210.4 2192.4 1209.0 2193.7 1204.6 2194.9 1203.5 2196.2 1218.0 2197.4 1202.4 2198.7 1212.8 2199.9 1210.2 2201.2 1209.8 2202.4 1203.6 2203.6 1206.9 2204.9 1206.9 2206.1 1214.6 2207.4 1209.2 2208.6 1202.6 2209.9 1209.8 2211.1 1211.4 2212.4 1212.0 2213.6 1207.1 2214.9 1208.9 2216.1 1206.1 2217.4 1208.0 2218.6 1210.0 2219.9 1210.2 2221.1 1201.3 2222.4 1209.7 2223.6 1213.0 2224.9 1214.5 2226.1 1205.1 2227.4 1213.0 2228.6 1217.2 2229.9 1229.5 2231.1 1221.9 2232.4 1222.6 2233.6 1206.8 2234.9 1210.7 2236.1 1212.4 2237.4 1220.1 2238.6 1202.5 2239.9 1215.9 2241.1 1214.9 2242.4 1214.8 2243.6 1205.6 2244.9 1209.6 2246.1 1207.9 2247.4 1210.7 2248.6 1207.9 2249.9 1207.3 2251.1 1207.7 2252.4 1206.0 2253.6 1215.4 2254.9 1206.6 2256.1 1207.2 2257.4 1214.1 2258.6 1208.8 2259.9 1208.8 2261.1 1213.2 2262.4 1210.1 2263.6 1213.1 2264.9 1211.4 2266.1 1203.7 2267.3 1210.5 2268.6 1215.8 2269.8 1213.8 2271.1 1221.0 2272.3 1213.8 2273.6 1213.9 2274.8 1211.9 2276.1 1211.8 2277.3 1222.0 2278.6 1211.5 2279.8 1207.6 2281.1 1212.0 2282.3 1208.5 2283.6 1215.9 2284.8 1216.3 2286.1 1214.9 2287.3 1211.8 2288.6 1210.8 2289.8 1201.9 2291.1 1208.4 2292.3 1208.8 2293.5 1220.9 2294.8 1216.0 2296.0 1219.7 2297.3 1213.5 2298.5 1214.7 2299.8 1217.7 2301.0 1207.1 2302.3 1214.3 2303.5 1215.7 2304.8 1221.2 2306.0 1218.5" stroke="#FF8800"/>
<path d="M276.1 1249.8L276.2 1249.1 276.5 1247.5 276.7 1246.6 277.0 1245.2 277.4 1244.0 277.8 1243.2 278.2 1241.8 278.6 1240.5 279.1 1239.1 279.6 1238.4 280.2 1237.1 280.8 1235.7 281.4 1234.8 282.0 1233.4 282.7 1232.4 283.4 1231.4 284.2 1230.7 284.9 1229.7 285.7 1228.4 286.6 1227.9 287.4 1227.0 288.3 1226.0 289.2 1225.4 290.2 1224.3 291.2 1223.6 292.2 1223.0 293.3 1222.1 294.3 1221.7 295.4 1220.6 296.6 1220.8 297.7 1219.8 298.9 1219.5 300.1 1218.7 301.3 1218.7 302.5 1218.5 303.7 1218.1 304.9 1217.9 306.2 1217.2 307.4 1217.3 308.6 1217.3 309.9 1217.0 311.1 1217.3 312.4 1216.9 313.6 1216.7 314.9 1216.8 316.1 1216.4 317.4 1216.4 318.6 1216.3 319.9 1216.6 321.1 1216.5 322.4 1216.4 323.6 1216.5 324.9 1215.8 326.1 1215.9 327.3 1216.0 328.6 1215.5 329.8 1215.6 331.1 1215.9 332.3 1215.8 333.6 1215.6 334.8 1215.2 336.0 1214.9 337.3 1215.0 338.5 1214.4 339.7 1214.2 340.9 1214.0 342.1 1213.2 343.2 1212.6 344.4 1212.3 345.5 1212.0 346.7 1211.4 347.8 1210.8 348.9 1210.3 350.0 1209.1 351.0 1208.7 352.1 1208.3 353.1 1207.3 354.1 1206.4 355.1 1205.6 356.1 1204.8 357.1 1204.2 358.0 1203.2 359.0 1202.7 359.9 1202.2 360.8 1200.9 361.7 1200.5 362.6 1199.4 363.5 1198.2 364.4 1197.5 365.2 1196.4 366.1 1195.9 366.9 1194.4 367.7 1194.0 368.5 1192.9 369.4 1191.2 370.2 1190.9 371.0 1190.2 371.7 1188.7 372.5 1188.2 373.3 1186.5 374.1 1186.1 374.8 1184.6 375.6 1184.1 376.3 1182.6 377.1 1181.3 377.8 1181.1 378.5 1180.5 379.3 1178.7 380.0 1178.1 380.7 1176.9 381.5 1175.7 382.2 1174.9 382.9 1174.2 383.6 1172.5 384.4 1172.0 385.1 1171.0 385.8 1169.6 386.5 1169.4 387.3 1168.5 388.0 1166.7 388.7 1166.4 389.4 1164.9 390.2 1163.8 390.9 1163.1 391.7 1161.8 392.4 1160.8 393.2 1160.1 393.9 1159.0 394.6 1157.9 395.4 1156.4 396.1 1155.4 396.9 1155.1 397.6 1153.6 398.4 1152.9 399.1 1151.6 399.9 1150.8 400.6 1149.5 401.4 1149.2 402.1 1147.5 402.9 1146.7 403.6 1145.7 404.4 1145.1 405.1 1143.4 405.9 1142.8 406.6 1141.8 407.4 1141.0 408.1 1140.0 408.9 1138.7 409.6 1137.9 410.3 1136.6 411.1 1135.8 411.8 1134.6 412.5 1133.4 413.3 1132.5 414.0 1131.6 414.7 1131.1 415.4 1129.4 416.2 1128.6 416.9 1127.9 417.6 1126.0 418.3 1125.0 419.0 1124.1 419.7 1123.4 420.4 1123.0 421.1 1121.5 421.8 1120.7 422.5 1119.3 423.1 1117.7 423.8 1116.5 424.5 1116.3 425.2 1114.9 425.8 1113.4 426.5 1113.0 427.2 1111.3 427.8 1111.0 428.5 1110.0 429.2 1108.3 429.8 1107.2 430.5 1106.6 431.1 1105.0 431.8 1104.4 432.4 1102.8 433.1 1102.2 433.7 1100.9 434.3 1099.8 435.0 1098.7 435.6 1098.0 436.2 1096.4 436.9 1095.7 437.5 1094.6 438.1 1093.8 438.7 1092.2 439.4 1091.9 440.0 1090.2 440.6 1088.9 441.2 1088.4 441.8 1087.5 442.5 1086.0 443.1 1084.8 443.7 1084.0 444.3 1082.7 444.9 1081.7 445.5 1081.1 446.1 1079.7 446.7 1078.5 447.3 1077.4 447.9 1076.2 448.5 1075.4 449.1 1074.3 449.7 1072.8 450.3 1071.9 450.9 1071.4 451.5 1069.8 452.1 1068.5 452.7 1068.0 453.3 1066.4 453.9 1064.9 454.5 1064.2 455.1 1062.6 455.7 1061.6 456.3 1060.8 456.9 1059.6 457.5 1058.4 458.1 1057.4 458.7 1056.3 459.3 1055.7 459.9 1054.1 460.5 1053.0 461.2 1052.5 461.8 1050.6 462.4 1050.0 463.0 1048.8 463.6 1047.4 464.2 1046.1 464.8 1045.6 465.4 1044.6 466.1 1043.6 466.7 1042.2 467.3 1041.4 467.9 1040.4 468.6 1038.7 469.2 1038.3 469.8 1036.9 470.5 1035.7 471.1 1034.6 471.7 1034.1 472.4 1032.7 473.0 1030.9 473.7 1030.3 474.3 1029.2 475.0 1028.1 475.6 1027.0 476.3 1025.7 477.0 1025.3 477.6 1023.8 478.3 1022.8 479.0 1021.7 479.6 1020.5 480.3 1019.8 481.0 1018.7 481.7 1017.4 482.4 1016.3 483.0 1015.5 483.7 1014.8 484.4 1013.5 485.1 1012.5 485.8 1011.3 486.5 1010.2 487.1 1009.3 487.8 1007.7 488.5 1007.7 489.2 1006.0 489.9 1004.9 490.6 1004.4 491.2 1003.0 491.9 1001.9 492.6 1000.7 493.3 999.5 494.0 999.0 494.6 998.2 495.3 996.6 496.0 996.1 496.7 994.4 497.3 993.4 498.0 992.6 498.7 991.4 499.4 990.5 500.0 989.0 500.7 987.9 501.3 986.7 502.0 985.8 502.7 984.8 503.3 983.7 504.0 983.1 504.6 981.8 505.3 980.4 505.9 980.6 506.6 978.6 507.2 977.5 507.9 977.0 508.5 975.8 509.1 974.0 509.8 972.7 510.4 971.7 511.1 971.3 511.7 969.9 512.3 968.8 513.0 968.0 513.6 967.2 514.3 965.4 514.9 964.6 515.5 963.2 516.2 963.1 516.8 961.9 517.4 960.6 518.1 959.2 518.7 958.3 519.3 956.4 519.9 955.9 520.6 954.4 521.2 953.4 521.8 952.6 522.5 951.7 523.1 950.9 523.7 949.8 524.3 948.4 525.0 946.9 525.6 946.3 526.2 945.0 526.9 944.4 527.5 942.8 528.1 941.3 528.7 940.9 529.4 940.5 530.0 939.0 530.6 937.7 531.3 936.8 531.9 935.5 532.5 934.3 533.2 932.9 533.8 932.0 534.4 931.1 535.1 929.8 535.7 928.6 536.3 927.8 537.0 926.9 537.6 925.7 538.3 924.6 538.9 923.6 539.5 923.2 540.2 921.5 540.8 920.7 541.5 920.0 542.1 918.4 542.8 917.5 543.4 916.7 544.1 915.8 544.7 914.4 545.4 913.3 546.0 912.1 546.7 910.5 547.3 909.9 548.0 908.3 548.7 906.8 549.3 906.3 550.0 904.8 550.7 904.0 551.3 903.3 552.0 902.0 552.7 901.6 553.4 899.8 554.0 899.3 554.7 898.4 555.4 897.7 556.1 896.5 556.8 895.2 557.5 894.1 558.1 893.0 558.8 892.2 559.5 890.6 560.2 889.9 560.9 888.6 561.6 887.6 562.3 886.4 563.0 886.2 563.8 884.4 564.5 883.6 565.2 882.6 565.9 881.7 566.6 880.6 567.3 879.5 568.0 878.7 568.8 876.9 569.5 876.3 570.2 874.9 570.9 874.3 571.7 872.9 572.4 871.9 573.1 871.1 573.9 870.6 574.6 869.4 575.3 868.3 576.1 867.7 576.8 866.0 577.6 864.7 578.3 864.1 579.0 863.2 579.8 862.6 580.5 861.8 581.3 859.8 582.0 859.9 582.8 858.6 583.5 857.4 584.3 856.3 585.1 855.9 585.8 854.2 586.6 853.0 587.3 852.1 588.1 850.6 588.9 850.2 589.6 849.0 590.4 848.2 591.2 847.3 591.9 845.9 592.7 845.7 593.5 844.1 594.2 843.8 595.0 842.0 595.8 841.6 596.6 840.2 597.3 839.4 598.1 838.1 598.9 836.7 599.7 835.9 600.4 835.3 601.2 834.5 602.0 833.0 602.8 832.0 603.6 831.5 604.4 830.7 605.1 829.6 605.9 828.5 606.7 828.0 607.5 827.1 608.3 826.1 609.1 824.7 609.9 824.1 610.7 823.1 611.5 821.6 612.3 821.3 613.0 820.0 613.8 818.8 614.6 818.4 615.4 817.2 616.2 816.2 617.0 815.3 617.8 814.2 618.6 812.6 619.4 811.8 620.2 811.4 621.0 810.0 621.8 809.4 622.6 808.6 623.4 808.1 624.2 807.1 625.0 806.1 625.8 804.9 626.6 804.1 627.4 802.9 628.2 801.6 629.0 800.9 629.8 799.7 630.6 798.3 631.4 798.0 632.2 796.6 633.0 795.9 633.8 794.4 634.6 793.9 635.4 792.7 636.2 791.7 637.0 790.4 637.8 790.6 638.6 788.9 639.4 788.1 640.2 787.4 641.0 786.1 641.8 785.3 642.6 783.8 643.4 783.3 644.2 782.1 645.0 781.4 645.8 780.4 646.6 779.0 647.4 777.9 648.2 777.2 648.9 776.8 649.7 775.8 650.5 774.9 651.3 773.2 652.1 772.0 652.9 771.6 653.7 770.7 654.5 769.6 655.3 768.9 656.1 767.9 656.9 766.6 657.7 765.8 658.5 765.1 659.3 764.1 660.1 763.0 660.9 762.7 661.7 760.9 662.5 760.1 663.2 758.8 664.0 758.1 664.8 757.3 665.6 756.3 666.4 755.0 667.2 754.1 668.0 753.0 668.8 751.4 669.6 750.1 670.4 750.9 671.2 749.5 672.0 748.4 672.8 747.0 673.5 746.3 674.3 746.1 675.1 743.8 675.9 743.5 676.7 742.8 677.5 741.7 678.3 740.9 679.1 739.8 679.9 739.6 680.7 737.6 681.4 736.5 682.2 736.1 683.0 735.4 683.8 734.0 684.6 733.4 685.4 732.0 686.2 730.9 687.0 730.7 687.8 729.8 688.5 728.8 689.3 727.1 690.1 726.0 690.9 725.0 691.7 724.3 692.5 723.6 693.3 722.6 694.1 720.9 694.8 720.4 695.6 719.3 696.4 718.4 697.2 717.3 698.0 716.3 698.8 715.5 699.6 714.4 700.3 713.5 701.1 712.2 701.9 711.6 702.7 710.4 703.5 708.8 704.3 708.7 705.1 707.5 705.9 706.9 706.6 705.5 707.4 704.6 708.2 703.6 709.0 702.6 709.8 701.5 710.6 700.2 711.4 700.4 712.2 698.3 712.9 697.8 713.7 697.1 714.5 696.1 715.3 695.2 716.1 694.3 716.9 693.5 717.7 692.3 718.5 692.1 719.3 689.9 720.1 689.3 720.9 688.1 721.6 687.0 722.4 686.2 723.2 685.5 724.0 683.8 724.8 682.9 725.6 682.5 726.4 681.6 727.2 681.1 728.0 679.9 728.8 678.7 729.6 677.6 730.4 676.8 731.2 675.7 732.0 674.4 732.8 674.0 733.6 673.0 734.4 672.0 735.2 670.9 736.0 670.6 736.8 669.3 737.6 668.4 738.4 666.9 739.2 665.7 740.1 665.0 740.9 664.2 741.7 663.0 742.5 662.1 743.3 661.5 744.1 660.5 744.9 659.3 745.7 658.6 746.6 657.7 747.4 657.0 748.2 655.5 749.0 654.9 749.8 654.1 750.6 653.0 751.5 651.8 752.3 651.0 753.1 650.4 753.9 649.6 754.8 648.8 755.6 647.5 756.4 646.2 757.2 646.0 758.1 644.6 758.9 643.6 759.7 642.4 760.6 641.1 761.4 640.5 762.2 639.8 763.1 639.2 763.9 637.9 764.8 636.0 765.6 636.0 766.4 635.3 767.3 634.6 768.1 633.5 769.0 633.2 769.8 631.9 770.6 631.0 771.5 629.9 772.3 628.2 773.2 628.1 774.0 627.0 774.9 625.7 775.7 625.2 776.6 624.2 777.5 623.0 778.3 622.2 779.2 621.2 780.0 620.5 780.9 619.3 781.8 618.6 782.6 616.8 783.5 616.4 784.3 615.1 785.2 614.6 786.1 614.1 786.9 613.1 787.8 612.1 788.7 611.3 789.6 610.8 790.4 609.0 791.3 608.8 792.2 607.2 793.1 606.7 793.9 606.0 794.8 604.8 795.7 604.2 796.6 603.5 797.5 601.9 798.4 601.5 799.2 600.6 800.1 599.2 801.0 599.0 801.9 597.9 802.8 597.7 803.7 596.1 804.6 596.1 805.5 594.5 806.4 594.4 807.3 593.1 808.2 592.1 809.1 591.4 810.0 590.6 810.9 589.9 811.8 589.2 812.7 587.5 813.6 586.3 814.6 585.0 815.5 584.9 816.4 584.5 817.3 583.4 818.2 582.5 819.1 581.4 820.1 580.5 821.0 579.8 821.9 579.2 822.8 577.5 823.8 577.6 824.7 575.9 825.6 575.6 826.6 574.6 827.5 573.9 828.4 572.8 829.4 572.0 830.3 571.6 831.2 570.4 832.2 571.0 833.1 569.0 834.1 568.0 835.0 567.3 836.0 566.3 836.9 564.9 837.9 565.1 838.8 564.4 839.8 562.7 840.7 562.4 841.7 561.0 842.6 560.8 843.6 560.3 844.6 559.7 845.5 559.0 846.5 557.6 847.4 557.4 848.4 555.9 849.4 555.3 850.3 554.7 851.3 553.5 852.3 552.2 853.2 552.3 854.2 550.8 855.2 550.1 856.1 549.3 857.1 549.4 858.1 548.1 859.1 546.3 860.0 546.9 861.0 546.7 862.0 545.9 863.0 544.0 863.9 543.6 864.9 543.1 865.9 542.4 866.9 541.2 867.8 539.8 868.8 539.8 869.8 538.9 870.8 537.2 871.7 536.8 872.7 536.3 873.7 535.4 874.7 534.9 875.6 534.3 876.6 533.4 877.6 532.4 878.6 531.2 879.5 531.6 880.5 531.3 881.5 530.7 882.4 528.8 883.4 527.9 884.4 527.8 885.4 526.9 886.3 525.5 887.3 524.8 888.3 523.2 889.2 523.2 890.2 521.7 891.2 521.4 892.1 520.6 893.1 519.5 894.1 517.7 895.0 517.5 896.0 517.3 897.0 516.5 897.9 515.8 898.9 515.8 899.9 515.3 900.9 514.3 901.8 512.3 902.8 511.8 903.8 510.6 904.8 509.7 905.8 508.7 906.7 508.9 907.7 507.9 908.7 508.8 909.8 506.8 910.8 506.0 911.8 505.1 912.8 505.6 913.8 503.1 914.9 502.6 915.9 501.5 917.0 501.3 918.0 500.9 919.1 501.1 920.2 499.0 921.2 499.3 922.3 499.7 923.4 497.9 924.5 497.6 925.6 496.5 926.8 494.8 927.9 495.8 929.0 496.0 930.2 494.5 931.3 493.1 932.5 493.9 933.7 493.4 934.8 493.6 936.0 493.1 937.2 492.0 938.4 492.1 939.5 490.2 940.7 491.6 941.9 490.5 943.1 490.7 944.3 490.3 945.5 489.1 946.7 488.8 947.9 487.9 949.1 486.7 950.3 487.6 951.5 487.4 952.6 486.1 953.8 487.0 955.0 486.3 956.2 486.2 957.4 485.0 958.6 483.8 959.8 485.0 961.0 484.3 962.2 483.4 963.3 482.9 964.5 482.8 965.7 482.7 966.9 482.1 968.1 480.5 969.3 482.0 970.5 479.8 971.7 480.2 972.8 479.7 974.0 479.7 975.2 477.8 976.4 479.5 977.6 478.9 978.8 478.7 980.0 478.9 981.2 477.1 982.3 475.0 983.5 477.4 984.7 477.9 985.9 477.5 987.1 475.7 988.3 475.6 989.5 475.4 990.6 473.3 991.8 473.6 993.0 473.1 994.2 474.3 995.4 472.0 996.6 473.6 997.8 472.1 999.0 470.4 1000.2 473.3 1001.4 470.2 1002.5 470.9 1003.7 471.3 1004.9 469.0 1006.1 468.1 1007.3 469.7 1008.5 468.5 1009.7 467.1 1010.9 466.8 1012.1 467.1 1013.3 467.9 1014.5 466.4 1015.7 466.5 1016.9 466.7 1018.1 465.7 1019.3 465.4 1020.5 465.2 1021.7 462.7 1022.9 465.2 1024.1 464.2 1025.3 463.3 1026.5 461.9 1027.7 460.9 1028.9 460.9 1030.1 461.6 1031.3 460.3 1032.5 460.3 1033.7 460.2 1034.9 460.9 1036.1 459.6 1037.3 459.3 1038.6 460.3 1039.8 458.4 1041.0 459.0 1042.2 457.1 1043.4 458.1 1044.6 457.7 1045.8 457.6 1047.1 456.7 1048.3 456.0 1049.5 456.7 1050.7 456.5 1051.9 457.9 1053.1 457.7 1054.4 455.5 1055.6 457.2 1056.8 455.9 1058.0 456.6 1059.3 455.1 1060.5 453.6 1061.7 455.6 1062.9 454.8 1064.2 453.0 1065.4 452.2 1066.6 453.5 1067.8 452.6 1069.1 453.0 1070.3 453.6 1071.5 454.1 1072.8 451.8 1074.0 453.1 1075.2 452.4 1076.5 450.3 1077.7 448.8 1078.9 451.6 1080.2 451.4 1081.4 453.4 1082.7 452.5 1083.9 451.7 1085.1 452.5 1086.4 449.4 1087.6 450.6 1088.9 449.8 1090.1 451.7 1091.3 450.1 1092.6 445.9 1093.8 450.8 1095.1 448.2 1096.3 450.1 1097.6 448.6 1098.8 449.4 1100.0 449.7 1101.3 449.2 1102.5 447.7 1103.8 450.0 1105.0 448.5 1106.3 447.7 1107.5 448.2 1108.8 446.6 1110.0 449.2 1111.3 447.1 1112.5 447.2 1113.8 447.3 1115.0 446.0 1116.3 445.8 1117.5 447.5 1118.8 447.6 1120.0 448.7 1121.3 447.6 1122.5 445.7 1123.8 447.5 1125.0 447.8 1126.3 448.0 1127.5 447.2 1128.8 445.5 1130.0 448.6 1131.3 446.5 1132.5 448.3 1133.8 445.7 1135.0 448.7 1136.3 446.9 1137.5 449.1 1138.8 449.5 1140.0 448.4 1141.3 445.1 1142.5 445.3 1143.8 445.6 1145.0 447.7 1146.3 447.5 1147.5 447.4 1148.8 447.7 1150.0 448.1 1151.3 448.2 1152.5 449.6 1153.8 447.3 1155.0 447.6 1156.3 445.0 1157.5 445.7 1158.8 446.6 1160.0 446.1 1161.3 448.0 1162.5 449.0 1163.8 446.8 1165.0 446.5 1166.3 446.3 1167.5 447.2 1168.8 446.6 1170.0 448.1 1171.3 448.2 1172.5 448.6 1173.8 449.4 1175.0 448.8 1176.3 451.8 1177.5 454.0 1178.8 451.4 1180.0 452.4 1181.3 451.2 1182.5 447.8 1183.8 447.7 1185.0 447.0 1186.3 447.9 1187.5 447.2 1188.8 447.8 1190.0 450.3 1191.3 448.8 1192.5 450.8 1193.7 449.9 1195.0 450.9 1196.2 449.2 1197.5 450.3 1198.7 453.6 1200.0 451.1 1201.2 451.2 1202.5 450.1 1203.7 450.9 1205.0 448.1 1206.2 448.4 1207.5 450.5 1208.7 451.6 1209.9 450.4 1211.2 451.3 1212.4 451.0 1213.7 450.8 1214.9 449.0 1216.2 448.2 1217.4 450.2 1218.6 448.4 1219.9 450.0 1221.1 450.9 1222.4 450.6 1223.6 452.4 1224.9 451.5 1226.1 452.1 1227.3 450.7 1228.6 451.0 1229.8 452.7 1231.1 452.4 1232.3 451.6 1233.6 453.4 1234.8 453.8 1236.0 454.4 1237.3 456.7 1238.5 453.8 1239.8 455.0 1241.0 455.0 1242.2 453.9 1243.5 452.5 1244.7 455.0 1246.0 454.2 1247.2 454.2 1248.4 454.7 1249.7 455.3 1250.9 454.5 1252.2 456.4 1253.4 453.3 1254.6 455.8 1255.9 453.6 1257.1 455.2 1258.3 456.6 1259.6 451.7 1260.8 451.3 1262.1 453.0 1263.3 455.6 1264.5 455.8 1265.8 456.3 1267.0 459.6 1268.2 458.7 1269.5 458.8 1270.7 456.7 1271.9 459.7 1273.2 457.2 1274.4 460.1 1275.7 458.0 1276.9 462.7 1278.1 457.4 1279.4 461.8 1280.6 461.3 1281.8 457.6 1283.1 460.1 1284.3 462.8 1285.5 462.5 1286.8 458.6 1288.0 460.6 1289.2 459.9 1290.5 460.4 1291.7 461.1 1292.9 465.0 1294.2 462.5 1295.4 462.0 1296.6 462.2 1297.9 464.3 1299.1 464.8 1300.3 462.9 1301.5 466.7 1302.8 462.8 1304.0 464.0 1305.2 465.1 1306.5 467.3 1307.7 464.4 1308.9 465.6 1310.2 467.5 1311.4 466.7 1312.6 467.8 1313.8 467.9 1315.1 467.0 1316.3 467.6 1317.5 467.9 1318.8 466.3 1320.0 468.7 1321.2 463.3 1322.4 465.3 1323.7 469.3 1324.9 468.1 1326.1 467.0 1327.3 469.4 1328.6 471.3 1329.8 469.4 1331.0 471.7 1332.2 470.3 1333.5 470.3 1334.7 470.3 1335.9 472.3 1337.1 468.8 1338.4 470.2 1339.6 471.9 1340.8 469.2 1342.0 469.1 1343.3 472.9 1344.5 472.4 1345.7 472.3 1346.9 472.9 1348.2 471.2 1349.4 477.5 1350.6 471.6 1351.8 472.9 1353.0 471.8 1354.3 473.9 1355.5 477.2 1356.7 474.7 1357.9 475.7 1359.1 474.0 1360.4 478.2 1361.6 476.0 1362.8 474.2 1364.0 478.0 1365.2 476.1 1366.5 477.6 1367.7 476.6 1368.9 476.7 1370.1 477.2 1371.3 476.5 1372.5 476.5 1373.8 481.6 1375.0 479.8 1376.2 480.4 1377.4 479.0 1378.6 476.2 1379.8 477.5 1381.1 482.0 1382.3 478.4 1383.5 479.1 1384.7 477.8 1385.9 480.0 1387.1 480.9 1388.3 481.8 1389.5 482.3 1390.8 481.7 1392.0 482.0 1393.2 483.3 1394.4 484.2 1395.6 483.9 1396.8 487.5 1398.0 485.4 1399.2 485.4 1400.5 483.9 1401.7 486.8 1402.9 483.3 1404.1 482.9 1405.3 484.7 1406.5 488.1 1407.7 485.8 1408.9 491.1 1410.1 489.9 1411.3 488.5 1412.5 491.8 1413.8 494.7 1415.0 489.2 1416.2 487.5 1417.4 489.8 1418.6 491.7 1419.8 491.9 1421.0 490.3 1422.2 492.0 1423.4 492.5 1424.6 494.1 1425.8 496.0 1427.0 492.2 1428.2 495.1 1429.4 492.7 1430.6 494.8 1431.8 492.6 1433.0 492.8 1434.2 494.7 1435.4 492.3 1436.6 495.2 1437.8 493.1 1439.0 494.8 1440.2 495.0 1441.5 495.1 1442.7 496.6 1443.9 499.1 1445.1 503.4 1446.3 496.6 1447.5 499.5 1448.7 498.9 1449.8 497.8 1451.0 500.2 1452.2 498.8 1453.4 501.1 1454.6 504.2 1455.8 499.2 1457.0 503.1 1458.2 503.2 1459.4 500.4 1460.6 502.8 1461.8 503.0 1463.0 502.4 1464.2 505.8 1465.4 501.8 1466.6 506.4 1467.8 505.9 1469.0 505.5 1470.2 508.2 1471.4 507.4 1472.6 508.9 1473.8 504.1 1475.0 505.8 1476.2 505.6 1477.4 509.7 1478.6 505.1 1479.8 509.4 1481.0 504.8 1482.2 509.3 1483.4 509.0 1484.6 510.5 1485.8 508.9 1487.0 507.0 1488.2 508.1 1489.3 513.7 1490.5 512.3 1491.7 510.9 1492.9 514.8 1494.1 512.3 1495.3 512.5 1496.5 511.8 1497.7 516.4 1498.9 518.0 1500.1 512.7 1501.3 515.2 1502.5 516.6 1503.7 518.8 1504.9 511.1 1506.1 516.4 1507.3 518.0 1508.5 514.6 1509.7 519.2 1510.9 519.8 1512.1 521.8 1513.3 520.4 1514.5 522.2 1515.7 520.3 1516.9 522.6 1518.1 521.7 1519.3 520.0 1520.5 517.3 1521.7 522.3 1522.9 520.5 1524.1 521.2 1525.3 519.3 1526.5 521.0 1527.7 525.9 1528.9 524.3 1530.1 521.4 1531.3 523.3 1532.5 523.6 1533.7 523.7 1534.9 523.1 1536.1 528.0 1537.3 527.5 1538.5 526.1 1539.7 523.6 1540.9 525.6 1542.1 526.9 1543.3 529.5 1544.5 528.0 1545.7 531.8 1546.9 530.8 1548.1 529.2 1549.3 525.3 1550.5 528.4 1551.8 527.9 1553.0 530.8 1554.2 532.0 1555.4 534.4 1556.6 532.0 1557.8 529.9 1559.0 536.8 1560.2 533.0 1561.4 532.0 1562.6 532.3 1563.8 530.4 1565.1 534.5 1566.3 534.3 1567.5 537.1 1568.7 536.5 1569.9 536.5 1571.1 537.7 1572.3 535.2 1573.5 535.5 1574.8 536.9 1576.0 535.0 1577.2 537.3 1578.4 537.0 1579.6 539.1 1580.8 537.8 1582.0 534.1 1583.3 538.0 1584.5 540.7 1585.7 534.4 1586.9 537.3 1588.1 539.6 1589.4 537.7 1590.6 539.9 1591.8 541.1 1593.0 538.3 1594.2 541.5 1595.4 541.7 1596.7 538.6 1597.9 541.4 1599.1 543.7 1600.3 541.4 1601.5 542.7 1602.8 543.1 1604.0 541.5 1605.2 544.0 1606.4 543.1 1607.6 540.7 1608.9 544.1 1610.1 545.1 1611.3 545.2 1612.5 542.6 1613.8 545.0 1615.0 547.0 1616.2 544.4 1617.4 545.9 1618.7 545.8 1619.9 542.9 1621.1 545.7 1622.3 545.2 1623.5 549.4 1624.8 548.2 1626.0 547.4 1627.2 548.6 1628.4 548.6 1629.7 549.6 1630.9 549.8 1632.1 546.5 1633.3 547.6 1634.6 549.8 1635.8 550.7 1637.0 550.5 1638.2 556.4 1639.5 553.8 1640.7 551.4 1641.9 553.1 1643.2 554.5 1644.4 552.5 1645.6 548.4 1646.8 552.4 1648.1 552.6 1649.3 557.0 1650.5 548.1 1651.7 554.6 1653.0 550.4 1654.2 552.3 1655.4 550.7 1656.6 552.6 1657.9 555.5 1659.1 554.2 1660.3 556.7 1661.6 554.8 1662.8 554.6 1664.0 555.5 1665.2 555.4 1666.5 556.8 1667.7 560.6 1668.9 555.7 1670.1 555.0 1671.4 558.8 1672.6 562.8 1673.8 561.7 1675.0 562.4 1676.3 562.4 1677.5 558.3 1678.7 560.1 1680.0 553.6 1681.2 557.4 1682.4 559.5 1683.6 554.4 1684.9 553.2 1686.1 554.8 1687.3 558.0 1688.5 560.3 1689.7 564.5 1691.0 563.1 1692.2 557.8 1693.4 557.0 1694.6 562.5 1695.9 564.5 1697.1 558.8 1698.3 561.4 1699.5 562.1 1700.8 563.7 1702.0 563.9 1703.2 565.8 1704.4 566.9 1705.6 564.7 1706.9 566.1 1708.1 568.9 1709.3 562.6 1710.5 563.0 1711.7 566.8 1713.0 570.0 1714.2 566.0 1715.4 567.8 1716.6 564.4 1717.8 567.1 1719.1 564.6 1720.3 568.4 1721.5 568.7 1722.7 569.4 1723.9 571.6 1725.2 570.9 1726.4 567.2 1727.6 570.6 1728.8 565.4 1730.0 572.0 1731.2 576.5 1732.5 572.0 1733.7 572.3 1734.9 571.6 1736.1 573.7 1737.3 571.0 1738.6 573.7 1739.8 571.7 1741.0 571.4 1742.2 572.9 1743.4 572.9 1744.6 569.5 1745.9 578.6 1747.1 574.6 1748.3 570.6 1749.5 577.1 1750.7 574.8 1751.9 575.6 1753.1 577.3 1754.4 574.2 1755.6 570.0 1756.8 577.0 1758.0 578.0 1759.2 580.0 1760.4 576.1 1761.7 577.4 1762.9 578.9 1764.1 577.2 1765.3 577.3 1766.5 578.5 1767.7 575.9 1769.0 582.1 1770.2 576.6 1771.4 579.4 1772.6 579.6 1773.8 579.8 1775.0 583.8 1776.2 585.5 1777.5 586.2 1778.7 583.9 1779.9 581.1 1781.1 584.2 1782.3 579.5 1783.5 583.7 1784.7 585.4 1786.0 586.0 1787.2 582.1 1788.4 581.3 1789.6 588.9 1790.8 583.8 1792.0 581.1 1793.2 582.0 1794.5 585.0 1795.7 587.8 1796.9 585.2 1798.1 588.3 1799.3 586.2 1800.5 587.2 1801.7 589.0 1803.0 586.3 1804.2 588.5 1805.4 587.4 1806.6 587.2 1807.8 590.6 1809.0 587.4 1810.3 589.9 1811.5 588.3 1812.7 590.4 1813.9 589.7 1815.1 593.8 1816.3 591.0 1817.5 590.6 1818.8 594.0 1820.0 583.0 1821.2 587.8 1822.4 584.4 1823.6 591.6 1824.8 593.1 1826.0 594.1 1827.3 593.7 1828.5 591.3 1829.7 598.4 1830.9 595.8 1832.1 595.3 1833.3 594.0 1834.6 597.9 1835.8 594.5 1837.0 593.5 1838.2 594.0 1839.4 593.9 1840.6 592.6 1841.9 599.0 1843.1 594.8 1844.3 595.2 1845.5 598.7 1846.7 598.2 1847.9 597.9 1849.2 597.0 1850.4 603.0 1851.6 602.1 1852.8 600.0 1854.0 602.1 1855.2 597.7 1856.5 599.6 1857.7 601.9 1858.9 600.4 1860.1 607.8 1861.3 598.0 1862.6 600.2 1863.8 603.0 1865.0 606.9 1866.2 603.6 1867.4 601.3 1868.7 608.2 1869.9 602.7 1871.1 604.4 1872.3 607.0 1873.5 603.1 1874.8 603.9 1876.0 606.6 1877.2 605.2 1878.4 606.7 1879.6 603.8 1880.9 606.2 1882.1 603.9 1883.3 602.8 1884.5 611.2 1885.7 607.7 1887.0 608.7 1888.2 604.1 1889.4 607.3 1890.6 607.6 1891.9 605.2 1893.1 610.7 1894.3 607.3 1895.5 608.7 1896.7 605.2 1898.0 611.8 1899.2 611.2 1900.4 610.3 1901.6 606.9 1902.9 608.1 1904.1 613.3 1905.3 609.9 1906.5 611.9 1907.8 611.9 1909.0 608.8 1910.2 616.0 1911.4 606.9 1912.7 613.1 1913.9 612.9 1915.1 609.5 1916.3 615.3 1917.6 616.1 1918.8 614.8 1920.0 612.4 1921.3 615.7 1922.5 617.5 1923.7 615.2 1924.9 619.2 1926.2 617.0 1927.4 617.3 1928.6 620.0 1929.8 615.5 1931.1 616.9 1932.3 620.2 1933.5 620.3 1934.7 623.0 1936.0 622.1 1937.2 619.7 1938.4 620.1 1939.7 619.2 1940.9 619.3 1942.1 619.2 1943.3 622.8 1944.6 619.1 1945.8 619.4 1947.0 620.8 1948.3 618.9 1949.5 619.6 1950.7 614.2 1951.9 621.2 1953.2 619.5 1954.4 621.0 1955.6 621.6 1956.9 615.7 1958.1 627.7 1959.3 621.8 1960.6 622.2 1961.8 617.3 1963.0 624.7 1964.2 624.9 1965.5 623.5 1966.7 625.5 1967.9 628.2 1969.2 623.7 1970.4 622.0 1971.6 627.9 1972.9 624.6 1974.1 622.9 1975.3 629.4 1976.6 623.8 1977.8 623.7 1979.0 625.7 1980.2 624.6 1981.5 626.5 1982.7 626.0 1983.9 623.4 1985.2 624.1 1986.4 626.1 1987.6 627.2 1988.9 628.6 1990.1 630.0 1991.3 628.7 1992.6 629.1 1993.8 626.2 1995.0 626.2 1996.3 629.8 1997.5 621.5 1998.7 628.3 2000.0 636.4 2001.2 622.7 2002.4 633.1 2003.6 624.5 2004.9 631.4 2006.1 635.3 2007.3 635.1 2008.6 628.3 2009.8 627.3 2011.0 626.6 2012.3 632.4 2013.5 628.7 2014.7 629.4 2016.0 630.8 2017.2 632.4 2018.4 634.0 2019.7 634.0 2020.9 629.9 2022.1 639.7 2023.4 628.2 2024.6 640.7 2025.8 634.7 2027.1 634.6 2028.3 632.3 2029.5 631.4 2030.8 633.0 2032.0 633.8 2033.2 633.0 2034.5 640.5 2035.7 636.2 2036.9 641.1 2038.2 635.7 2039.4 633.2 2040.6 636.5 2041.9 638.2 2043.1 633.0 2044.3 635.2 2045.6 640.7 2046.8 633.8 2048.0 634.5 2049.3 638.0 2050.5 633.7 2051.7 629.5 2053.0 631.6 2054.2 637.4 2055.4 639.2 2056.7 640.4 2057.9 641.2 2059.1 637.7 2060.4 643.9 2061.6 645.2 2062.8 639.4 2064.1 644.3 2065.3 639.9 2066.5 641.3 2067.8 641.5 2069.0 635.4 2070.2 644.8 2071.5 638.0 2072.7 640.8 2073.9 640.0 2075.2 642.8 2076.4 642.4 2077.6 640.7 2078.9 644.8 2080.1 641.6 2081.3 640.2 2082.6 633.1 2083.8 642.1 2085.0 642.9 2086.3 641.8 2087.5 642.7 2088.7 648.1 2090.0 649.0 2091.2 650.7 2092.4 647.3 2093.7 640.4 2094.9 643.8 2096.1 639.4 2097.3 646.9 2098.6 646.5 2099.8 644.0 2101.0 646.1 2102.3 646.1 2103.5 645.4 2104.7 652.3 2106.0 658.8 2107.2 652.0 2108.4 653.4 2109.7 650.9 2110.9 649.6 2112.1 658.3 2113.4 650.3 2114.6 652.4 2115.8 650.1 2117.1 651.8 2118.3 649.0 2119.5 651.0 2120.8 645.0 2122.0 648.9 2123.2 653.9 2124.5 646.5 2125.7 648.5 2126.9 656.1 2128.2 653.7 2129.4 655.9 2130.6 644.7 2131.8 652.5 2133.1 647.6 2134.3 647.3 2135.5 653.6 2136.8 656.5 2138.0 647.7 2139.2 649.8 2140.5 652.4 2141.7 654.9 2142.9 651.7 2144.2 664.5 2145.4 659.3 2146.6 656.6 2147.9 656.6 2149.1 666.1 2150.3 665.3 2151.6 655.5 2152.8 657.8 2154.0 660.9 2155.2 652.4 2156.5 654.5 2157.7 661.2 2158.9 654.6 2160.2 656.1 2161.4 653.5 2162.6 656.1 2163.9 660.5 2165.1 654.1 2166.3 651.4 2167.6 652.7 2168.8 662.0 2170.0 657.5 2171.3 656.1 2172.5 659.8 2173.7 660.8 2175.0 659.3 2176.2 652.0 2177.4 659.3 2178.6 659.1 2179.9 664.9 2181.1 658.9 2182.3 669.7 2183.6 663.8 2184.8 658.8 2186.0 669.2 2187.3 661.8 2188.5 664.9 2189.7 662.8 2191.0 667.3 2192.2 667.3 2193.4 667.4 2194.7 665.9 2195.9 657.3 2197.1 657.0 2198.4 663.2 2199.6 657.8 2200.8 662.1 2202.1 659.9 2203.3 655.5 2204.5 658.9 2205.8 660.5 2207.0 663.3 2208.2 666.8 2209.5 670.9 2210.7 674.1 2211.9 666.0 2213.2 666.7 2214.4 673.7 2215.6 670.1 2216.9 666.5 2218.1 657.2 2219.3 663.4 2220.6 668.9 2221.8 667.0 2223.0 677.4 2224.3 670.2 2225.5 671.2 2226.7 666.0 2228.0 665.2 2229.2 665.6 2230.5 664.7 2231.7 665.1 2232.9 668.9 2234.2 670.0 2235.4 674.6 2236.6 666.9 2237.9 673.6 2239.1 674.2 2240.3 680.1 2241.6 673.3 2242.8 675.1 2244.0 670.0 2245.3 674.5 2246.5 674.0 2247.8 669.8 2249.0 670.6 2250.2 672.3 2251.5 674.8 2252.7 668.4 2253.9 677.4 2255.2 673.1 2256.4 682.9 2257.7 680.1 2258.9 671.2 2260.1 669.1 2261.4 680.6 2262.6 674.1 2263.8 675.0 2265.1 672.0 2266.3 674.4 2267.6 679.1 2268.8 679.0 2270.0 673.7 2271.3 683.2 2272.5 678.1 2273.8 671.6 2275.0 678.6 2276.2 672.4 2277.5 677.9 2278.7 673.8 2280.0 679.2 2281.2 672.3 2282.4 680.2 2283.7 671.4 2284.9 677.9 2286.2 665.6 2287.4 675.3 2288.6 677.8 2289.9 675.9 2291.1 678.1 2292.4 669.7 2293.6 682.5 2294.8 684.0 2296.1 673.2 2297.3 674.6 2298.6 675.2 2299.8 677.2 2301.1 677.7 2302.3 667.0 2303.5 681.4 2304.8 678.6 2306.0 676.2" stroke="#008400"/>
<path d="M287.8 24.7L287.8 25.8 287.8 27.1 287.8 28.6 287.8 29.7 287.8 31.5 287.8 32.0 287.8 33.5 287.8 34.9 287.8 36.2 287.8 37.1 287.8 38.6 287.8 40.0 287.9 41.3 287.9 42.4 287.9 43.8 287.9 45.3 287.9 46.8 288.0 47.2 288.0 48.8 288.0 50.2 288.0 50.8 288.1 52.8 288.1 54.2 288.1 55.2 288.2 56.7 288.2 58.0 288.2 58.9 288.3 60.3 288.3 61.1 288.3 62.4 288.4 63.8 288.4 65.0 288.5 66.6 288.5 67.4 288.6 68.4 288.6 70.2 288.7 71.5 288.7 72.6 288.8 73.8 288.8 74.9 288.9 76.2 288.9 78.0 289.0 79.1 289.0 80.2 289.1 81.6 289.1 82.7 289.2 83.9 289.3 85.2 289.3 86.5 289.4 87.4 289.5 88.6 289.5 89.8 289.6 91.3 289.7 92.9 289.7 93.7 289.8 95.0 289.9 96.0 289.9 97.5 290.0 98.5 290.1 99.7 290.2 100.9 290.2 103.0 290.3 103.6 290.4 104.7 290.5 106.0 290.5 107.5 290.6 108.8 290.7 109.8 290.8 110.6 290.9 112.6 290.9 113.8 291.0 115.0 291.1 116.3 291.2 117.4 291.3 119.0 291.4 119.9 291.4 121.5 291.5 122.4 291.6 123.7 291.7 124.9 291.8 126.1 291.9 127.3 292.0 128.8 292.1 130.2 292.2 131.0 292.2 132.2 292.3 134.1 292.4 135.0 292.5 136.4 292.6 137.6 292.7 139.0 292.8 139.8 292.9 141.5 293.0 142.6 293.1 143.1 293.2 144.8 293.3 146.0 293.4 147.5 293.5 148.6 293.6 149.7 293.7 151.1 293.8 152.7 293.9 153.9 294.0 155.2 294.1 156.9 294.2 157.7 294.3 158.5 294.4 160.0 294.5 161.3 294.6 162.1 294.7 163.6 294.8 164.6 294.9 165.5 295.0 167.4 295.1 168.7 295.2 170.0 295.3 171.1 295.4 172.4 295.5 173.9 295.6 175.3 295.7 176.5 295.8 177.8 295.9 178.8 296.0 179.7 296.1 181.1 296.2 182.1 296.3 183.9 296.4 185.2 296.5 186.6 296.6 187.7 296.7 189.2 296.8 189.9 296.9 191.2 297.0 192.2 297.1 193.3 297.2 194.2 297.3 195.8 297.5 196.9 297.6 198.6 297.7 199.9 297.8 201.3 297.9 202.0 298.0 203.5 298.1 204.7 298.2 205.5 298.3 207.6 298.4 208.6 298.5 209.5 298.6 211.4 298.7 212.5 298.8 212.9 298.9 214.7 299.0 215.9 299.1 217.3 299.2 218.4 299.3 219.8 299.4 221.1 299.5 221.8 299.6 223.6 299.6 225.2 299.7 226.1 299.8 227.6 299.9 229.0 300.0 229.9 300.1 231.1 300.2 232.4 300.3 233.4 300.4 235.3 300.5 236.1 300.6 237.5 300.7 238.9 300.8 240.3 300.9 240.9 301.0 242.2 301.1 243.8 301.2 245.1 301.2 246.0 301.3 247.2 301.4 249.0 301.5 250.2 301.6 251.2 301.7 252.4 301.8 253.5 301.9 254.6 302.0 256.0 302.1 257.5 302.1 258.7 302.2 260.3 302.3 261.0 302.4 262.1 302.5 263.9 302.6 264.8 302.7 266.1 302.8 267.4 302.8 268.3 302.9 269.5 303.0 271.1 303.1 271.7 303.2 273.7 303.3 274.4 303.4 276.3 303.4 277.4 303.5 278.6 303.6 279.9 303.7 281.1 303.8 282.0 303.9 283.7 304.0 284.8 304.0 286.2 304.1 287.3 304.2 288.5 304.3 290.0 304.4 291.2 304.5 292.2 304.5 293.0 304.6 294.3 304.7 295.5 304.8 297.3 304.9 298.5 305.0 299.7 305.0 300.9 305.1 302.0 305.2 303.7 305.3 304.5 305.4 305.7 305.5 307.3 305.5 308.4 305.6 309.4 305.7 310.4 305.8 311.7 305.9 313.4 305.9 314.6 306.0 316.3 306.1 317.1 306.2 318.6 306.3 319.7 306.4 321.4 306.4 321.8 306.5 323.5 306.6 324.9 306.7 325.6 306.8 326.8 306.8 328.1 306.9 329.3 307.0 331.0 307.1 332.2 307.2 333.3 307.2 334.7 307.3 336.3 307.4 337.1 307.5 338.3 307.6 340.1 307.6 340.6 307.7 342.0 307.8 343.7 307.9 344.6 308.0 345.4 308.0 346.9 308.1 347.8 308.2 349.4 308.3 350.9 308.4 351.7 308.4 353.7 308.5 354.9 308.6 356.0 308.7 356.9 308.8 358.3 308.9 359.7 308.9 361.1 309.0 362.5 309.1 362.9 309.2 364.5 309.3 365.7 309.3 367.2 309.4 368.7 309.5 370.4 309.6 371.0 309.7 372.5 309.7 373.5 309.8 374.7 309.9 376.4 310.0 377.0 310.1 378.8 310.2 380.4 310.2 381.9 310.3 382.2 310.4 383.3 310.5 384.4 310.6 385.9 310.6 387.2 310.7 388.5 310.8 390.0 310.9 390.9 311.0 392.3 311.1 393.1 311.1 394.5 311.2 395.9 311.3 396.5 311.4 398.4 311.5 399.8 311.6 400.9 311.7 402.2 311.7 403.4 311.8 404.4 311.9 405.9 312.0 407.0 312.1 408.4 312.2 409.6 312.2 410.8 312.3 411.7 312.4 413.2 312.5 414.9 312.6 416.0 312.7 417.1 312.8 418.2 312.8 419.9 312.9 420.9 313.0 421.7 313.1 423.3 313.2 425.1 313.3 425.5 313.4 427.2 313.5 428.2 313.5 429.6 313.6 430.7 313.7 431.8 313.8 432.6 313.9 434.4 314.0 435.6 314.1 436.8 314.2 437.7 314.3 439.1 314.3 441.2 314.4 441.8 314.5 443.4 314.6 444.4 314.7 445.9 314.8 447.2 314.9 448.6 315.0 449.5 315.1 450.7 315.2 451.9 315.2 453.1 315.3 454.3 315.4 455.6 315.5 457.3 315.6 458.2 315.7 459.6 315.8 460.6 315.9 461.9 316.0 463.6 316.1 464.3 316.2 465.9 316.2 467.6 316.3 468.5 316.4 469.6 316.5 470.6 316.6 471.4 316.7 473.0 316.8 474.3 316.9 476.1 317.0 477.3 317.1 478.1 317.2 479.8 317.3 480.7 317.4 482.5 317.5 483.7 317.6 484.7 317.6 485.7 317.7 487.5 317.8 488.5 317.9 489.8 318.0 490.9 318.1 492.0 318.2 493.5 318.3 494.3 318.4 496.0 318.5 497.2 318.6 498.0 318.7 499.7 318.8 500.7 318.9 501.8 319.0 503.1 319.1 504.5 319.2 505.4 319.3 506.8 319.4 508.5 319.5 509.7 319.6 510.4 319.7 512.1 319.8 512.9 319.9 514.7 320.0 515.8 320.1 517.0 320.2 517.7 320.3 519.2 320.4 520.9 320.5 521.6 320.6 523.3 320.7 524.4 320.8 525.7 320.8 526.7 320.9 528.3 321.0 529.5 321.1 530.8 321.2 532.5 321.3 533.1 321.4 534.5 321.5 535.5 321.7 537.4 321.8 538.2 321.9 539.7 322.0 540.4 322.1 541.8 322.2 543.2 322.3 544.5 322.4 545.6 322.5 547.2 322.6 548.3 322.7 549.8 322.8 550.7 322.9 552.2 323.0 553.2 323.1 554.8 323.2 555.7 323.3 557.0 323.4 558.1 323.5 559.7 323.6 560.8 323.7 562.0 323.8 563.7 323.9 564.4 324.0 566.0 324.1 567.3 324.2 567.7 324.3 569.6 324.4 570.8 324.5 572.0 324.6 573.3 324.7 574.2 324.8 575.9 324.9 577.2 325.1 578.1 325.2 579.6 325.3 580.5 325.4 581.9 325.5 582.9 325.6 584.3 325.7 585.2 325.8 586.7 325.9 587.9 326.0 589.2 326.1 590.8 326.2 592.3 326.3 592.7 326.4 594.5 326.5 595.5 326.7 596.8 326.8 598.0 326.9 599.3 327.0 600.5 327.1 601.9 327.2 603.2 327.3 604.3 327.4 605.5 327.5 606.8 327.6 608.1 327.7 609.6 327.9 610.1 328.0 611.2 328.1 612.7 328.2 614.1 328.3 615.2 328.4 616.6 328.5 617.2 328.6 618.9 328.7 620.1 328.9 621.2 329.0 622.7 329.1 624.0 329.2 625.4 329.3 626.3 329.4 627.4 329.5 629.1 329.6 630.8 329.8 631.6 329.9 632.9 330.0 633.9 330.1 635.5 330.2 637.1 330.3 637.5 330.4 639.5 330.6 639.9 330.7 642.0 330.8 643.0 330.9 644.0 331.0 645.3 331.1 646.9 331.3 647.4 331.4 649.3 331.5 650.4 331.6 651.6 331.7 653.2 331.9 653.7 332.0 655.4 332.1 656.3 332.2 657.9 332.3 659.2 332.5 659.9 332.6 661.5 332.7 662.7 332.8 663.8 332.9 665.2 333.1 666.8 333.2 667.9 333.3 669.4 333.4 670.0 333.6 671.1 333.7 672.9 333.8 673.6 333.9 675.5 334.1 676.4 334.2 677.8 334.3 678.8 334.4 680.4 334.6 681.7 334.7 682.9 334.8 684.1 334.9 684.9 335.1 686.8 335.2 687.9 335.3 689.4 335.4 689.9 335.6 691.5 335.7 692.5 335.8 693.9 336.0 695.3 336.1 696.6 336.2 698.0 336.4 699.0 336.5 700.3 336.6 701.5 336.8 702.4 336.9 704.2 337.0 705.1 337.2 706.4 337.3 707.9 337.4 708.9 337.6 710.2 337.7 711.0 337.8 712.6 338.0 713.7 338.1 715.0 338.3 716.4 338.4 717.4 338.5 718.8 338.7 720.1 338.8 721.7 339.0 723.0 339.1 724.1 339.2 725.1 339.4 726.6 339.5 727.5 339.7 728.8 339.8 730.2 339.9 731.3 340.1 732.4 340.2 733.6 340.4 735.1 340.5 736.5 340.7 737.8 340.8 738.7 341.0 740.1 341.1 741.2 341.3 742.3 341.4 744.3 341.6 744.8 341.7 746.0 341.9 747.5 342.0 749.1 342.2 749.8 342.3 751.5 342.5 752.1 342.6 753.6 342.8 754.9 342.9 756.1 343.1 757.5 343.2 758.7 343.4 760.0 343.5 761.1 343.7 762.7 343.9 763.8 344.0 765.0 344.2 766.5 344.3 767.5 344.5 768.6 344.7 770.1 344.8 770.9 345.0 771.9 345.1 773.5 345.3 774.7 345.5 776.3 345.6 777.6 345.8 778.7 346.0 779.9 346.1 781.1 346.3 782.2 346.5 783.4 346.6 784.6 346.8 785.8 347.0 787.2 347.1 788.4 347.3 789.4 347.5 790.8 347.7 792.3 347.8 793.4 348.0 794.3 348.2 795.8 348.3 797.1 348.5 798.0 348.7 800.0 348.9 801.2 349.0 802.2 349.2 803.7 349.4 804.8 349.6 806.1 349.8 807.0 349.9 808.3 350.1 809.5 350.3 810.7 350.5 811.9 350.7 812.8 350.9 814.2 351.0 815.8 351.2 816.8 351.4 818.6 351.6 819.7 351.8 820.6 352.0 821.9 352.2 822.6 352.4 824.4 352.5 825.6 352.7 826.4 352.9 827.7 353.1 829.1 353.3 830.7 353.5 832.0 353.7 832.7 353.9 834.1 354.1 835.5 354.3 836.6 354.5 837.7 354.7 839.2 354.9 840.1 355.1 841.2 355.3 843.0 355.5 844.3 355.7 845.7 355.9 846.6 356.1 847.7 356.3 849.2 356.5 850.4 356.7 851.7 356.9 852.8 357.1 854.3 357.3 855.2 357.6 856.7 357.8 857.5 358.0 858.7 358.2 860.5 358.4 861.3 358.6 862.6 358.8 863.8 359.1 864.9 359.3 866.7 359.5 868.2 359.7 869.1 359.9 870.3 360.1 871.2 360.4 872.3 360.6 873.9 360.8 874.7 361.0 875.8 361.3 877.2 361.5 878.9 361.7 880.0 361.9 881.1 362.2 882.1 362.4 883.3 362.6 884.8 362.9 885.9 363.1 887.0 363.3 888.7 363.6 889.4 363.8 890.4 364.0 892.1 364.3 893.7 364.5 894.9 364.7 896.2 365.0 897.0 365.2 898.5 365.5 899.7 365.7 900.8 366.0 901.8 366.2 903.5 366.4 904.4 366.7 905.5 366.9 907.0 367.2 908.7 367.4 908.9 367.7 910.6 367.9 912.2 368.2 913.4 368.4 913.9 368.7 915.3 369.0 916.1 369.2 917.8 369.5 918.7 369.7 920.0 370.0 921.8 370.2 922.4 370.5 923.5 370.8 925.1 371.0 926.4 371.3 927.6 371.6 929.0 371.8 929.8 372.1 931.3 372.4 932.8 372.6 933.8 372.9 935.5 373.2 936.6 373.5 937.5 373.7 938.7 374.0 939.9 374.3 941.2 374.6 941.9 374.9 943.3 375.2 944.7 375.5 945.9 375.8 947.2 376.1 948.5 376.4 949.9 376.7 950.9 377.0 952.2 377.3 953.3 377.7 954.4 378.0 955.6 378.3 956.8 378.7 958.4 379.0 959.3 379.3 960.6 379.7 961.8 380.0 962.8 380.4 963.5 380.8 965.0 381.1 966.8 381.5 967.2 381.9 969.1 382.3 969.8 382.7 971.3 383.1 972.8 383.5 973.5 383.9 975.1 384.3 975.4 384.8 977.1 385.2 978.1 385.6 979.5 386.1 980.7 386.5 981.9 387.0 983.1 387.4 983.8 387.9 984.9 388.3 986.4 388.8 987.3 389.3 988.2 389.7 989.4 390.2 991.0 390.7 992.2 391.1 993.5 391.6 994.6 392.0 995.3 392.5 996.9 392.9 997.8 393.4 999.4 393.8 1000.5 394.3 1002.1 394.7 1003.0 395.2 1003.9 395.6 1005.1 396.0 1006.4 396.5 1007.6 396.9 1008.8 397.3 1009.6 397.7 1010.7 398.2 1012.3 398.6 1013.4 399.0 1014.8 399.5 1015.8 399.9 1017.4 400.4 1018.3 400.8 1019.0 401.3 1020.4 401.7 1021.8 402.2 1022.5 402.7 1023.9 403.2 1025.2 403.7 1026.4 404.2 1027.5 404.7 1028.0 405.2 1029.8 405.8 1030.5 406.3 1031.9 406.9 1032.8 407.4 1034.4 408.0 1035.2 408.6 1036.4 409.3 1037.5 409.9 1038.4 410.5 1039.3 411.2 1040.9 411.9 1041.8 412.6 1042.9 413.3 1043.3 414.1 1044.3 414.8 1046.2 415.6 1046.9 416.4 1047.3 417.3 1048.7 418.1 1049.6 419.0 1050.2 419.9 1051.3 420.8 1052.7 421.7 1053.0 422.6 1054.1 423.6 1054.5 424.5 1055.1 425.5 1056.8 426.5 1057.1 427.5 1057.5 428.5 1058.3 429.6 1059.0 430.6 1059.5 431.7 1060.5 432.8 1061.2 433.8 1061.6 434.9 1062.3 436.0 1062.6 437.1 1063.7 438.2 1063.7 439.4 1064.7 440.5 1065.6 441.6 1065.6 442.8 1066.9 443.9 1066.4 445.1 1067.1 446.2 1067.6 447.4 1068.3 448.6 1068.9 449.7 1069.0 450.9 1069.0 452.1 1070.1 453.3 1070.3 454.5 1070.7 455.7 1070.4 456.9 1071.3 458.1 1071.5 459.3 1072.1 460.5 1072.6 461.7 1072.3 463.0 1072.8 464.2 1073.2 465.4 1073.4 466.6 1074.1 467.9 1074.2 469.1 1074.0 470.3 1074.1 471.6 1074.5 472.8 1074.1 474.1 1074.8 475.3 1075.2 476.5 1075.4 477.8 1075.0 479.0 1075.9 480.3 1076.1 481.5 1075.3 482.8 1076.2 484.0 1076.2 485.3 1076.1 486.5 1075.8 487.8 1076.3 489.0 1075.8 490.3 1076.2 491.5 1076.4 492.8 1076.5 494.0 1076.4 495.3 1076.6 496.5 1076.6 497.8 1076.7 499.0 1076.3 500.3 1076.1 501.5 1076.2 502.8 1076.1 504.0 1076.7 505.3 1077.2 506.5 1076.7 507.8 1076.8 509.0 1076.2 510.3 1076.3 511.5 1076.0 512.8 1076.3 514.0 1076.1 515.3 1075.7 516.5 1076.2 517.8 1075.8 519.0 1075.9 520.3 1075.9 521.5 1076.0 522.8 1075.9 524.0 1075.5 525.3 1075.4 526.5 1075.2 527.8 1075.0 529.0 1075.7 530.3 1075.0 531.5 1075.4 532.8 1074.8 534.0 1074.9 535.3 1075.3 536.5 1075.0 537.8 1074.8 539.0 1075.4 540.3 1074.5 541.5 1074.5 542.8 1074.9 544.0 1075.0 545.3 1074.6 546.5 1074.3 547.8 1075.0 549.0 1074.3 550.3 1074.1 551.5 1074.2 552.8 1074.5 554.0 1073.4 555.3 1073.9 556.5 1074.5 557.8 1074.4 559.0 1074.2 560.3 1074.1 561.6 1074.3 562.8 1074.5 564.1 1074.2 565.3 1074.4 566.6 1074.8 567.8 1074.5 569.1 1074.2 570.3 1074.4 571.6 1074.1 572.8 1074.6 574.1 1074.7 575.3 1074.4 576.6 1074.6 577.8 1074.8 579.1 1075.1 580.3 1075.1 581.6 1075.0 582.8 1075.1 584.1 1075.4 585.3 1075.3 586.6 1075.3 587.8 1075.0 589.1 1075.4 590.3 1075.6 591.5 1075.6 592.8 1075.4 594.0 1075.3 595.3 1076.1 596.5 1076.2 597.8 1076.2 599.0 1076.1 600.3 1076.4 601.5 1076.7 602.8 1077.0 604.0 1076.9 605.2 1076.7 606.5 1076.9 607.7 1076.9 609.0 1077.9 610.2 1077.4 611.5 1078.1 612.7 1078.0 613.9 1078.6 615.2 1078.0 616.4 1078.7 617.7 1078.4 618.9 1078.5 620.1 1078.7 621.4 1078.7 622.6 1079.0 623.9 1079.3 625.1 1079.9 626.3 1079.5 627.6 1079.4 628.8 1080.2 630.0 1080.6 631.3 1079.7 632.5 1080.8 633.7 1080.5 635.0 1080.6 636.2 1081.6 637.5 1082.0 638.7 1082.3 639.9 1081.9 641.2 1082.0 642.4 1082.5 643.6 1082.9 644.8 1083.3 646.1 1083.7 647.3 1083.7 648.5 1083.9 649.8 1084.0 651.0 1083.9 652.2 1084.5 653.5 1085.0 654.7 1085.0 655.9 1084.4 657.2 1085.7 658.4 1085.2 659.6 1086.3 660.8 1086.4 662.1 1086.3 663.3 1087.0 664.5 1086.5 665.8 1087.0 667.0 1087.0 668.2 1087.6 669.4 1087.7 670.7 1087.9 671.9 1088.1 673.1 1088.7 674.3 1088.5 675.6 1088.6 676.8 1089.1 678.0 1089.4 679.2 1089.7 680.5 1089.5 681.7 1090.1 682.9 1090.5 684.1 1090.7 685.4 1090.9 686.6 1091.4 687.8 1090.9 689.0 1091.7 690.2 1091.6 691.5 1092.1 692.7 1092.4 693.9 1093.3 695.1 1093.6 696.3 1094.0 697.6 1093.8 698.8 1094.0 700.0 1094.7 701.2 1094.5 702.4 1095.0 703.7 1095.1 704.9 1095.6 706.1 1096.1 707.3 1095.8 708.5 1096.4 709.7 1096.6 711.0 1097.0 712.2 1097.5 713.4 1097.6 714.6 1098.1 715.8 1098.2 717.0 1098.0 718.2 1099.1 719.4 1099.1 720.6 1099.4 721.9 1099.4 723.1 1099.4 724.3 1100.4 725.5 1100.3 726.7 1101.4 727.9 1101.7 729.1 1101.3 730.3 1102.3 731.5 1102.6 732.7 1102.8 733.9 1102.9 735.1 1103.8 736.3 1104.2 737.5 1104.5 738.7 1104.3 739.9 1105.0 741.1 1105.4 742.3 1105.9 743.5 1106.2 744.7 1106.9 745.9 1107.0 747.1 1107.0 748.3 1107.5 749.5 1108.0 750.7 1108.2 751.9 1108.5 753.1 1109.0 754.3 1108.8 755.5 1109.6 756.7 1109.4 757.9 1110.0 759.1 1110.7 760.3 1110.5 761.5 1111.4 762.7 1111.6 763.9 1112.2 765.1 1111.7 766.3 1111.3 767.5 1112.6 768.7 1114.0 769.9 1113.8 771.2 1114.1 772.4 1114.6 773.6 1115.0 774.8 1115.0 776.0 1116.1 777.2 1115.6 778.4 1115.5 779.6 1115.7 780.8 1116.4 782.0 1116.7 783.2 1117.5 784.4 1118.0 785.6 1118.5 786.8 1118.3 788.0 1119.1 789.2 1119.1 790.4 1119.7 791.6 1119.6 792.8 1120.6 794.1 1120.9 795.3 1120.8 796.5 1120.6 797.7 1121.6 798.9 1121.8 800.1 1121.6 801.3 1122.6 802.5 1123.0 803.8 1123.2 805.0 1122.8 806.2 1123.9 807.4 1124.3 808.6 1124.1 809.9 1124.9 811.1 1125.0 812.3 1125.2 813.5 1124.4 814.7 1125.0 816.0 1125.5 817.2 1125.1 818.4 1126.0 819.7 1126.9 820.9 1126.0 822.1 1127.3 823.3 1127.3 824.6 1126.8 825.8 1127.0 827.1 1127.3 828.3 1128.0 829.5 1127.3 830.8 1128.7 832.0 1128.0 833.2 1128.5 834.5 1128.6 835.7 1129.2 837.0 1128.6 838.2 1128.7 839.4 1129.6 840.7 1129.9 841.9 1129.4 843.2 1129.4 844.4 1129.9 845.7 1130.0 846.9 1130.1 848.2 1129.8 849.4 1129.4 850.7 1130.5 851.9 1130.3 853.2 1130.7 854.4 1130.6 855.7 1130.8 856.9 1129.9 858.2 1130.4 859.4 1129.6 860.7 1130.3 861.9 1130.4 863.2 1129.9 864.4 1130.2 865.7 1131.4 866.9 1129.8 868.2 1130.7 869.4 1130.0 870.7 1130.5 871.9 1128.8 873.2 1129.3 874.4 1129.7 875.7 1130.4 876.9 1129.3 878.2 1128.6 879.4 1128.7 880.6 1129.1 881.9 1127.8 883.1 1128.4 884.4 1128.1 885.6 1127.8 886.8 1128.1 888.1 1127.4 889.3 1128.0 890.5 1127.8 891.7 1128.1 892.9 1127.2 894.2 1126.7 895.4 1125.8 896.6 1125.7 897.8 1124.8 899.0 1125.8 900.2 1123.4 901.3 1124.5 902.5 1124.2 903.7 1124.0 904.9 1123.1 906.1 1124.2 907.2 1122.5 908.4 1121.5 909.6 1121.6 910.7 1120.9 911.9 1121.4 913.0 1120.0 914.2 1118.9 915.3 1118.4 916.5 1118.3 917.6 1117.6 918.8 1117.3 919.9 1117.4 921.1 1115.5 922.2 1115.4 923.3 1115.4 924.5 1114.0 925.6 1114.8 926.8 1114.9 927.9 1113.7 929.0 1113.6 930.2 1112.3 931.3 1112.0 932.4 1111.6 933.6 1110.9 934.7 1111.2 935.9 1109.7 937.0 1110.0 938.1 1108.6 939.3 1109.3 940.4 1108.6 941.6 1107.4 942.7 1105.9 943.9 1105.8 945.0 1104.2 946.2 1105.9 947.3 1104.6 948.5 1103.9 949.6 1103.9 950.8 1102.5 951.9 1102.6 953.1 1102.5 954.2 1102.4 955.4 1102.8 956.6 1100.5 957.7 1101.3 958.9 1100.0 960.0 1099.2 961.2 1099.4 962.4 1098.4 963.6 1096.7 964.7 1097.2 965.9 1098.4 967.1 1096.4 968.3 1096.2 969.5 1097.3 970.7 1096.1 971.8 1094.9 973.0 1095.4 974.2 1094.3 975.4 1093.8 976.6 1094.4 977.8 1093.2 979.0 1094.2 980.2 1094.6 981.4 1092.7 982.7 1092.5 983.9 1092.2 985.1 1092.2 986.3 1091.1 987.5 1091.3 988.8 1091.5 990.0 1089.7 991.2 1090.5 992.4 1091.0 993.7 1090.5 994.9 1088.9 996.1 1090.5 997.4 1088.5 998.6 1090.0 999.9 1087.9 1001.1 1089.7 1002.3 1089.0 1003.6 1088.9 1004.8 1088.7 1006.1 1088.2 1007.3 1089.2 1008.6 1088.8 1009.8 1089.1 1011.1 1087.5 1012.3 1088.6 1013.6 1088.7 1014.8 1087.1 1016.1 1089.0 1017.3 1089.3 1018.6 1087.0 1019.8 1087.4 1021.1 1090.5 1022.3 1088.8 1023.6 1088.4 1024.8 1087.6 1026.1 1088.8 1027.3 1087.7 1028.6 1088.3 1029.8 1087.9 1031.1 1088.0 1032.3 1088.0 1033.6 1087.1 1034.8 1087.9 1036.1 1088.2 1037.3 1087.6 1038.6 1087.4 1039.8 1088.4 1041.1 1089.8 1042.3 1088.3 1043.6 1088.2 1044.8 1089.2 1046.0 1088.7 1047.3 1089.5 1048.5 1089.5 1049.8 1089.0 1051.0 1089.9 1052.3 1088.7 1053.5 1089.1 1054.8 1088.6 1056.0 1089.9 1057.2 1091.3 1058.5 1092.3 1059.7 1094.0 1061.0 1090.8 1062.2 1090.4 1063.4 1093.0 1064.7 1090.1 1065.9 1092.9 1067.2 1092.8 1068.4 1094.2 1069.6 1092.2 1070.9 1092.5 1072.1 1090.4 1073.4 1091.7 1074.6 1092.8 1075.8 1092.7 1077.1 1093.0 1078.3 1095.1 1079.5 1092.4 1080.8 1092.2 1082.0 1092.4 1083.2 1093.4 1084.5 1093.5 1085.7 1094.6 1087.0 1094.5 1088.2 1097.5 1089.4 1095.1 1090.7 1096.0 1091.9 1097.1 1093.1 1099.2 1094.4 1096.7 1095.6 1096.4 1096.9 1098.3 1098.1 1096.9 1099.3 1095.7 1100.6 1095.8 1101.8 1097.1 1103.0 1096.0 1104.3 1098.7 1105.5 1097.8 1106.7 1099.2 1108.0 1097.6 1109.2 1097.2 1110.5 1098.5 1111.7 1098.7 1112.9 1096.8 1114.2 1099.6 1115.4 1097.7 1116.6 1098.2 1117.9 1097.2 1119.1 1100.0 1120.3 1102.4 1121.6 1100.6 1122.8 1100.1 1124.0 1101.6 1125.3 1101.8 1126.5 1102.6 1127.8 1100.1 1129.0 1103.3 1130.2 1102.6 1131.5 1102.1 1132.7 1100.9 1133.9 1102.5 1135.2 1103.3 1136.4 1102.4 1137.6 1103.0 1138.9 1103.4 1140.1 1104.6 1141.3 1103.4 1142.6 1106.9 1143.8 1106.0 1145.0 1104.0 1146.3 1104.0 1147.5 1102.4 1148.7 1103.5 1150.0 1105.6 1151.2 1104.7 1152.4 1104.2 1153.7 1104.9 1154.9 1105.9 1156.1 1103.6 1157.4 1105.7 1158.6 1106.3 1159.8 1106.8 1161.0 1107.2 1162.2 1107.2 1163.5 1107.4 1164.7 1109.6 1165.9 1107.9 1167.1 1111.0 1168.3 1108.2 1169.5 1109.8 1170.7 1110.8 1171.8 1108.3 1173.0 1111.3 1174.2 1112.1 1175.3 1109.4 1176.5 1111.1 1177.6 1113.1 1178.7 1113.8 1179.9 1114.8 1181.0 1112.3 1182.1 1114.9 1183.2 1117.5 1184.3 1114.9 1185.4 1115.4 1186.5 1116.9 1187.6 1117.0 1188.7 1115.2 1189.8 1116.7 1190.9 1118.9 1192.0 1120.3 1193.1 1123.7 1194.2 1122.8 1195.3 1122.0 1196.4 1121.8 1197.6 1122.9 1198.7 1126.1 1199.9 1123.1 1201.1 1123.2 1202.3 1123.6 1203.4 1125.6 1204.7 1124.2 1205.9 1123.3 1207.1 1124.9 1208.3 1125.3 1209.5 1128.1 1210.8 1129.4 1212.0 1127.1 1213.3 1123.7 1214.5 1125.6 1215.7 1124.0 1217.0 1126.7 1218.2 1128.5 1219.5 1126.2 1220.7 1128.6 1222.0 1130.7 1223.2 1126.0 1224.5 1128.7 1225.7 1128.0 1226.9 1130.2 1228.2 1129.9 1229.4 1127.4 1230.6 1128.5 1231.9 1127.6 1233.1 1130.6 1234.3 1128.3 1235.5 1129.8 1236.7 1131.7 1237.9 1130.0 1239.2 1129.2 1240.4 1129.3 1241.6 1129.7 1242.8 1131.2 1244.0 1131.5 1245.2 1133.0 1246.4 1132.7 1247.6 1135.0 1248.8 1135.1 1250.0 1136.6 1251.2 1134.3 1252.4 1133.6 1253.6 1137.3 1254.9 1136.1 1256.1 1132.6 1257.3 1135.2 1258.6 1137.1 1259.8 1138.7 1261.0 1140.8 1262.3 1139.2 1263.5 1138.0 1264.8 1137.0 1266.0 1136.5 1267.3 1136.8 1268.5 1136.3 1269.8 1137.9 1271.0 1139.5 1272.3 1138.3 1273.5 1135.8 1274.8 1137.7 1276.0 1137.9 1277.3 1136.3 1278.5 1136.5 1279.8 1137.1 1281.0 1138.1 1282.3 1134.7 1283.5 1136.4 1284.8 1135.8 1286.0 1138.0 1287.3 1138.4 1288.5 1136.7 1289.8 1138.8 1291.0 1137.3 1292.3 1137.4 1293.5 1137.1 1294.7 1135.2 1296.0 1139.4 1297.2 1137.2 1298.5 1134.4 1299.7 1137.6 1301.0 1138.0 1302.2 1134.1 1303.5 1135.4 1304.7 1136.8 1306.0 1134.5 1307.2 1134.2 1308.5 1134.5 1309.7 1135.4 1311.0 1133.7 1312.2 1134.5 1313.5 1135.5 1314.7 1135.0 1316.0 1137.0 1317.2 1132.1 1318.5 1137.7 1319.7 1133.7 1321.0 1133.2 1322.2 1133.9 1323.5 1135.3 1324.7 1133.1 1326.0 1135.3 1327.2 1135.3 1328.5 1134.0 1329.7 1134.0 1331.0 1134.4 1332.2 1135.0 1333.5 1132.4 1334.7 1136.6 1336.0 1134.5 1337.2 1135.3 1338.5 1134.4 1339.7 1134.9 1341.0 1138.7 1342.2 1133.2 1343.5 1136.4 1344.7 1134.6 1346.0 1133.0 1349.5 1126.0 1350.7 1126.9 1352.0 1124.7 1353.2 1126.2 1354.5 1126.2 1355.7 1126.8 1357.0 1123.3 1358.2 1123.6 1359.5 1125.6 1360.7 1125.5 1362.0 1126.5 1363.2 1123.6 1364.5 1124.0 1365.7 1122.7 1367.0 1123.5 1368.2 1126.2 1369.5 1123.8 1370.7 1124.5 1372.0 1123.4 1373.2 1122.8 1374.5 1123.2 1375.7 1123.2 1377.0 1121.6 1378.2 1122.0 1379.5 1123.0 1380.7 1124.1 1382.0 1122.8 1383.2 1120.1 1384.5 1127.2 1385.7 1123.2 1387.0 1122.2 1388.2 1123.0 1389.5 1122.8 1390.7 1122.5 1392.0 1123.1 1393.2 1122.5 1394.4 1121.6 1395.7 1123.3 1396.9 1119.7 1398.2 1124.9 1399.4 1121.7 1400.7 1119.4 1401.9 1117.5 1403.2 1121.1 1404.4 1121.7 1405.7 1119.5 1406.9 1119.4 1408.2 1118.8 1409.4 1120.3 1410.7 1119.5 1411.9 1116.2 1413.2 1119.3 1414.4 1118.6 1415.7 1119.8 1416.9 1118.0 1418.2 1121.4 1419.4 1122.7 1420.7 1116.2 1421.9 1121.3 1423.2 1119.2 1424.4 1118.9 1425.7 1118.5 1426.9 1118.2 1428.2 1119.2 1429.4 1118.0 1430.7 1114.3 1431.9 1119.8 1433.2 1118.8 1434.4 1119.7 1435.7 1115.4 1436.9 1119.7 1438.1 1117.7 1439.4 1120.5 1440.6 1119.5 1441.9 1121.5 1443.1 1120.9 1444.4 1120.7 1445.6 1114.8 1446.9 1120.9 1448.1 1119.7 1449.4 1118.3 1450.6 1120.6 1451.9 1118.8 1453.1 1119.0 1454.4 1119.3 1455.6 1117.9 1456.8 1119.8 1458.1 1117.1 1459.3 1121.0 1460.6 1118.6 1461.8 1118.7 1463.1 1115.4 1464.3 1115.2 1465.6 1116.9 1466.8 1118.8 1468.1 1109.0 1469.3 1108.4 1470.5 1109.3 1471.8 1116.1 1473.0 1113.5 1474.3 1115.2 1475.5 1112.4 1476.8 1111.2 1478.0 1112.4 1479.2 1114.0 1480.5 1112.2 1481.7 1115.4 1483.0 1116.0 1484.2 1116.0 1485.5 1117.3 1486.7 1113.7 1488.0 1114.7 1489.2 1116.8 1490.4 1115.5 1491.7 1115.3 1492.9 1115.1 1494.2 1116.7 1495.4 1114.4 1496.7 1115.1 1497.9 1112.3 1499.1 1113.9 1500.4 1112.9 1501.6 1111.3 1502.9 1112.1 1504.1 1111.3 1505.4 1109.9 1506.6 1109.3 1507.9 1113.1 1509.1 1107.7 1510.4 1109.4 1511.6 1105.6 1512.9 1109.0 1514.1 1110.9 1515.4 1112.4 1516.6 1108.0 1517.9 1110.6 1519.1 1109.7 1520.4 1111.6 1521.6 1106.6 1522.9 1108.6 1524.1 1108.9 1525.4 1111.4 1526.6 1113.9 1527.9 1111.2 1529.2 1111.3 1530.4 1106.9 1531.7 1113.2 1532.9 1112.5 1534.2 1114.4 1535.4 1110.7 1536.7 1112.7 1537.9 1116.6 1539.2 1112.6 1540.4 1112.7 1541.7 1113.5 1542.9 1115.0 1544.2 1111.4 1545.4 1112.5 1546.7 1109.0 1547.9 1107.8 1549.2 1109.4 1550.4 1109.3 1551.7 1107.6 1552.9 1108.3 1554.2 1108.7 1555.4 1110.7 1556.7 1110.4 1557.9 1111.1 1559.2 1110.1 1560.4 1109.6 1561.7 1109.9 1562.9 1114.1 1564.2 1112.9 1565.5 1114.3 1566.7 1111.6 1568.0 1110.8 1569.2 1111.9 1570.5 1117.5 1571.7 1112.0 1573.0 1111.0 1574.2 1111.6 1575.5 1109.5 1576.7 1115.3 1578.0 1109.3 1579.2 1110.6 1580.5 1110.4 1581.7 1107.6 1583.0 1108.6 1584.2 1108.3 1585.5 1110.9 1586.7 1109.7 1588.0 1112.5 1589.2 1113.2 1590.5 1107.4 1591.7 1112.8 1593.0 1112.1 1594.2 1110.3 1595.5 1113.2 1596.7 1111.3 1598.0 1108.6 1599.2 1107.6 1600.5 1110.6 1601.8 1112.1 1603.0 1109.4 1604.3 1115.4 1605.5 1107.8 1606.8 1112.7 1608.0 1111.0 1609.3 1114.7 1610.5 1113.3 1611.8 1112.6 1613.0 1110.7 1614.3 1109.9 1615.5 1113.6 1616.8 1109.4 1618.0 1110.2 1619.3 1109.2 1620.5 1111.5 1621.8 1108.0 1623.0 1117.6 1624.3 1116.0 1625.5 1110.8 1626.8 1111.1 1628.0 1113.5 1629.3 1114.5 1630.5 1114.3 1631.8 1110.4 1633.0 1113.5 1634.3 1112.5 1635.5 1111.4 1636.8 1115.2 1638.0 1113.6 1639.3 1114.2 1640.5 1113.6 1641.8 1112.9 1643.0 1117.6 1644.3 1112.8 1645.5 1109.8 1646.8 1113.2 1648.0 1110.8 1649.3 1115.4 1650.5 1115.7 1651.8 1111.2 1653.0 1113.0 1654.3 1112.0 1655.5 1116.2 1656.8 1117.5 1658.0 1115.6 1659.3 1114.3 1660.5 1112.3 1661.7 1109.3 1663.0 1111.7 1664.2 1113.3 1665.5 1113.8 1666.7 1116.2 1668.0 1116.1 1669.2 1115.5 1670.5 1117.7 1671.7 1112.0 1673.0 1117.0 1674.2 1113.5 1675.4 1116.8 1676.7 1118.8 1677.9 1120.1 1679.2 1116.8 1680.4 1116.9 1681.7 1120.4 1682.9 1120.0 1684.2 1119.3 1685.4 1117.1 1686.7 1115.3 1687.9 1114.9 1689.1 1123.4 1690.4 1116.3 1691.6 1117.8 1692.9 1120.5 1694.1 1115.5 1695.4 1116.8 1696.6 1121.0 1697.9 1120.0 1699.1 1115.6 1700.3 1117.1 1701.6 1118.1 1702.8 1117.9 1704.1 1119.6 1705.3 1116.6 1706.6 1114.7 1707.8 1116.4 1709.0 1120.6 1710.3 1115.3 1711.5 1117.2 1712.8 1118.7 1714.0 1117.8 1715.3 1122.8 1716.5 1116.1 1717.8 1119.3 1719.0 1122.5 1720.2 1123.4 1721.5 1125.2 1722.7 1122.4 1724.0 1124.2 1725.2 1119.5 1726.5 1119.7 1727.7 1122.9 1729.0 1120.3 1730.2 1124.5 1731.5 1122.7 1732.7 1123.4 1733.9 1122.2 1735.2 1118.5 1736.4 1127.9 1737.7 1121.0 1738.9 1124.5 1740.2 1122.7 1741.4 1120.3 1742.7 1120.1 1743.9 1124.3 1745.2 1124.7 1746.4 1123.8 1747.7 1126.4 1748.9 1125.2 1750.1 1124.9 1751.4 1124.4 1752.6 1124.8 1753.9 1126.3 1755.1 1122.6 1756.4 1124.2 1757.6 1123.3 1758.9 1125.4 1760.1 1126.8 1761.4 1122.6 1762.6 1128.6 1763.9 1120.2 1765.1 1120.0 1766.4 1118.3 1767.6 1124.9 1768.9 1122.4 1770.1 1128.6 1771.4 1124.6 1772.6 1127.6 1773.9 1121.9 1775.1 1124.8 1776.4 1122.6 1777.6 1121.8 1778.9 1129.3 1780.1 1128.2 1781.4 1125.0 1782.6 1122.8 1783.9 1125.9 1785.1 1125.4 1786.4 1126.2 1787.6 1125.0 1788.9 1124.7 1790.1 1126.6 1791.4 1130.0 1792.6 1128.0 1793.9 1124.7 1795.1 1126.8 1796.4 1126.8 1797.6 1128.5 1798.9 1126.5 1800.1 1125.6 1801.4 1125.9 1802.6 1122.6 1803.9 1124.8 1805.1 1126.1 1806.4 1124.5 1807.6 1130.1 1808.9 1131.0 1810.1 1128.6 1811.4 1131.1 1812.6 1125.9 1813.9 1129.1 1815.1 1128.5 1816.4 1131.8 1817.6 1128.4 1818.9 1129.9 1820.2 1129.0 1821.4 1126.9 1822.7 1125.7 1823.9 1127.0 1825.2 1125.3 1826.4 1132.1 1827.7 1127.3 1828.9 1127.7 1830.2 1126.1 1831.4 1126.4 1832.7 1128.0 1833.9 1130.1 1835.2 1133.0 1836.4 1127.2 1837.7 1126.8 1838.9 1126.6 1840.2 1118.4 1841.4 1123.4 1842.7 1123.1 1843.9 1127.8 1845.2 1129.4 1846.4 1126.4 1847.7 1127.7 1848.9 1128.7 1850.2 1122.8 1851.5 1124.3 1852.7 1128.3 1854.0 1123.1 1855.2 1128.5 1856.5 1127.3 1857.7 1125.2 1859.0 1125.9 1860.2 1124.1 1861.5 1129.1 1862.7 1129.8 1864.0 1131.3 1865.2 1132.9 1866.5 1133.5 1867.7 1129.6 1869.0 1129.0 1870.2 1127.1 1871.5 1134.2 1872.7 1130.3 1874.0 1125.5 1875.2 1124.1 1876.5 1125.2 1877.7 1125.4 1879.0 1127.0 1880.2 1124.0 1881.5 1126.1 1882.8 1129.2 1884.0 1126.1 1885.3 1129.9 1886.5 1129.9 1887.8 1129.1 1889.0 1130.1 1890.3 1128.2 1891.5 1127.7 1892.8 1127.6 1894.0 1125.5 1895.3 1127.8 1896.5 1128.7 1897.8 1122.7 1899.0 1130.7 1900.3 1126.6 1901.5 1125.9 1902.8 1128.8 1904.0 1128.9 1905.3 1129.3 1906.5 1126.8 1907.8 1130.2 1909.0 1122.4 1910.3 1123.8 1911.5 1127.1 1912.8 1130.5 1914.0 1129.3 1915.3 1129.6 1916.5 1134.1 1917.8 1124.8 1919.1 1127.2 1920.3 1128.0 1921.6 1130.7 1922.8 1123.5 1924.1 1124.4 1925.3 1128.4 1926.6 1122.9 1927.8 1124.7 1929.1 1124.3 1930.3 1124.0 1931.6 1131.0 1932.8 1129.2 1934.1 1131.1 1935.3 1127.8 1936.6 1132.8 1937.8 1124.2 1939.1 1125.0 1940.3 1124.8 1941.6 1127.3 1942.8 1127.3 1944.1 1125.0 1945.3 1120.4 1946.6 1122.7 1947.8 1126.0 1949.1 1126.3 1950.3 1129.0 1951.6 1129.6 1952.8 1126.2 1954.1 1125.5 1955.4 1136.4 1956.6 1130.3 1957.9 1128.8 1959.1 1133.4 1960.4 1124.8 1961.6 1132.0 1962.9 1129.7 1964.1 1130.1 1965.4 1130.0 1966.6 1134.1 1967.9 1129.0 1969.1 1125.8 1970.4 1128.6 1971.6 1120.3 1972.9 1133.5 1974.1 1130.7 1975.4 1133.6 1976.6 1129.1 1977.9 1126.4 1979.1 1132.9 1980.4 1127.4 1981.6 1131.4 1982.9 1126.6 1984.1 1131.7 1985.4 1127.7 1986.6 1126.3 1987.9 1130.9 1989.1 1127.8 1990.4 1138.0 1991.7 1136.2 1992.9 1131.0 1994.2 1129.0 1995.4 1126.7 1996.7 1126.5 1997.9 1134.5 1999.2 1133.0 2000.4 1133.9 2001.7 1123.5 2002.9 1129.1 2004.2 1122.1 2005.4 1127.3 2006.7 1132.5 2007.9 1125.0 2009.2 1135.1 2010.4 1131.8 2011.7 1128.1 2012.9 1132.4 2014.2 1128.9 2015.4 1131.5 2016.7 1136.7 2017.9 1139.2 2019.2 1131.0 2020.4 1133.2 2021.7 1133.5 2022.9 1132.7 2024.2 1140.1 2025.5 1135.1 2026.7 1133.6 2028.0 1126.6 2029.2 1129.9 2030.5 1131.5 2031.7 1127.5 2033.0 1133.2 2034.2 1130.4 2035.5 1136.0 2036.7 1127.0 2038.0 1131.5 2039.2 1133.2 2040.5 1128.2 2041.7 1128.3 2043.0 1126.8 2044.2 1134.3 2045.5 1127.2 2046.7 1132.2 2048.0 1137.1 2049.2 1132.2 2050.5 1136.5 2051.7 1134.3 2053.0 1134.7 2054.2 1132.0 2055.5 1131.6 2056.7 1135.7 2058.0 1132.2 2059.3 1126.7 2060.5 1131.2 2061.8 1131.3 2063.0 1131.6 2064.3 1130.4 2065.5 1129.5 2066.8 1131.0 2068.0 1131.6 2069.3 1133.9 2070.5 1130.2 2071.8 1131.5 2073.0 1132.1 2074.3 1133.5 2075.5 1129.6 2076.8 1133.2 2078.0 1130.4 2079.3 1130.5 2080.5 1132.5 2081.8 1132.0 2083.0 1131.3 2084.3 1133.3 2085.5 1134.0 2086.8 1129.4 2088.0 1131.0 2089.3 1128.4 2090.6 1127.5 2091.8 1126.7 2093.1 1129.2 2094.3 1136.7 2095.6 1135.6 2096.8 1136.6 2098.1 1132.6 2099.3 1138.1 2100.6 1130.3 2101.8 1130.8 2103.1 1128.5 2104.3 1136.5 2105.6 1130.0 2106.8 1128.5 2108.1 1132.1 2109.3 1127.9 2110.6 1133.5 2111.8 1131.9 2113.1 1135.3 2114.3 1132.7 2115.6 1129.3 2116.8 1127.4 2118.1 1130.3 2119.3 1133.3 2120.6 1135.8 2121.9 1135.4 2123.1 1130.3 2124.4 1132.7 2125.6 1134.7 2126.9 1133.6 2128.1 1128.1 2129.4 1129.6 2130.6 1130.7 2131.9 1129.2 2133.1 1128.9 2134.4 1130.5 2135.6 1136.3 2136.9 1134.2 2138.1 1136.5 2139.4 1136.5 2140.6 1136.8 2141.9 1127.5 2143.1 1131.6 2144.4 1126.3 2145.6 1127.0 2146.9 1131.0 2148.1 1135.3 2149.4 1133.8 2150.6 1133.2 2151.9 1128.1 2153.2 1133.2 2154.4 1137.8 2155.7 1134.2 2156.9 1135.4 2158.2 1132.6 2159.4 1137.9 2160.7 1133.0 2161.9 1133.5 2163.2 1131.9 2164.4 1131.8 2165.7 1128.9 2166.9 1132.1 2168.2 1136.1 2169.4 1134.0 2170.7 1140.6 2171.9 1130.1 2173.2 1136.2 2174.4 1130.8 2175.7 1137.0 2176.9 1129.6 2178.2 1128.4 2179.4 1139.2 2180.7 1125.7 2181.9 1134.2 2183.2 1134.8 2184.4 1134.4 2185.7 1133.7 2187.0 1129.6 2188.2 1129.6 2189.5 1133.4 2190.7 1135.3 2192.0 1130.5 2193.2 1134.1 2194.5 1143.1 2195.7 1139.0 2197.0 1140.6 2198.2 1138.2 2199.5 1130.3 2200.7 1136.4 2202.0 1136.1 2203.2 1139.0 2204.5 1143.5 2205.7 1131.9 2207.0 1135.0 2208.2 1137.8 2209.5 1131.6 2210.7 1131.2 2212.0 1139.0 2213.2 1135.5 2214.5 1135.7 2215.7 1135.3 2217.0 1135.4 2218.2 1129.4 2219.5 1130.5 2220.7 1128.9 2222.0 1137.1 2223.3 1129.5 2224.5 1131.6 2225.8 1135.9 2227.0 1135.8 2228.3 1132.2 2229.5 1134.6 2230.8 1135.8 2232.0 1128.0 2233.3 1136.6 2234.5 1138.3 2235.8 1142.1 2237.0 1137.9 2238.3 1134.2 2239.5 1138.2 2240.8 1135.0 2242.0 1137.6 2243.3 1131.9 2244.5 1138.2 2245.8 1124.3 2247.0 1133.3 2248.3 1136.3 2249.5 1135.9 2250.8 1139.1 2252.0 1136.8 2253.3 1127.2 2254.5 1133.3 2255.8 1144.8 2257.0 1133.1 2258.3 1136.2 2259.5 1137.0 2260.8 1137.3 2262.0 1136.9 2263.3 1143.0 2264.5 1139.7 2265.8 1144.8 2267.0 1138.6 2268.3 1133.0 2269.6 1132.7 2270.8 1133.2 2272.1 1130.8 2273.3 1135.0 2274.6 1136.4 2275.8 1138.5 2277.1 1129.3 2278.3 1135.6 2279.6 1136.1 2280.8 1135.9 2282.1 1126.2 2283.3 1133.0 2284.5 1129.8 2285.8 1148.9 2287.0 1138.2 2288.2 1133.0 2289.4 1132.0 2290.6 1133.6 2291.8 1139.3 2292.9 1141.8 2294.0 1139.1 2295.0 1138.6 2296.0 1135.5 2296.9 1149.6 2297.7 1149.7 2298.4 1149.6 2299.0 1139.8 2299.5 1143.1 2300.0 1144.3 2300.4 1147.5 2300.7 1151.5 2301.0 1161.3 2301.2 1157.8 2301.4 1158.6 2301.5 1152.8 2301.7 1153.6 2301.8 1157.3 2301.9 1164.7 2301.9 1153.6 2302.0 1159.3 2302.1 1175.5 2302.1 1172.8 2302.1 1171.6 2302.2 1172.1 2302.2 1165.0 2302.2 1166.4 2302.3 1173.2 2302.3 1171.2 2302.4 1170.6 2302.5 1171.7 2302.6 1181.1 2302.7 1175.1 2302.9 1179.4 2303.2 1175.2 2303.8 1174.4 2304.8 1175.9 2306.0 1170.9" stroke="#40D0FF"/>
<path d="M276.5 924.9L276.8 925.4 277.0 926.2 277.3 927.3 277.5 929.4 277.7 930.2 277.9 931.6 278.2 932.9 278.4 934.3 278.6 935.9 278.8 936.6 279.0 938.3 279.2 939.4 279.4 940.4 279.5 941.4 279.7 942.8 279.9 943.8 280.1 945.5 280.2 946.9 280.4 947.9 280.6 948.9 280.7 950.0 280.9 951.4 281.0 953.2 281.2 954.4 281.3 955.7 281.5 956.3 281.6 957.7 281.8 959.1 281.9 960.2 282.1 961.2 282.2 962.6 282.4 963.7 282.5 965.0 282.6 967.0 282.8 967.6 282.9 969.5 283.1 970.7 283.2 971.7 283.4 972.6 283.5 974.5 283.7 975.5 283.8 976.8 284.0 977.8 284.1 978.7 284.3 980.4 284.4 981.6 284.6 982.3 284.7 983.8 284.9 985.1 285.1 986.0 285.2 987.5 285.4 988.7 285.6 990.1 285.8 991.3 286.0 992.5 286.2 993.7 286.3 994.8 286.5 996.5 286.7 997.4 287.0 998.3 287.2 999.8 287.4 1001.4 287.6 1002.8 287.8 1003.6 288.0 1005.1 288.3 1006.3 288.5 1007.5 288.7 1008.3 289.0 1010.0 289.2 1010.8 289.5 1011.8 289.7 1013.8 290.0 1014.7 290.2 1016.0 290.5 1017.8 290.8 1018.1 291.0 1019.5 291.3 1020.4 291.6 1022.0 291.9 1023.7 292.2 1024.6 292.4 1025.9 292.7 1026.7 293.0 1027.8 293.3 1029.0 293.6 1030.9 293.9 1031.7 294.2 1033.0 294.5 1033.6 294.8 1035.5 295.2 1036.2 295.5 1037.8 295.8 1039.1 296.1 1040.2 296.4 1041.4 296.8 1042.2 297.1 1043.4 297.4 1045.0 297.8 1046.4 298.1 1047.3 298.4 1048.6 298.8 1049.9 299.1 1051.1 299.5 1052.5 299.8 1053.4 300.2 1054.7 300.5 1056.1 300.9 1056.8 301.2 1058.3 301.6 1059.5 302.0 1060.8 302.3 1061.9 302.7 1063.2 303.1 1064.5 303.4 1065.7 303.8 1066.2 304.2 1068.0 304.5 1069.0 304.9 1070.7 305.3 1071.4 305.7 1072.6 306.1 1073.9 306.4 1074.4 306.8 1076.5 307.2 1077.5 307.6 1078.5 308.0 1079.5 308.4 1081.1 308.8 1082.4 309.1 1083.6 309.5 1084.8 309.9 1086.1 310.3 1087.2 310.7 1087.5 311.1 1089.8 311.5 1090.9 311.9 1091.7 312.3 1093.0 312.7 1094.4 313.1 1095.1 313.5 1097.0 313.9 1097.5 314.3 1098.7 314.7 1099.6 315.1 1101.1 315.5 1102.7 315.9 1103.8 316.3 1104.6 316.7 1105.4 317.1 1107.1 317.5 1108.3 317.9 1109.7 318.3 1110.5 318.6 1112.4 319.0 1113.3 319.4 1114.3 319.8 1115.4 320.2 1116.7 320.6 1118.1 321.0 1118.7 321.4 1120.0 321.8 1121.2 322.2 1122.3 322.6 1123.7 323.0 1124.8 323.5 1126.3 323.9 1127.2 324.3 1128.3 324.7 1129.7 325.2 1130.3 325.6 1131.8 326.1 1133.3 326.6 1134.6 327.0 1135.1 327.5 1136.6 328.0 1137.9 328.5 1138.3 329.1 1140.1 329.6 1141.0 330.1 1142.2 330.7 1143.4 331.3 1144.2 331.8 1145.2 332.4 1146.7 333.0 1147.7 333.6 1149.5 334.2 1149.3 334.9 1150.4 335.5 1151.9 336.1 1152.9 336.8 1153.9 337.4 1155.2 338.1 1156.7 338.8 1157.4 339.4 1158.7 340.1 1159.5 340.8 1161.2 341.5 1161.5 342.2 1162.8 342.9 1163.6 343.5 1164.5 344.2 1165.4 344.9 1166.4 345.6 1167.6 346.4 1168.6 347.1 1169.6 347.8 1170.7 348.5 1172.1 349.2 1172.7 349.9 1174.3 350.6 1175.3 351.3 1176.1 352.0 1177.0 352.7 1178.3 353.4 1179.3 354.2 1180.5 354.9 1181.5 355.6 1182.2 356.3 1183.0 357.1 1184.2 357.8 1184.8 358.5 1186.2 359.3 1187.2 360.0 1188.4 360.8 1189.1 361.5 1190.4 362.3 1191.3 363.1 1192.0 363.9 1193.2 364.7 1194.1 365.5 1195.2 366.3 1196.1 367.1 1196.9 367.9 1197.8 368.7 1198.9 369.6 1199.4 370.4 1200.4 371.3 1201.5 372.2 1202.9 373.1 1203.5 374.0 1204.1 374.9 1205.2 375.8 1205.9 376.7 1205.9 377.7 1207.4 378.6 1208.4 379.6 1209.3 380.6 1210.0 381.6 1210.9 382.6 1211.1 383.6 1212.2 384.6 1213.1 385.7 1214.3 386.7 1214.4 387.8 1215.6 388.8 1216.3 389.9 1217.0 391.0 1217.2 392.1 1217.9 393.2 1218.1 394.4 1218.3 395.5 1218.7 396.7 1219.8 397.8 1219.8 399.0 1221.0 400.2 1221.2 401.3 1221.5 402.5 1221.7 403.7 1222.1 405.0 1222.8 406.2 1222.9 407.4 1222.9 408.6 1223.9 409.8 1223.7 411.1 1223.8 412.3 1224.2 413.6 1224.2 414.8 1224.6 416.1 1224.3 417.3 1224.2 418.6 1224.3 419.8 1224.4 421.1 1224.1 422.3 1223.9 423.6 1224.2 424.8 1224.4 426.1 1223.9 427.3 1223.9 428.6 1224.1 429.8 1224.1 431.0 1224.1 432.3 1223.5 433.5 1223.8 434.8 1222.9 436.0 1223.1 437.2 1222.9 438.5 1223.3 439.7 1222.8 440.9 1222.0 442.2 1222.2 443.4 1221.7 444.6 1221.5 445.8 1221.4 447.0 1220.8 448.3 1220.3 449.5 1220.3 450.7 1220.2 451.9 1219.7 453.1 1219.1 454.3 1218.9 455.5 1218.5 456.7 1218.2 457.9 1218.2 459.1 1218.1 460.3 1217.4 461.5 1216.9 462.7 1217.0 463.9 1216.3 465.1 1216.4 466.3 1215.7 467.5 1215.3 468.6 1213.9 469.8 1213.9 471.0 1213.7 472.2 1212.7 473.4 1212.7 474.6 1212.6 475.8 1212.1 476.9 1211.3 478.1 1211.4 479.3 1211.0 480.5 1210.6 481.6 1210.1 482.8 1209.7 484.0 1209.2 485.2 1208.7 486.3 1208.0 487.5 1208.2 488.7 1207.8 489.9 1207.2 491.0 1206.9 492.2 1206.4 493.4 1205.5 494.5 1205.3 495.7 1205.1 496.9 1205.0 498.1 1204.1 499.2 1203.7 500.4 1203.0 501.6 1202.4 502.7 1202.4 503.9 1200.9 505.1 1201.5 506.2 1200.6 507.4 1200.3 508.6 1200.0 509.8 1199.6 510.9 1199.3 512.1 1199.0 513.3 1198.5 514.4 1197.3 515.6 1197.3 516.8 1196.9 518.0 1196.5 519.1 1195.5 520.3 1195.9 521.5 1195.4 522.7 1194.7 523.8 1195.2 525.0 1193.7 526.2 1193.6 527.4 1193.2 528.6 1193.0 529.7 1192.3 530.9 1191.8 532.1 1192.0 533.3 1191.2 534.5 1191.2 535.7 1190.9 536.9 1190.0 538.1 1189.3 539.3 1188.9 540.4 1188.7 541.6 1188.6 542.8 1188.1 544.0 1187.5 545.2 1187.7 546.4 1187.9 547.6 1187.5 548.8 1186.5 550.0 1186.4 551.2 1186.2 552.5 1185.3 553.7 1185.5 554.9 1184.6 556.1 1184.3 557.3 1184.1 558.5 1183.5 559.7 1183.6 560.9 1183.3 562.2 1182.7 563.4 1182.5 564.6 1182.5 565.8 1182.2 567.1 1182.5 568.3 1182.1 569.5 1181.0 570.7 1181.2 572.0 1180.8 573.2 1180.4 574.4 1180.9 575.7 1180.4 576.9 1179.9 578.1 1180.6 579.4 1180.4 580.6 1179.7 581.9 1179.6 583.1 1179.0 584.4 1178.8 585.6 1178.3 586.8 1178.6 588.1 1178.7 589.3 1178.4 590.6 1179.0 591.8 1178.3 593.1 1178.6 594.3 1178.5 595.6 1177.9 596.8 1178.6 598.1 1178.2 599.3 1178.3 600.6 1178.0 601.8 1178.0 603.1 1178.4 604.3 1177.9 605.6 1178.1 606.8 1177.9 608.1 1178.3 609.3 1178.3 610.6 1178.3 611.8 1178.7 613.1 1178.1 614.3 1178.2 615.6 1178.0 616.8 1178.8 618.1 1178.1 619.3 1177.9 620.6 1178.2 621.8 1177.8 623.1 1178.9 624.3 1178.3 625.6 1178.4 626.8 1178.8 628.1 1178.2 629.3 1178.9 630.6 1178.6 631.8 1179.0 633.1 1178.0 634.3 1178.5 635.6 1178.8 636.8 1178.5 638.1 1179.3 639.3 1178.9 640.6 1178.8 641.8 1179.0 643.1 1179.3 644.3 1179.1 645.6 1179.2 646.8 1179.2 648.1 1179.6 649.3 1179.6 650.6 1179.6 651.8 1180.0 653.1 1179.6 654.3 1179.4 655.6 1179.7 656.8 1179.7 658.1 1179.7 659.3 1180.2 660.6 1180.1 661.8 1180.1 663.1 1180.6 664.3 1180.4 665.6 1180.3 666.8 1180.3 668.1 1180.8 669.3 1180.5 670.6 1181.1 671.8 1181.0 673.1 1180.6 674.3 1180.9 675.5 1181.1 676.8 1181.0 678.0 1181.2 679.3 1181.7 680.5 1180.8 681.8 1181.4 683.0 1181.5 684.3 1181.5 685.5 1181.3 686.8 1181.6 688.0 1181.8 689.3 1182.7 690.5 1182.0 691.8 1182.5 693.0 1182.7 694.3 1182.4 695.5 1183.1 696.8 1182.5 698.0 1182.4 699.2 1182.6 700.5 1182.9 701.7 1183.3 703.0 1182.8 704.2 1182.9 705.5 1183.7 706.7 1183.7 708.0 1183.4 709.2 1183.3 710.4 1183.3 711.7 1183.7 712.9 1184.4 714.2 1184.2 715.4 1185.0 716.6 1184.8 717.9 1184.6 719.1 1185.6 720.3 1185.6 721.6 1185.8 722.8 1186.3 724.0 1186.2 725.2 1187.5 726.5 1186.4 727.7 1186.7 728.9 1186.9 730.1 1187.8 731.4 1187.6 732.6 1187.6 733.8 1188.5 735.0 1188.5 736.2 1188.8 737.5 1189.0 738.7 1189.9 739.9 1189.9 741.1 1189.7 742.3 1189.9 743.6 1190.5 744.8 1190.0 746.0 1191.0 747.2 1190.3 748.5 1191.3 749.7 1191.4 750.9 1192.0 752.1 1192.2 753.4 1193.2 754.6 1192.6 755.8 1192.7 757.1 1193.0 758.3 1192.8 759.5 1192.9 760.8 1193.6 762.0 1194.0 763.2 1194.0 764.5 1194.7 765.7 1194.5 766.9 1195.2 768.2 1195.2 769.4 1194.3 770.7 1195.3 771.9 1195.4 773.1 1195.0 774.4 1195.9 775.6 1195.4 776.9 1195.9 778.1 1196.0 779.3 1196.8 780.6 1196.1 781.8 1196.8 783.1 1196.7 784.3 1196.8 785.6 1196.5 786.8 1198.1 788.0 1196.6 789.3 1197.1 790.5 1197.8 791.8 1197.4 793.0 1197.7 794.3 1197.4 795.5 1197.9 796.8 1197.8 798.0 1197.8 799.3 1197.5 800.5 1197.6 801.8 1197.7 803.0 1197.0 804.3 1197.7 805.5 1198.5 806.8 1197.5 808.0 1198.2 809.3 1197.7 810.5 1197.5 811.8 1196.8 813.0 1197.6 814.2 1196.7 815.5 1196.8 816.7 1196.8 818.0 1196.8 819.2 1196.3 820.4 1196.0 821.6 1195.7 822.9 1196.0 824.1 1194.8 825.3 1195.1 826.5 1194.9 827.7 1195.1 828.9 1194.7 830.2 1194.5 831.4 1193.6 832.6 1193.4 833.8 1193.6 835.0 1193.6 836.2 1192.4 837.4 1191.8 838.6 1192.0 839.8 1191.3 841.0 1190.1 842.2 1191.0 843.4 1190.1 844.6 1190.3 845.8 1189.4 847.0 1188.8 848.2 1189.1 849.5 1188.6 850.7 1188.2 851.9 1187.7 853.1 1188.2 854.3 1187.7 855.5 1187.3 856.7 1186.8 857.9 1186.0 859.1 1186.5 860.4 1185.9 861.6 1185.6 862.8 1185.1 864.0 1185.3 865.2 1185.2 866.4 1185.0 867.6 1184.4 868.8 1183.8 870.0 1183.9 871.2 1183.4 872.5 1182.2 873.7 1182.0 874.9 1181.6 876.1 1181.3 877.3 1181.0 878.5 1180.5 879.7 1179.9 880.9 1181.1 882.1 1179.7 883.3 1179.6 884.5 1179.9 885.7 1179.1 886.9 1179.3 888.2 1178.0 889.4 1178.2 890.6 1178.4 891.8 1177.4 893.0 1176.6 894.2 1176.8 895.3 1176.9 896.5 1175.0 897.7 1176.1 898.9 1175.7 900.1 1174.4 901.3 1174.4 902.5 1174.6 903.7 1172.8 904.9 1173.4 906.1 1173.0 907.2 1172.1 908.4 1171.6 909.6 1169.9 910.8 1170.1 912.0 1170.5 913.1 1172.0 914.3 1170.3 915.5 1169.7 916.6 1168.7 917.8 1168.2 918.9 1166.4 920.1 1168.1 921.3 1166.0 922.4 1165.0 923.6 1165.4 924.7 1165.5 925.9 1165.2 927.0 1163.9 928.2 1164.7 929.3 1163.7 930.5 1164.4 931.6 1162.8 932.7 1163.5 933.9 1161.1 935.0 1161.7 936.2 1162.4 937.3 1161.5 938.4 1160.6 939.6 1159.4 940.7 1159.0 941.8 1158.6 943.0 1156.5 944.1 1157.4 945.3 1156.9 946.4 1155.4 947.5 1155.9 948.7 1154.4 949.8 1154.2 950.9 1154.6 952.1 1151.8 953.2 1152.3 954.4 1151.2 955.5 1151.1 956.6 1150.2 957.8 1150.3 958.9 1150.3 960.1 1150.2 961.2 1149.6 962.4 1149.6 963.5 1148.8 964.7 1148.2 965.8 1146.7 967.0 1146.6 968.1 1146.6 969.3 1144.5 970.5 1144.9 971.6 1144.9 972.8 1144.4 974.0 1144.4 975.1 1143.9 976.3 1144.7 977.5 1142.6 978.7 1141.2 979.8 1140.8 981.0 1140.5 982.2 1140.8 983.4 1140.9 984.6 1140.4 985.7 1139.2 986.9 1140.2 988.1 1140.9 989.3 1138.5 990.5 1137.9 991.7 1138.0 992.8 1137.1 994.0 1135.6 995.2 1134.1 996.4 1134.9 997.6 1136.9 998.7 1134.3 999.9 1135.2 1001.1 1134.6 1002.3 1133.7 1003.4 1132.6 1004.6 1132.7 1005.8 1132.0 1006.9 1132.9 1008.1 1131.4 1009.2 1133.0 1010.4 1131.2 1011.6 1130.0 1012.7 1127.8 1013.9 1128.7 1015.0 1127.7 1016.2 1128.0 1017.3 1127.0 1018.5 1126.7 1019.7 1128.6 1020.8 1126.6 1022.0 1126.6 1023.2 1125.8 1024.4 1126.2 1025.5 1127.3 1026.7 1123.9 1027.9 1124.4 1029.1 1123.3 1030.3 1123.7 1031.5 1121.2 1032.7 1123.3 1033.9 1122.0 1035.1 1121.3 1036.4 1120.0 1037.6 1121.0 1038.8 1122.5 1040.0 1121.3 1041.3 1119.5 1042.5 1119.0 1043.7 1118.3 1045.0 1120.6 1046.2 1118.8 1047.5 1119.4 1048.7 1120.5 1049.9 1118.5 1051.2 1120.0 1052.4 1120.9 1053.7 1121.2 1054.9 1120.2 1056.2 1118.8 1057.4 1120.0 1058.7 1119.4 1059.9 1119.2 1061.2 1119.5 1062.4 1116.8 1063.7 1116.6 1064.9 1119.7 1066.2 1116.6 1067.4 1117.8 1068.7 1116.0 1069.9 1117.9 1071.2 1118.3 1072.4 1116.2 1073.7 1119.2 1074.9 1117.6 1076.2 1120.1 1077.4 1117.0 1078.7 1118.5 1079.9 1119.7 1081.2 1119.3 1082.4 1119.3 1083.6 1118.6 1084.9 1117.6 1086.1 1118.1 1087.4 1117.4 1088.6 1116.0 1089.8 1117.2 1091.1 1117.7 1092.3 1117.5 1093.5 1113.6 1094.7 1116.4 1096.0 1115.8 1097.2 1115.5 1098.4 1115.5 1099.7 1115.6 1100.9 1115.7 1102.1 1115.1 1103.4 1116.4 1104.6 1114.0 1105.8 1115.0 1107.1 1116.3 1108.3 1114.6 1109.5 1112.7 1110.8 1113.4 1112.0 1112.7 1113.3 1111.2 1114.5 1112.3 1115.8 1112.9 1117.0 1111.0 1118.3 1113.0 1119.5 1109.5 1120.8 1111.9 1122.0 1113.5 1123.3 1113.9 1124.5 1114.7 1125.8 1113.0 1127.0 1112.3 1128.3 1110.0 1129.5 1111.6 1130.8 1110.9 1132.0 1113.1 1133.3 1112.4 1134.5 1111.8 1135.8 1113.2 1137.0 1114.0 1138.3 1113.4 1139.5 1112.0 1140.8 1111.6 1142.0 1113.7 1143.3 1115.5 1144.5 1113.6 1145.7 1112.4 1147.0 1114.1 1148.2 1112.7 1149.5 1111.6 1150.7 1114.1 1152.0 1112.8 1153.2 1115.2 1154.5 1109.7 1155.7 1113.2 1157.0 1114.5 1158.2 1114.2 1159.4 1114.8 1160.7 1116.5 1161.9 1112.9 1163.2 1113.0 1164.4 1113.0 1165.7 1116.1 1166.9 1114.2 1168.1 1115.0 1169.4 1113.1 1170.6 1114.0 1171.9 1115.8 1173.1 1120.5 1174.4 1115.9 1175.6 1115.4 1176.8 1117.9 1178.1 1117.4 1179.3 1113.1 1180.6 1116.8 1181.8 1115.0 1183.1 1116.2 1184.3 1115.8 1185.5 1122.0 1186.8 1120.6 1188.0 1120.0 1189.3 1122.1 1190.5 1119.5 1191.8 1115.5 1193.0 1118.2 1194.3 1116.3 1195.5 1119.1 1196.8 1118.8 1198.0 1118.6 1199.3 1120.2 1200.5 1120.2 1201.7 1119.9 1203.0 1120.4 1204.2 1120.2 1205.5 1119.5 1206.7 1116.8 1208.0 1114.1 1209.2 1115.6 1210.5 1117.3 1211.7 1119.9 1213.0 1117.3 1214.2 1119.3 1215.5 1119.4 1216.7 1119.8 1218.0 1120.3 1219.2 1119.4 1220.5 1120.0 1221.7 1117.6 1223.0 1119.8 1224.2 1119.8 1225.5 1122.7 1226.7 1122.0 1228.0 1121.6 1229.2 1120.0 1230.5 1119.9 1231.7 1119.3 1232.9 1120.3 1234.2 1118.7 1235.4 1120.5 1236.7 1120.7 1237.9 1122.0 1239.2 1127.7 1240.4 1124.5 1241.7 1120.7 1242.9 1123.9 1244.1 1120.9 1245.4 1120.5 1246.6 1122.6 1247.9 1122.1 1249.1 1121.1 1250.3 1121.4 1251.6 1121.4 1252.8 1124.2 1254.0 1119.7 1255.3 1118.3 1256.5 1121.4 1257.8 1118.9 1259.0 1122.3 1260.2 1121.6 1261.5 1123.0 1262.7 1123.9 1263.9 1122.6 1265.2 1126.4 1266.4 1122.5 1267.6 1124.2 1268.9 1124.4 1270.1 1125.0 1271.4 1123.2 1272.6 1124.4 1273.8 1125.7 1275.1 1127.6 1276.3 1127.5 1277.5 1126.9 1278.8 1126.8 1280.0 1129.4 1281.3 1126.4 1282.5 1126.6 1283.8 1127.0 1285.0 1128.1 1286.2 1129.1 1287.5 1129.1 1288.7 1131.3 1290.0 1131.0 1291.2 1130.4 1292.5 1132.9 1293.7 1128.0 1295.0 1129.4 1296.2 1129.8 1297.5 1126.9 1298.7 1128.9 1300.0 1128.1 1301.2 1127.0 1302.5 1130.2 1303.7 1127.9 1305.0 1128.7 1306.2 1129.5 1307.5 1129.2 1308.7 1128.8 1310.0 1128.7 1311.2 1127.9 1312.5 1129.9 1313.7 1127.9 1315.0 1130.5 1316.2 1127.7 1317.5 1130.1 1318.7 1127.5 1320.0 1126.4 1321.2 1128.8 1322.5 1126.1 1323.7 1131.0 1325.0 1130.1 1326.2 1129.8 1327.5 1128.8 1328.7 1129.4 1330.0 1128.6 1331.2 1131.7 1332.5 1129.6 1333.7 1127.9 1335.0 1127.6 1336.2 1130.3 1337.5 1128.9 1338.7 1130.8 1340.0 1129.7 1341.2 1131.1 1342.5 1126.3 1343.7 1130.8 1344.9 1128.8 1346.2 1131.4 1347.4 1131.5 1348.7 1131.2 1349.9 1130.7 1351.2 1131.2 1352.4 1131.8 1353.7 1131.8 1354.9 1129.2 1356.1 1132.0 1357.4 1131.2 1358.6 1130.2 1359.9 1133.1 1361.1 1130.6 1362.4 1132.2 1363.6 1133.1 1364.9 1134.6 1366.1 1131.3 1367.3 1132.4 1368.6 1129.2 1369.8 1132.5 1371.1 1132.5 1372.3 1134.6 1373.6 1131.2 1374.8 1134.7 1376.1 1133.9 1377.3 1134.6 1378.6 1132.5 1379.8 1132.2 1381.1 1132.3 1382.3 1133.1 1383.5 1130.1 1384.8 1135.0 1386.0 1133.0 1387.3 1131.1 1388.5 1134.7 1389.8 1137.3 1391.0 1132.7 1392.3 1131.8 1393.5 1129.2 1394.8 1131.2 1396.0 1135.1 1397.3 1133.7 1398.5 1135.8 1399.8 1133.7 1401.0 1135.8 1402.3 1133.3 1403.5 1136.9 1404.8 1133.8 1406.0 1138.6 1407.3 1134.2 1408.5 1134.3 1409.8 1137.4 1411.0 1138.2 1412.3 1133.4 1413.5 1132.5 1414.8 1137.7 1416.0 1134.8 1417.2 1133.7 1418.5 1138.0 1419.7 1133.0 1421.0 1135.6 1422.2 1136.5 1423.5 1137.0 1424.7 1137.2 1426.0 1133.5 1427.2 1135.8 1428.5 1136.0 1429.7 1138.4 1431.0 1137.0 1432.2 1134.4 1433.5 1134.2 1434.7 1135.7 1436.0 1140.9 1437.2 1136.6 1438.5 1134.6 1439.7 1136.2 1441.0 1137.1 1442.2 1135.5 1443.5 1134.6 1444.7 1138.5 1446.0 1137.8 1447.2 1138.3 1448.5 1134.6 1449.7 1135.3 1451.0 1135.6 1452.2 1136.9 1453.5 1137.4 1454.7 1134.7 1456.0 1135.6 1457.2 1138.0 1458.5 1138.6 1459.7 1141.5 1461.0 1138.6 1462.2 1140.6 1463.5 1135.1 1464.8 1139.2 1466.0 1135.5 1467.3 1136.5 1468.5 1138.3 1469.8 1138.2 1471.0 1136.8 1472.3 1139.2 1473.5 1134.6 1474.8 1136.7 1476.0 1137.9 1477.3 1136.4 1478.5 1137.8 1479.8 1141.1 1481.0 1136.6 1482.3 1137.5 1483.5 1135.9 1484.8 1135.1 1486.0 1137.0 1487.3 1139.0 1488.5 1135.9 1489.8 1139.7 1491.0 1138.4 1492.3 1135.8 1493.5 1134.8 1494.8 1134.3 1496.0 1136.6 1497.3 1134.7 1498.5 1137.8 1499.8 1135.8 1501.0 1137.2 1502.3 1138.8 1503.5 1141.4 1504.8 1135.5 1506.0 1140.8 1507.3 1139.3 1508.5 1140.2 1509.8 1137.4 1511.0 1140.0 1512.3 1135.3 1513.5 1137.4 1514.8 1137.2 1516.0 1138.1 1517.3 1133.6 1518.5 1133.0 1519.8 1139.7 1521.0 1138.9 1522.3 1136.3 1523.5 1136.9 1524.8 1134.7 1526.0 1140.4 1527.3 1134.4 1528.5 1138.5 1529.8 1137.9 1531.0 1140.2 1532.3 1140.8 1533.5 1135.7 1534.8 1135.1 1536.0 1136.6 1537.3 1132.1 1538.5 1137.6 1539.8 1137.2 1541.0 1132.8 1542.3 1140.4 1543.5 1135.9 1544.8 1139.6 1546.0 1136.4 1547.3 1141.6 1548.5 1138.0 1549.8 1136.7 1551.1 1140.1 1552.3 1137.0 1553.6 1135.5 1554.8 1135.2 1556.1 1137.1 1557.3 1137.0 1558.6 1136.0 1559.8 1136.5 1561.1 1137.9 1562.3 1137.2 1563.6 1140.7 1564.8 1140.3 1566.1 1135.8 1567.3 1136.0 1568.6 1142.2 1569.8 1138.3 1571.1 1135.2 1572.3 1137.4 1573.6 1129.8 1574.8 1130.3 1576.1 1133.1 1577.3 1129.7 1578.6 1129.6 1579.8 1136.3 1581.1 1137.3 1582.3 1135.8 1583.6 1140.7 1584.8 1135.8 1586.1 1139.7 1587.3 1136.0 1588.6 1135.5 1589.8 1137.7 1591.1 1137.7 1592.3 1134.2 1593.6 1135.6 1594.8 1139.3 1596.1 1140.1 1597.3 1140.7 1598.6 1140.0 1599.8 1136.0 1601.1 1138.1 1602.3 1138.0 1603.6 1136.4 1604.8 1138.9 1606.1 1137.0 1607.3 1139.0 1608.6 1138.5 1609.8 1138.8 1611.1 1137.6 1612.3 1134.9 1613.6 1134.7 1614.8 1137.2 1616.1 1136.7 1617.3 1139.0 1618.6 1134.0 1619.8 1138.4 1621.1 1136.6 1622.3 1133.1 1623.6 1138.1 1624.8 1137.0 1626.1 1135.4 1627.3 1135.0 1628.6 1138.6 1629.8 1134.8 1631.1 1139.7 1632.3 1135.8 1633.6 1137.8 1634.8 1137.7 1636.1 1138.0 1637.3 1138.9 1638.6 1135.1 1639.8 1139.1 1641.1 1136.8 1642.4 1135.6 1643.6 1134.9 1644.9 1135.1 1646.1 1138.2 1647.4 1135.7 1648.6 1135.3 1649.9 1134.6 1651.1 1133.9 1652.4 1138.9 1653.6 1137.4 1654.9 1133.2 1656.1 1135.8 1657.4 1135.8 1658.6 1138.7 1659.9 1136.4 1661.1 1137.7 1662.4 1141.7 1663.6 1132.8 1664.9 1139.7 1666.1 1137.2 1667.4 1136.7 1668.6 1134.3 1669.9 1135.5 1671.1 1137.9 1672.4 1133.7 1673.6 1133.5 1674.9 1138.6 1676.1 1135.8 1677.4 1135.6 1678.6 1132.9 1679.9 1135.2 1681.1 1134.9 1682.4 1134.6 1683.6 1134.6 1684.9 1135.4 1686.1 1136.9 1687.4 1132.7 1688.6 1135.0 1689.9 1135.3 1691.1 1133.5 1692.4 1133.7 1693.6 1131.5 1694.9 1131.5 1696.1 1133.7 1697.4 1135.1 1698.6 1136.3 1699.9 1138.9 1701.1 1135.9 1702.4 1137.2 1703.6 1133.0 1704.9 1133.6 1706.1 1132.7 1707.4 1131.8 1708.6 1137.3 1709.9 1133.4 1711.1 1134.7 1712.4 1138.0 1713.6 1134.8 1714.9 1136.5 1716.1 1137.6 1717.4 1138.4 1718.6 1136.7 1719.9 1134.1 1721.1 1135.1 1722.4 1136.1 1723.6 1134.5 1724.9 1133.5 1726.1 1137.7 1727.4 1139.7 1728.7 1136.2 1729.9 1132.0 1731.2 1141.9 1732.4 1136.0 1733.7 1136.4 1734.9 1137.0 1736.2 1134.9 1737.4 1138.8 1738.7 1137.5 1739.9 1138.1 1741.2 1136.6 1742.4 1135.6 1743.7 1138.6 1744.9 1134.1 1746.2 1134.7 1747.4 1137.5 1748.7 1136.9 1749.9 1133.4 1751.2 1133.6 1752.4 1133.4 1753.7 1137.9 1754.9 1133.1 1756.2 1131.8 1757.4 1131.1 1758.7 1135.3 1759.9 1133.3 1761.2 1135.4 1762.4 1140.1 1763.7 1136.8 1764.9 1131.4 1766.2 1137.4 1767.4 1131.9 1768.7 1133.4 1769.9 1135.7 1771.2 1131.4 1772.4 1129.6 1773.7 1135.0 1774.9 1127.1 1776.2 1132.2 1777.4 1134.9 1778.7 1134.0 1779.9 1129.1 1781.2 1133.7 1782.4 1135.9 1783.7 1129.3 1784.9 1134.7 1786.2 1135.6 1787.4 1138.7 1788.7 1137.5 1789.9 1133.7 1791.2 1133.3 1792.4 1135.6 1793.7 1129.8 1794.9 1136.1 1796.2 1136.0 1797.4 1135.1 1798.7 1132.5 1799.9 1132.0 1801.2 1131.1 1802.4 1133.7 1803.7 1137.4 1804.9 1135.5 1806.2 1135.3 1807.4 1139.2 1808.7 1136.4 1809.9 1137.1 1811.2 1134.5 1812.4 1138.2 1813.7 1137.1 1815.0 1133.2 1816.2 1138.8 1817.5 1135.5 1818.7 1137.6 1820.0 1136.5 1821.2 1131.1 1822.5 1134.0 1823.7 1141.2 1825.0 1135.8 1826.2 1135.0 1827.5 1135.2 1828.7 1134.9 1830.0 1137.3 1831.2 1141.6 1832.5 1136.3 1833.7 1134.3 1835.0 1137.6 1836.2 1133.9 1837.5 1136.4 1838.7 1141.1 1840.0 1138.7 1841.2 1134.5 1842.5 1142.4 1843.7 1135.6 1845.0 1139.9 1846.2 1136.1 1847.5 1134.8 1848.7 1136.1 1850.0 1137.4 1851.2 1140.8 1852.5 1139.1 1853.7 1140.9 1855.0 1137.0 1856.2 1143.1 1857.5 1142.1 1858.7 1136.8 1860.0 1136.7 1861.2 1136.2 1862.5 1132.6 1863.7 1130.7 1865.0 1137.6 1866.2 1137.5 1867.5 1142.4 1868.7 1137.8 1870.0 1140.6 1871.2 1137.5 1872.5 1132.8 1873.7 1140.2 1875.0 1137.1 1876.2 1134.7 1877.5 1139.9 1878.7 1132.2 1880.0 1138.7 1881.2 1140.5 1882.5 1139.0 1883.7 1141.0 1885.0 1135.3 1886.2 1138.0 1887.5 1138.9 1888.7 1137.6 1890.0 1143.0 1891.2 1135.9 1892.5 1140.8 1893.7 1137.2 1895.0 1138.1 1896.2 1136.3 1897.5 1134.4 1898.7 1139.3 1900.0 1133.0 1901.2 1137.6 1902.5 1140.2 1903.7 1135.7 1905.0 1138.4 1906.2 1137.0 1907.5 1132.9 1908.7 1138.4 1910.0 1141.1 1911.2 1138.8 1912.5 1143.4 1913.7 1135.9 1915.0 1139.6 1916.2 1141.8 1917.5 1138.7 1918.7 1139.3 1920.0 1137.3 1921.2 1136.0 1922.5 1140.0 1923.7 1145.7 1925.0 1136.7 1926.2 1137.8 1927.5 1139.4 1928.8 1136.5 1930.0 1141.8 1931.3 1139.0 1932.5 1143.7 1933.8 1139.5 1935.0 1136.1 1936.3 1141.0 1937.5 1134.4 1938.8 1141.6 1940.0 1135.7 1941.3 1135.8 1942.5 1136.3 1943.8 1141.5 1945.0 1137.8 1946.3 1143.0 1947.5 1141.5 1948.8 1140.3 1950.0 1141.2 1951.3 1139.3 1952.5 1140.1 1953.8 1136.8 1955.0 1138.6 1956.3 1135.4 1957.5 1139.2 1958.8 1137.8 1960.0 1137.1 1961.3 1139.5 1962.5 1134.8 1963.8 1140.5 1965.0 1139.9 1966.3 1133.2 1967.5 1139.4 1968.8 1140.6 1970.0 1137.9 1971.3 1142.7 1972.5 1135.3 1973.8 1137.7 1975.0 1137.1 1976.3 1143.7 1977.5 1140.4 1978.8 1134.5 1980.0 1142.3 1981.3 1142.2 1982.5 1140.9 1983.8 1132.9 1985.0 1136.4 1986.3 1138.7 1987.5 1139.8 1988.8 1140.7 1990.0 1138.8 1991.3 1141.1 1992.5 1139.0 1993.8 1135.5 1995.0 1138.6 1996.3 1136.2 1997.5 1138.0 1998.8 1142.1 2000.0 1150.2 2001.3 1148.9 2002.5 1142.6 2003.8 1136.5 2005.0 1140.3 2006.3 1141.0 2007.5 1133.3 2008.8 1133.9 2010.0 1137.6 2011.3 1139.3 2012.5 1139.9 2013.8 1136.5 2015.0 1142.6 2016.3 1133.1 2017.5 1138.8 2018.8 1140.0 2020.0 1141.2 2021.3 1139.4 2022.5 1142.9 2023.8 1140.6 2025.0 1136.0 2026.3 1140.4 2027.5 1141.6 2028.8 1136.1 2030.0 1145.0 2031.3 1133.0 2032.5 1138.6 2033.8 1142.5 2035.0 1137.5 2036.3 1144.1 2037.5 1135.9 2038.8 1135.4 2040.1 1140.6 2041.3 1141.9 2042.6 1143.5 2043.8 1142.7 2045.1 1142.7 2046.3 1142.6 2047.6 1140.9 2048.8 1141.4 2050.1 1138.4 2051.3 1136.6 2052.6 1144.4 2053.8 1144.9 2055.1 1136.6 2056.3 1135.7 2057.6 1138.1 2058.8 1135.2 2060.1 1139.4 2061.3 1142.0 2062.6 1138.1 2063.8 1146.5 2065.1 1141.2 2066.3 1143.1 2067.6 1137.2 2068.8 1134.9 2070.1 1139.9 2071.3 1139.4 2072.6 1138.3 2073.8 1138.6 2075.1 1138.7 2076.3 1136.1 2077.6 1138.4 2078.8 1142.0 2080.1 1144.1 2081.3 1144.6 2082.6 1135.9 2083.8 1138.9 2085.1 1137.7 2086.3 1137.4 2087.6 1144.8 2088.8 1139.9 2090.1 1140.7 2091.3 1140.9 2092.6 1142.3 2093.8 1139.6 2095.1 1141.0 2096.3 1138.3 2097.6 1145.0 2098.8 1142.5 2100.1 1136.5 2101.3 1141.3 2102.6 1142.5 2103.8 1143.1 2105.1 1135.6 2106.3 1134.7 2107.6 1137.7 2108.8 1142.6 2110.1 1142.3 2111.3 1142.9 2112.6 1134.4 2113.8 1132.6 2115.1 1139.9 2116.3 1142.0 2117.6 1141.4 2118.8 1142.3 2120.1 1137.1 2121.3 1148.2 2122.6 1136.9 2123.8 1145.0 2125.1 1147.3 2126.3 1138.8 2127.6 1142.2 2128.8 1143.3 2130.1 1140.8 2131.3 1137.2 2132.6 1142.4 2133.8 1141.3 2135.1 1140.7 2136.3 1144.1 2137.6 1144.3 2138.8 1141.7 2140.1 1140.4 2141.3 1142.3 2142.6 1136.2 2143.8 1137.7 2145.1 1142.1 2146.3 1141.3 2147.6 1142.2 2148.8 1137.5 2150.1 1141.7 2151.3 1138.3 2152.6 1141.6 2153.8 1143.7 2155.1 1137.3 2156.3 1142.5 2157.6 1141.2 2158.8 1143.9 2160.1 1149.9 2161.3 1143.1 2162.6 1145.3 2163.8 1147.0 2165.1 1139.6 2166.3 1140.6 2167.6 1143.0 2168.8 1141.2 2170.1 1142.3 2171.3 1142.4 2172.6 1140.4 2173.8 1137.1 2175.1 1137.1 2176.3 1140.4 2177.6 1144.6 2178.8 1146.5 2180.1 1141.3 2181.3 1138.6 2182.6 1138.7 2183.8 1142.5 2185.1 1140.1 2186.3 1142.3 2187.6 1143.6 2188.8 1148.5 2190.1 1147.5 2191.3 1137.2 2192.5 1143.5 2193.8 1132.7 2195.0 1141.5 2196.3 1141.3 2197.5 1139.4 2198.8 1148.4 2200.0 1147.0 2201.3 1148.9 2202.5 1153.1 2203.8 1148.2 2205.0 1146.0 2206.3 1140.5 2207.5 1142.6 2208.8 1145.4 2210.0 1149.8 2211.3 1142.9 2212.5 1139.7 2213.8 1150.9 2215.0 1150.4 2216.3 1141.5 2217.5 1153.5 2218.7 1148.6 2220.0 1150.6 2221.2 1145.4 2222.5 1152.7 2223.7 1145.1 2225.0 1141.5 2226.2 1144.5 2227.5 1150.0 2228.7 1149.9 2230.0 1149.4 2231.2 1143.7 2232.4 1148.2 2233.7 1143.5 2234.9 1148.1 2236.2 1143.3 2237.4 1142.5 2238.7 1144.5 2239.9 1146.3 2241.2 1145.3 2242.4 1148.6 2243.7 1147.3 2244.9 1145.1 2246.1 1151.6 2247.4 1147.9 2248.6 1146.9 2249.9 1144.2 2251.1 1152.2 2252.4 1149.0 2253.6 1143.8 2254.9 1151.2 2256.1 1153.1 2257.4 1145.9 2258.6 1146.0 2259.8 1144.8 2261.1 1149.1 2262.3 1147.2 2263.6 1152.4 2264.8 1152.8 2266.1 1150.0 2267.3 1149.2 2268.6 1152.0 2269.8 1146.6 2271.1 1153.1 2272.3 1150.2 2273.6 1153.7 2274.8 1148.5 2276.1 1144.4 2277.3 1155.6 2278.6 1154.9 2279.8 1157.1 2281.1 1163.0 2282.3 1157.0 2283.6 1151.3 2284.8 1160.3 2286.1 1151.1 2287.3 1151.7 2288.6 1149.2 2289.8 1154.0 2291.1 1155.4 2292.3 1158.2 2293.6 1152.1 2294.8 1153.0 2296.1 1149.1 2297.3 1148.0 2298.6 1152.5 2299.8 1145.1 2301.0 1149.4 2302.3 1150.4 2303.5 1147.1 2304.8 1152.5 2306.0 1147.2" stroke="#7E0085"/>
</g>
<g fill="#000">
<text transform="translate(276.00 1607.20) scale(1 1.04)" x="0" y="0" font-family="'Liberation Sans', sans-serif" font-size="63" text-anchor="middle">200</text>
<text transform="translate(515.00 1607.20) scale(1 1.04)" x="0" y="0" font-family="'Liberation Sans', sans-serif" font-size="63" text-anchor="middle">220</text>
<text transform="translate(754.00 1607.20) scale(1 1.04)" x="0" y="0" font-family="'Liberation Sans', sans-serif" font-size="63" text-anchor="middle">240</text>
<text transform="translate(993.00 1607.20) scale(1 1.04)" x="0" y="0" font-family="'Liberation Sans', sans-serif" font-size="63" text-anchor="middle">260</text>
<text transform="translate(1232.00 1607.20) scale(1 1.04)" x="0" y="0" font-family="'Liberation Sans', sans-serif" font-size="63" text-anchor="middle">280</text>
<text transform="translate(1471.00 1607.20) scale(1 1.04)" x="0" y="0" font-family="'Liberation Sans', sans-serif" font-size="63" text-anchor="middle">300</text>
<text transform="translate(1710.00 1607.20) scale(1 1.04)" x="0" y="0" font-family="'Liberation Sans', sans-serif" font-size="63" text-anchor="middle">320</text>
<text transform="translate(1949.00 1607.20) scale(1 1.04)" x="0" y="0" font-family="'Liberation Sans', sans-serif" font-size="63" text-anchor="middle">340</text>
<text transform="translate(2188.00 1607.20) scale(1 1.04)" x="0" y="0" font-family="'Liberation Sans', sans-serif" font-size="63" text-anchor="middle">360</text>
<text transform="translate(244.50 1446.30) scale(1 1.04)" x="0" y="0" font-family="'Liberation Sans', sans-serif" font-size="63" text-anchor="end">0.0</text>
<text transform="translate(244.50 946.85) scale(1 1.04)" x="0" y="0" font-family="'Liberation Sans', sans-serif" font-size="63" text-anchor="end">0.1</text>
<text transform="translate(244.50 447.40) scale(1 1.04)" x="0" y="0" font-family="'Liberation Sans', sans-serif" font-size="63" text-anchor="end">0.2</text>
<text transform="translate(93.2 1227) rotate(-90)" x="0" y="0" font-family="'Liberation Sans', sans-serif" font-size="84.4">Absorbance (Arb. Units)</text>
<text transform="translate(1170.40 1725.50) scale(1 1.0)" x="0" y="0" font-family="'Noto Serif CJK SC', 'Liberation Serif', serif" font-size="72" text-anchor="start">λ</text>
<text transform="translate(1238.50 1726.00) scale(1 0.97)" x="0" y="0" font-family="'Liberation Sans', sans-serif" font-size="85" text-anchor="start">(nm)</text>
<text transform="translate(650.60 377.60) scale(1 1.02)" x="0" y="0" font-family="'Liberation Sans', sans-serif" font-size="71" text-anchor="start">230 nm</text>
<text transform="translate(1067.30 378.20) scale(1 1.02)" x="0" y="0" font-family="'Liberation Sans', sans-serif" font-size="71" text-anchor="start">265 nm</text>
</g>
<line x1="1435.5" y1="83.4" x2="1592.3" y2="83.4" stroke="#EE0000" stroke-width="7.3" stroke-linecap="round"/>
<text transform="translate(1611.30 106.30) scale(1 1.025)" x="0" y="0" font-family="'Liberation Sans', sans-serif" font-size="70" text-anchor="start">Nafion-TEG(1:4)</text>
<line x1="1435.5" y1="169.7" x2="1592.3" y2="169.7" stroke="#FF8800" stroke-width="7.3" stroke-linecap="round"/>
<text transform="translate(1611.30 192.60) scale(1 1.025)" x="0" y="0" font-family="'Liberation Sans', sans-serif" font-size="70" text-anchor="start">Nafion-TEG(1:1)</text>
<line x1="1435.5" y1="256.0" x2="1592.3" y2="256.0" stroke="#008400" stroke-width="7.3" stroke-linecap="round"/>
<text transform="translate(1611.30 278.90) scale(1 1.025)" x="0" y="0" font-family="'Liberation Sans', sans-serif" font-size="70" text-anchor="start">Nafion-TEG(4:1)</text>
<line x1="1435.5" y1="342.3" x2="1592.3" y2="342.3" stroke="#40D0FF" stroke-width="7.3" stroke-linecap="round"/>
<text transform="translate(1611.30 365.20) scale(1 1.025)" x="0" y="0" font-family="'Liberation Sans', sans-serif" font-size="70" text-anchor="start">Nafion-TEG(1:4)-Pt/C</text>
<line x1="1435.5" y1="428.6" x2="1592.3" y2="428.6" stroke="#7E0085" stroke-width="7.3" stroke-linecap="round"/>
<text transform="translate(1611.30 451.50) scale(1 1.025)" x="0" y="0" font-family="'Liberation Sans', sans-serif" font-size="70" text-anchor="start">Nafion-TEG(1:1)-Pt/C</text>
</svg>
</body></html>
